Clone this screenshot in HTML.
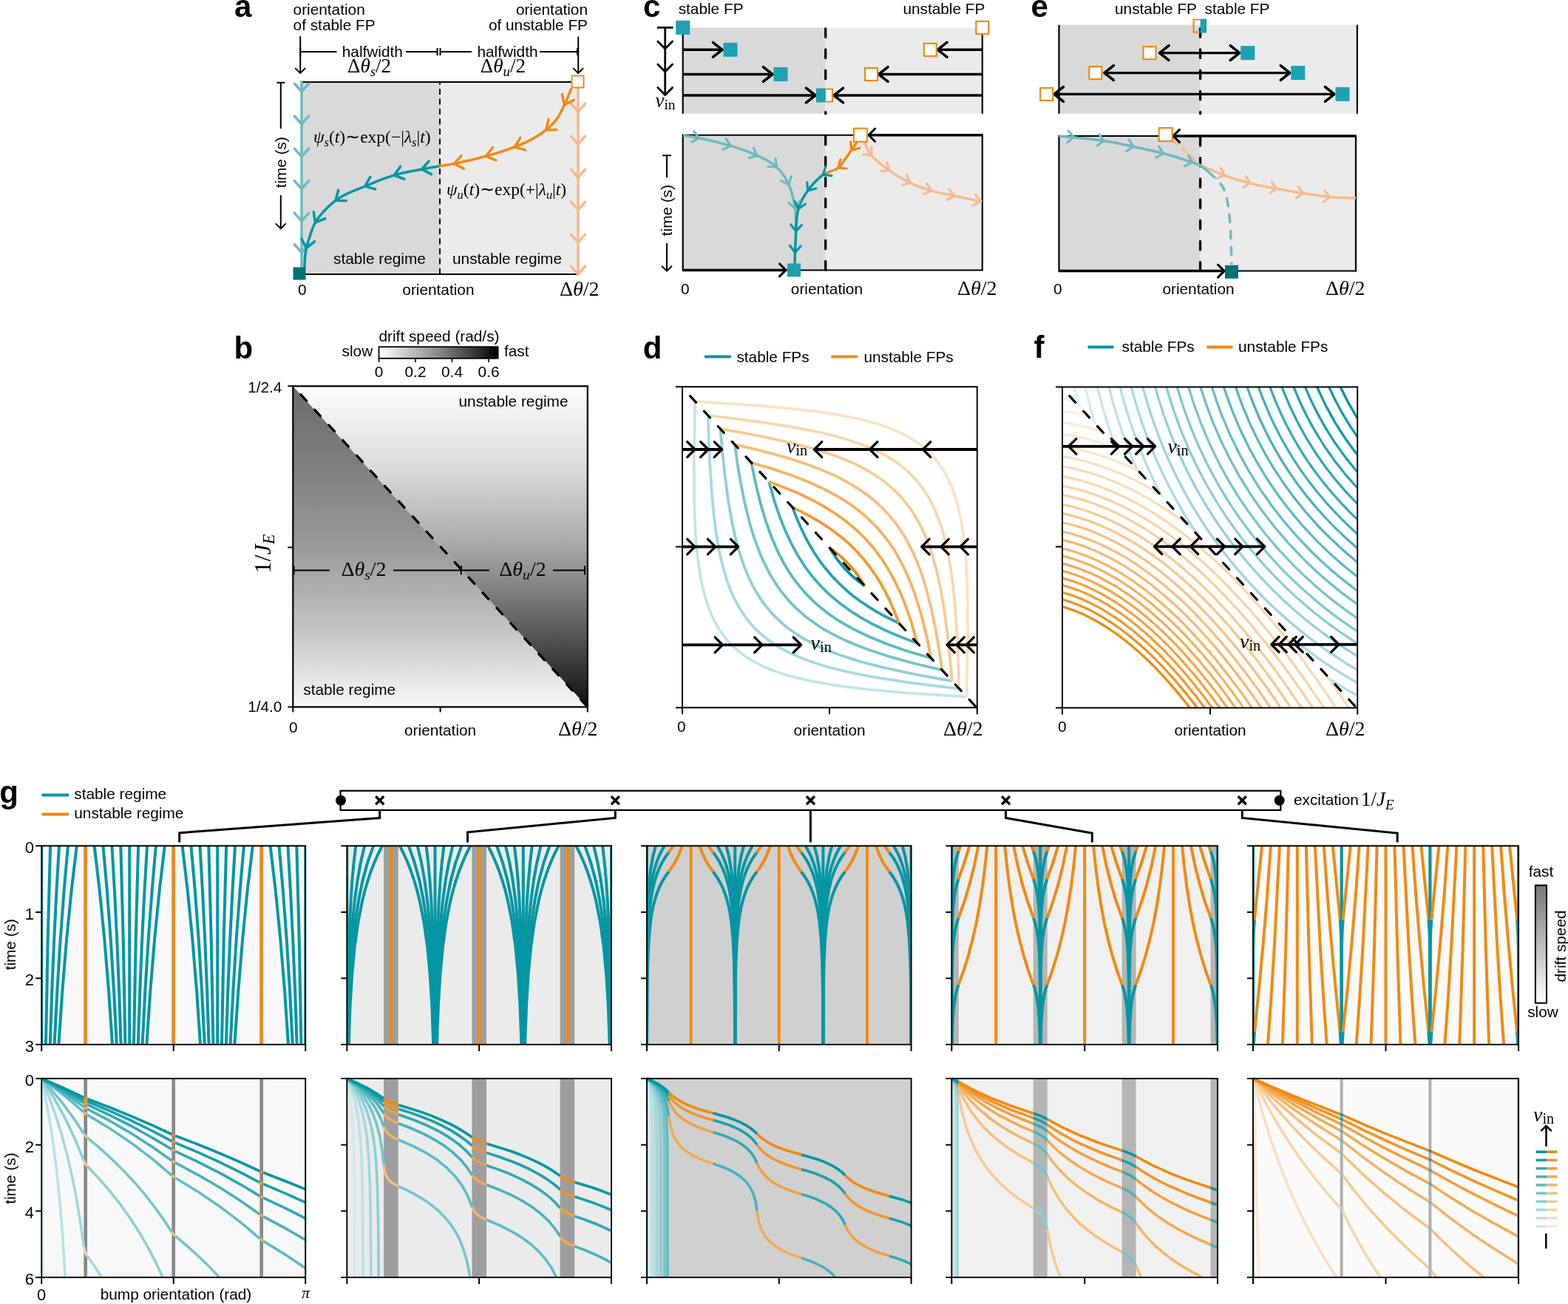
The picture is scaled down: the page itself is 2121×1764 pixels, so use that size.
<!DOCTYPE html>
<html><head><meta charset="utf-8"><style>html,body{margin:0;padding:0;background:#fff;}svg{display:block;}</style></head>
<body><svg xmlns="http://www.w3.org/2000/svg" width="2121" height="1764" viewBox="0 0 2121 1764">
<defs><linearGradient id="gLL" x1="0" y1="522.3" x2="0" y2="956.4" gradientUnits="userSpaceOnUse"><stop offset="0" stop-color="#6c6c6c"/><stop offset="0.25" stop-color="#7f7f7f"/><stop offset="0.5" stop-color="#9a9a9a"/><stop offset="0.75" stop-color="#c2c2c2"/><stop offset="1" stop-color="#f8f8f8"/></linearGradient>
<linearGradient id="gUR" x1="0" y1="522.3" x2="0" y2="956.4" gradientUnits="userSpaceOnUse"><stop offset="0" stop-color="#fdfdfd"/><stop offset="0.25" stop-color="#dcdcdc"/><stop offset="0.5" stop-color="#a8a8a8"/><stop offset="0.75" stop-color="#5e5e5e"/><stop offset="1" stop-color="#0e0e0e"/></linearGradient>
<linearGradient id="gCB" x1="0" y1="0" x2="1" y2="0" gradientUnits="objectBoundingBox"><stop offset="0" stop-color="#ffffff"/><stop offset="0.5" stop-color="#8a8a8a"/><stop offset="1" stop-color="#000000"/></linearGradient>
<clipPath id="cfT"><path d="M1435.5 523.5 L1836.2 523.5 L1836.2 957.5 L1835.1 957.5 Z"/></clipPath>
<clipPath id="cfO"><path d="M1437 523.5 L1435.5 523.5 L1835.1 957.5 L1437 957.5 Z"/></clipPath>
<clipPath id="cg0t"><rect x="56.2" y="1142.3" width="357" height="272.7"/></clipPath>
<clipPath id="cg0b"><rect x="56.2" y="1457" width="358" height="271"/></clipPath>
<clipPath id="cg1t"><rect x="469.3" y="1142.3" width="357.7" height="272.7"/></clipPath>
<clipPath id="cg1b"><rect x="469.3" y="1457" width="358.7" height="271"/></clipPath>
<clipPath id="cg2t"><rect x="875" y="1142.3" width="357.6" height="272.7"/></clipPath>
<clipPath id="cg2b"><rect x="875" y="1457" width="358.6" height="271"/></clipPath>
<clipPath id="cg3t"><rect x="1287.3" y="1142.3" width="359.7" height="272.7"/></clipPath>
<clipPath id="cg3b"><rect x="1287.3" y="1457" width="360.7" height="271"/></clipPath>
<clipPath id="cg4t"><rect x="1695" y="1142.3" width="359.1" height="272.7"/></clipPath>
<clipPath id="cg4b"><rect x="1695" y="1457" width="360.1" height="271"/></clipPath>
<linearGradient id="gSpd" x1="0" y1="0" x2="0" y2="1" gradientUnits="objectBoundingBox"><stop offset="0" stop-color="#777777"/><stop offset="1" stop-color="#ffffff"/></linearGradient></defs>
<rect width="2121" height="1764" fill="#fff"/>
<rect x="408" y="111" width="187" height="260" fill="#d9d9d9" stroke="none" stroke-width="0"/>
<rect x="595" y="111" width="187" height="260" fill="#ebebeb" stroke="none" stroke-width="0"/>
<line x1="408" y1="111" x2="774" y2="111" stroke="#000" stroke-width="2.2" stroke-linecap="butt"/>
<line x1="413" y1="371" x2="782" y2="371" stroke="#000" stroke-width="2.2" stroke-linecap="butt"/>
<line x1="595" y1="111" x2="595" y2="371" stroke="#000" stroke-width="1.9" stroke-dasharray="8.2,5.3" stroke-dashoffset="4.6"/>
<line x1="408" y1="109" x2="408" y2="371" stroke="#70b9bd" stroke-width="3.5" stroke-linecap="butt"/>
<path d="M398.3 113 408 123.8 417.7 113" fill="none" stroke="#70b9bd" stroke-width="3.5" stroke-linecap="round" stroke-linejoin="round"/>
<path d="M398.3 157 408 167.8 417.7 157" fill="none" stroke="#70b9bd" stroke-width="3.5" stroke-linecap="round" stroke-linejoin="round"/>
<path d="M398.3 201 408 211.8 417.7 201" fill="none" stroke="#70b9bd" stroke-width="3.5" stroke-linecap="round" stroke-linejoin="round"/>
<path d="M398.3 244.7 408 255.5 417.7 244.7" fill="none" stroke="#70b9bd" stroke-width="3.5" stroke-linecap="round" stroke-linejoin="round"/>
<path d="M398.3 288.2 408 299 417.7 288.2" fill="none" stroke="#70b9bd" stroke-width="3.5" stroke-linecap="round" stroke-linejoin="round"/>
<path d="M398.3 330.7 408 341.5 417.7 330.7" fill="none" stroke="#70b9bd" stroke-width="3.5" stroke-linecap="round" stroke-linejoin="round"/>
<line x1="782" y1="119" x2="782" y2="373" stroke="#f8b98e" stroke-width="3.5" stroke-linecap="butt"/>
<path d="M772.3 140.2 782 151 791.7 140.2" fill="none" stroke="#f8b98e" stroke-width="3.5" stroke-linecap="round" stroke-linejoin="round"/>
<path d="M772.3 184.2 782 195 791.7 184.2" fill="none" stroke="#f8b98e" stroke-width="3.5" stroke-linecap="round" stroke-linejoin="round"/>
<path d="M772.3 229.2 782 240 791.7 229.2" fill="none" stroke="#f8b98e" stroke-width="3.5" stroke-linecap="round" stroke-linejoin="round"/>
<path d="M772.3 273.2 782 284 791.7 273.2" fill="none" stroke="#f8b98e" stroke-width="3.5" stroke-linecap="round" stroke-linejoin="round"/>
<path d="M772.3 317.2 782 328 791.7 317.2" fill="none" stroke="#f8b98e" stroke-width="3.5" stroke-linecap="round" stroke-linejoin="round"/>
<path d="M772.3 360.2 782 371 791.7 360.2" fill="none" stroke="#f8b98e" stroke-width="3.5" stroke-linecap="round" stroke-linejoin="round"/>
<path d="M773 119.5 772.6 120.5 772.1 121.7 771.5 123.2 770.8 124.8 770.1 126.6 769.4 128.4 768.5 130.4 767.7 132.4 766.9 134.4 766 136.3 765.1 138.2 764.3 140 763.5 141.7 762.6 143.5 761.8 145.3 760.9 147.1 760 149 759.1 150.8 758.2 152.6 757.2 154.4 756.2 156.1 755.2 157.8 754.1 159.4 753 161 751.9 162.5 750.7 164 749.5 165.4 748.2 166.8 747 168.1 745.7 169.5 744.3 170.7 743 172 741.5 173.3 740.1 174.5 738.6 175.8 737 177 735.4 178.2 733.7 179.5 731.9 180.7 730.2 181.9 728.3 183 726.5 184.2 724.5 185.3 722.6 186.5 720.7 187.6 718.7 188.6 716.8 189.7 714.8 190.7 712.8 191.7 710.8 192.6 708.8 193.6 706.8 194.4 704.7 195.3 702.7 196.2 700.6 197 698.5 197.8 696.4 198.6 694.3 199.4 692.1 200.2 690 201 687.9 201.8 685.9 202.5 683.8 203.2 681.8 203.9 679.8 204.6 677.8 205.3 675.7 206 673.5 206.7 671.2 207.4 668.8 208.1 666.3 208.8 663.6 209.6 660.7 210.4 657.5 211.3 654.2 212.1 650.7 213 647.1 214 643.4 214.9 639.8 215.8 636.2 216.7 632.6 217.5 629.2 218.3 626 219 623 219.7 620.1 220.3 617.2 220.9 614.4 221.4 611.5 221.9 608.8 222.4 606.2 222.8 603.7 223.2 601.4 223.6 599.3 223.9 597.5 224.2 595.8 224.5 594.5 224.7" fill="none" stroke="#f08a12" stroke-width="3.5"/>
<path d="M594.5 224.7 593.4 224.9 592 225.1 590.5 225.4 588.8 225.7 586.9 226 584.8 226.3 582.7 226.7 580.4 227.1 578 227.6 575.5 228 573 228.5 570.5 229 567.9 229.5 565.1 230 562.2 230.6 559.2 231.1 556.1 231.7 552.9 232.3 549.6 233 546.4 233.7 543.1 234.4 539.8 235.2 536.5 236.1 533.3 237 530.1 238 526.8 239.1 523.5 240.2 520.2 241.4 516.8 242.6 513.5 243.9 510.1 245.2 506.8 246.6 503.5 247.9 500.2 249.3 496.9 250.6 493.7 252 490.5 253.3 487.3 254.6 484 255.9 480.8 257.2 477.6 258.5 474.4 259.9 471.2 261.3 468.1 262.7 465.1 264.2 462.2 265.8 459.3 267.5 456.6 269.3 453.9 271.2 451.3 273.3 448.7 275.5 446.2 277.7 443.7 280 441.3 282.4 439 284.8 436.8 287.2 434.8 289.6 432.8 292 431 294.3 429.3 296.6 427.8 298.8 426.4 301.1 425.2 303.3 424.2 305.6 423.2 307.8 422.4 310.1 421.6 312.3 420.8 314.4 420.2 316.6 419.5 318.6 418.9 320.7 418.2 322.6 417.6 324.5 417 326.3 416.4 328 415.9 329.7 415.5 331.3 415.1 332.9 414.7 334.5 414.4 336 414 337.6 413.7 339.2 413.5 340.8 413.2 342.4 413 344.1 412.8 345.9 412.6 347.8 412.5 349.7 412.4 351.6 412.3 353.4 412.2 355.2 412.2 356.9 412.1 358.5 412.1 359.9 412 361.1 412 362" fill="none" stroke="#0396a4" stroke-width="3.5"/>
<path d="M760.3 127.6 763.5 141.7 776.4 135.2" fill="none" stroke="#f08a12" stroke-width="3.5" stroke-linecap="round" stroke-linejoin="round"/>
<path d="M741.9 161.6 738.6 175.8 753.1 175.6" fill="none" stroke="#f08a12" stroke-width="3.5" stroke-linecap="round" stroke-linejoin="round"/>
<path d="M703.9 186.2 696.4 198.6 710.2 202.9" fill="none" stroke="#f08a12" stroke-width="3.5" stroke-linecap="round" stroke-linejoin="round"/>
<path d="M666.3 199.7 657.5 211.3 670.9 216.9" fill="none" stroke="#f08a12" stroke-width="3.5" stroke-linecap="round" stroke-linejoin="round"/>
<path d="M624 210.6 614.4 221.4 627.2 228.1" fill="none" stroke="#f08a12" stroke-width="3.5" stroke-linecap="round" stroke-linejoin="round"/>
<path d="M580 218.1 570.5 229 583.4 235.6" fill="none" stroke="#0396a4" stroke-width="3.5" stroke-linecap="round" stroke-linejoin="round"/>
<path d="M541.7 225.2 533.3 237 546.8 242.3" fill="none" stroke="#0396a4" stroke-width="3.5" stroke-linecap="round" stroke-linejoin="round"/>
<path d="M500.8 239.4 493.7 252 507.7 255.9" fill="none" stroke="#0396a4" stroke-width="3.5" stroke-linecap="round" stroke-linejoin="round"/>
<path d="M457.7 257.2 453.9 271.2 468.4 271.5" fill="none" stroke="#0396a4" stroke-width="3.5" stroke-linecap="round" stroke-linejoin="round"/>
<path d="M424.3 286.7 426.4 301.1 439.9 295.6" fill="none" stroke="#0396a4" stroke-width="3.5" stroke-linecap="round" stroke-linejoin="round"/>
<path d="M408 323 414.4 336 425.5 326.7" fill="none" stroke="#0396a4" stroke-width="3.5" stroke-linecap="round" stroke-linejoin="round"/>
<rect x="396.5" y="361.5" width="17" height="17" fill="#037078" stroke="none" stroke-width="0"/>
<rect x="773.5" y="102.5" width="16" height="16" fill="#fff" stroke="#f08a12" stroke-width="2"/>
<text x="317" y="23.3" font-family="'Liberation Sans', Arial, sans-serif" font-size="42" font-weight="bold" font-style="normal" text-anchor="start" fill="#000">a</text>
<text x="396.6" y="19.8" font-family="'Liberation Sans', Arial, sans-serif" font-size="20.8" font-weight="normal" font-style="normal" text-anchor="start" fill="#000">orientation</text>
<text x="396.6" y="40.9" font-family="'Liberation Sans', Arial, sans-serif" font-size="20.8" font-weight="normal" font-style="normal" text-anchor="start" fill="#000">of stable FP</text>
<text x="795" y="19.8" font-family="'Liberation Sans', Arial, sans-serif" font-size="20.8" font-weight="normal" font-style="normal" text-anchor="end" fill="#000">orientation</text>
<text x="795" y="40.9" font-family="'Liberation Sans', Arial, sans-serif" font-size="20.8" font-weight="normal" font-style="normal" text-anchor="end" fill="#000">of unstable FP</text>
<line x1="406.2" y1="49" x2="406.2" y2="98" stroke="#000" stroke-width="2" stroke-linecap="butt"/>
<path d="M399.8 92.6 406.2 99 412.6 92.6" fill="none" stroke="#000" stroke-width="2" stroke-linecap="round" stroke-linejoin="round"/>
<line x1="782.2" y1="49.5" x2="782.2" y2="98" stroke="#000" stroke-width="2" stroke-linecap="butt"/>
<path d="M775.8 92.6 782.2 99 788.6 92.6" fill="none" stroke="#000" stroke-width="2" stroke-linecap="round" stroke-linejoin="round"/>
<line x1="406.2" y1="70" x2="455.4" y2="70" stroke="#000" stroke-width="2" stroke-linecap="butt"/>
<line x1="549" y1="70" x2="591.6" y2="70" stroke="#000" stroke-width="2" stroke-linecap="butt"/>
<line x1="591.6" y1="65" x2="591.6" y2="75" stroke="#000" stroke-width="2" stroke-linecap="butt"/>
<line x1="595.5" y1="65" x2="595.5" y2="75" stroke="#000" stroke-width="2" stroke-linecap="butt"/>
<line x1="595.5" y1="70" x2="638" y2="70" stroke="#000" stroke-width="2" stroke-linecap="butt"/>
<line x1="730" y1="70" x2="781" y2="70" stroke="#000" stroke-width="2" stroke-linecap="butt"/>
<line x1="781" y1="65" x2="781" y2="75" stroke="#000" stroke-width="2" stroke-linecap="butt"/>
<line x1="406.2" y1="65" x2="406.2" y2="75" stroke="#000" stroke-width="2" stroke-linecap="butt"/>
<text x="462.8" y="76.8" font-family="'Liberation Sans', Arial, sans-serif" font-size="20.8" font-weight="normal" font-style="normal" text-anchor="start" fill="#000">halfwidth</text>
<text x="645.4" y="76.8" font-family="'Liberation Sans', Arial, sans-serif" font-size="20.8" font-weight="normal" font-style="normal" text-anchor="start" fill="#000">halfwidth</text>
<text x="470" y="97.8" font-family="'Liberation Serif', 'Times New Roman', serif" font-size="27" text-anchor="start"><tspan dy="0">Δ</tspan><tspan dy="0" font-style="italic">θ</tspan><tspan dy="5" font-size="18.9" font-style="italic">s</tspan><tspan dy="-5">/2</tspan></text>
<text x="649.8" y="97.8" font-family="'Liberation Serif', 'Times New Roman', serif" font-size="27" text-anchor="start"><tspan dy="0">Δ</tspan><tspan dy="0" font-style="italic">θ</tspan><tspan dy="5" font-size="18.9" font-style="italic">u</tspan><tspan dy="-5">/2</tspan></text>
<text x="424" y="193" font-family="'Liberation Serif', 'Times New Roman', serif" font-size="23.5" text-anchor="start"><tspan dy="0" font-style="italic">ψ</tspan><tspan dy="5" font-size="16.4" font-style="italic">s</tspan><tspan dy="-5">(</tspan><tspan dy="0" font-style="italic">t</tspan><tspan dy="0">)∼exp(−|</tspan><tspan dy="0" font-style="italic">λ</tspan><tspan dy="5" font-size="16.4" font-style="italic">s</tspan><tspan dy="-5">|</tspan><tspan dy="0" font-style="italic">t</tspan><tspan dy="0">)</tspan></text>
<text x="604" y="264" font-family="'Liberation Serif', 'Times New Roman', serif" font-size="23.5" text-anchor="start"><tspan dy="0" font-style="italic">ψ</tspan><tspan dy="5" font-size="16.4" font-style="italic">u</tspan><tspan dy="-5">(</tspan><tspan dy="0" font-style="italic">t</tspan><tspan dy="0">)∼exp(+|</tspan><tspan dy="0" font-style="italic">λ</tspan><tspan dy="5" font-size="16.4" font-style="italic">u</tspan><tspan dy="-5">|</tspan><tspan dy="0" font-style="italic">t</tspan><tspan dy="0">)</tspan></text>
<text x="451" y="356.6" font-family="'Liberation Sans', Arial, sans-serif" font-size="20.8" font-weight="normal" font-style="normal" text-anchor="start" fill="#000">stable regime</text>
<text x="612" y="356.6" font-family="'Liberation Sans', Arial, sans-serif" font-size="20.8" font-weight="normal" font-style="normal" text-anchor="start" fill="#000">unstable regime</text>
<text x="403" y="398.7" font-family="'Liberation Sans', Arial, sans-serif" font-size="20.8" font-weight="normal" font-style="normal" text-anchor="start" fill="#000">0</text>
<text x="592.9" y="399" font-family="'Liberation Sans', Arial, sans-serif" font-size="20.8" font-weight="normal" font-style="normal" text-anchor="middle" fill="#000">orientation</text>
<text x="757" y="399.5" font-family="'Liberation Serif', 'Times New Roman', serif" font-size="28" text-anchor="start"><tspan dy="0">Δ</tspan><tspan dy="0" font-style="italic">θ</tspan><tspan dy="0">/2</tspan></text>
<line x1="374.3" y1="111.8" x2="385.4" y2="111.8" stroke="#000" stroke-width="2" stroke-linecap="butt"/>
<line x1="379.8" y1="111.8" x2="379.8" y2="174" stroke="#000" stroke-width="2" stroke-linecap="butt"/>
<text x="387" y="219.7" font-family="'Liberation Sans', Arial, sans-serif" font-size="20.8" font-weight="normal" font-style="normal" text-anchor="middle" fill="#000" transform="rotate(-90 387 219.7)">time (s)</text>
<line x1="379.8" y1="264" x2="379.8" y2="308" stroke="#000" stroke-width="2" stroke-linecap="butt"/>
<path d="M373.4 302.9 379.8 309.3 386.2 302.9" fill="none" stroke="#000" stroke-width="2" stroke-linecap="round" stroke-linejoin="round"/>
<rect x="923.7" y="37.3" width="193" height="116.5" fill="#d9d9d9" stroke="none" stroke-width="0"/>
<rect x="1116.7" y="37.3" width="212.1" height="116.5" fill="#ebebeb" stroke="none" stroke-width="0"/>
<line x1="923.7" y1="37.3" x2="923.7" y2="153.8" stroke="#000" stroke-width="2.2" stroke-linecap="butt"/>
<line x1="1328.8" y1="37.3" x2="1328.8" y2="153.8" stroke="#000" stroke-width="2.2" stroke-linecap="butt"/>
<line x1="1116.7" y1="38.8" x2="1116.7" y2="153.8" stroke="#000" stroke-width="3.3" stroke-linecap="round" stroke-dasharray="11.5,16.7"/>
<line x1="923.7" y1="67.3" x2="977" y2="67.3" stroke="#000" stroke-width="3.4" stroke-linecap="butt"/>
<path d="M964.4 77.2 977 67.3 964.4 57.4" fill="none" stroke="#000" stroke-width="3.5" stroke-linecap="round" stroke-linejoin="round"/>
<line x1="1328.8" y1="67.3" x2="1268.3" y2="67.3" stroke="#000" stroke-width="3.4" stroke-linecap="butt"/>
<path d="M1280.9 57.4 1268.3 67.3 1280.9 77.2" fill="none" stroke="#000" stroke-width="3.5" stroke-linecap="round" stroke-linejoin="round"/>
<rect x="978.5" y="57.8" width="19" height="19" fill="#1ea1b0" stroke="none" stroke-width="0"/>
<rect x="1249.8" y="58.8" width="17" height="17" fill="#fff" stroke="#f08a12" stroke-width="2.2"/>
<line x1="923.7" y1="100.5" x2="1045" y2="100.5" stroke="#000" stroke-width="3.4" stroke-linecap="butt"/>
<path d="M1032.4 110.4 1045 100.5 1032.4 90.6" fill="none" stroke="#000" stroke-width="3.5" stroke-linecap="round" stroke-linejoin="round"/>
<line x1="1328.8" y1="100.5" x2="1188.5" y2="100.5" stroke="#000" stroke-width="3.4" stroke-linecap="butt"/>
<path d="M1201.1 90.6 1188.5 100.5 1201.1 110.4" fill="none" stroke="#000" stroke-width="3.5" stroke-linecap="round" stroke-linejoin="round"/>
<rect x="1046.5" y="91" width="19" height="19" fill="#1ea1b0" stroke="none" stroke-width="0"/>
<rect x="1170" y="92" width="17" height="17" fill="#fff" stroke="#f08a12" stroke-width="2.2"/>
<line x1="923.7" y1="129" x2="1103" y2="129" stroke="#000" stroke-width="3.4" stroke-linecap="butt"/>
<path d="M1090.4 138.9 1103 129 1090.4 119.1" fill="none" stroke="#000" stroke-width="3.5" stroke-linecap="round" stroke-linejoin="round"/>
<line x1="1328.8" y1="129" x2="1128" y2="129" stroke="#000" stroke-width="3.4" stroke-linecap="butt"/>
<path d="M1140.6 119.1 1128 129 1140.6 138.9" fill="none" stroke="#000" stroke-width="3.5" stroke-linecap="round" stroke-linejoin="round"/>
<rect x="1104" y="119.5" width="12.7" height="19" fill="#1ea1b0" stroke="none" stroke-width="0"/>
<rect x="1116.7" y="120.5" width="9.3" height="17" fill="#fff" stroke="none" stroke-width="0"/>
<path d="M1116.7 120.5 1126 120.5 1126 137.5 1116.7 137.5" fill="none" stroke="#f08a12" stroke-width="2.2"/>
<rect x="914.2" y="27.8" width="19" height="19" fill="#1ea1b0" stroke="none" stroke-width="0"/>
<rect x="1320.3" y="28.8" width="17" height="17" fill="#fff" stroke="#f08a12" stroke-width="2.2"/>
<line x1="888.8" y1="37.3" x2="910.5" y2="37.3" stroke="#000" stroke-width="2.8" stroke-linecap="butt"/>
<line x1="899.7" y1="37.3" x2="899.7" y2="129" stroke="#000" stroke-width="2.8" stroke-linecap="butt"/>
<path d="M889.8 56.1 899.7 66 909.6 56.1" fill="none" stroke="#000" stroke-width="2.8" stroke-linecap="round" stroke-linejoin="round"/>
<path d="M889.8 87.1 899.7 97 909.6 87.1" fill="none" stroke="#000" stroke-width="2.8" stroke-linecap="round" stroke-linejoin="round"/>
<path d="M889.8 118.6 899.7 128.5 909.6 118.6" fill="none" stroke="#000" stroke-width="2.8" stroke-linecap="round" stroke-linejoin="round"/>
<text x="886.4" y="145" font-family="'Liberation Serif', 'Times New Roman', serif" font-size="27"><tspan font-style="italic">v</tspan><tspan font-size="19.4" dy="3">in</tspan></text>
<text x="870" y="22.8" font-family="'Liberation Sans', Arial, sans-serif" font-size="42" font-weight="bold" font-style="normal" text-anchor="start" fill="#000">c</text>
<text x="917.7" y="19.2" font-family="'Liberation Sans', Arial, sans-serif" font-size="20.8" font-weight="normal" font-style="normal" text-anchor="start" fill="#000">stable FP</text>
<text x="1332.4" y="19.2" font-family="'Liberation Sans', Arial, sans-serif" font-size="20.8" font-weight="normal" font-style="normal" text-anchor="end" fill="#000">unstable FP</text>
<rect x="923.7" y="182.7" width="193" height="182.7" fill="#d9d9d9" stroke="none" stroke-width="0"/>
<rect x="1116.7" y="182.7" width="212.1" height="182.7" fill="#ebebeb" stroke="none" stroke-width="0"/>
<line x1="1116.7" y1="184.2" x2="1116.7" y2="365.4" stroke="#000" stroke-width="3.3" stroke-linecap="round" stroke-dasharray="11.5,16.7"/>
<line x1="923.7" y1="181.7" x2="923.7" y2="366.4" stroke="#000" stroke-width="2.2" stroke-linecap="butt"/>
<line x1="1328.8" y1="181.7" x2="1328.8" y2="366.4" stroke="#000" stroke-width="2.2" stroke-linecap="butt"/>
<line x1="923.7" y1="182.7" x2="1328.8" y2="182.7" stroke="#000" stroke-width="2" stroke-linecap="butt"/>
<line x1="923.7" y1="365.4" x2="1328.8" y2="365.4" stroke="#000" stroke-width="2" stroke-linecap="butt"/>
<path d="M924 183.5 925 183.6 926.1 183.8 927.4 183.9 928.8 184.1 930.4 184.2 932.2 184.4 934.1 184.7 936.1 185 938.3 185.3 940.6 185.7 943.1 186.2 945.7 186.7 948.6 187.3 951.7 188 955.1 188.8 958.7 189.6 962.4 190.5 966.3 191.4 970.2 192.4 974 193.4 977.9 194.4 981.6 195.4 985.2 196.4 988.6 197.4 991.9 198.4 995.1 199.4 998.3 200.4 1001.4 201.5 1004.5 202.6 1007.5 203.7 1010.5 204.8 1013.4 205.9 1016.2 207 1019 208.2 1021.7 209.3 1024.3 210.5 1026.8 211.7 1029.3 212.8 1031.7 214 1034.1 215.2 1036.4 216.4 1038.6 217.6 1040.8 218.8 1042.8 220.1 1044.9 221.5 1046.8 222.9 1048.7 224.4 1050.5 226 1052.2 227.7 1053.9 229.4 1055.5 231.2 1057 233 1058.5 234.9 1059.9 236.9 1061.2 238.9 1062.5 240.9 1063.7 243.1 1064.8 245.3 1065.9 247.5 1067 249.8 1068 252.2 1069 254.7 1069.9 257.4 1070.7 260.1 1071.5 262.8 1072.2 265.6 1072.9 268.5 1073.5 271.3 1074.1 274 1074.6 276.8 1075.1 279.4 1075.5 282 1075.8 284.6 1076.1 287.2 1076.3 290 1076.4 292.7 1076.5 295.4 1076.5 298 1076.5 300.5 1076.5 302.9 1076.5 305.1 1076.5 307 1076.5 308.7 1076.5 310" fill="none" stroke="#70b9bd" stroke-width="3.5"/>
<path d="M1169.5 192.6 1169.9 193.5 1170.4 194.5 1170.9 195.8 1171.4 197.2 1172.1 198.7 1172.8 200.3 1173.5 202 1174.4 203.7 1175.4 205.4 1176.5 207.2 1177.7 208.9 1179 210.5 1180.5 212.1 1182.1 213.8 1183.9 215.5 1185.7 217.2 1187.7 218.9 1189.8 220.7 1191.9 222.4 1194.1 224.1 1196.3 225.8 1198.5 227.5 1200.7 229.1 1202.9 230.7 1205.1 232.2 1207.4 233.8 1209.7 235.3 1212.1 236.8 1214.4 238.2 1216.9 239.6 1219.3 241.1 1221.7 242.4 1224.2 243.7 1226.6 245 1229 246.2 1231.4 247.4 1233.8 248.5 1236.1 249.6 1238.5 250.6 1240.8 251.5 1243.2 252.4 1245.5 253.3 1247.9 254.1 1250.3 255 1252.7 255.7 1255.1 256.5 1257.5 257.3 1260 258 1262.5 258.7 1265 259.4 1267.4 260 1269.9 260.6 1272.4 261.1 1274.9 261.7 1277.5 262.2 1280.1 262.8 1282.7 263.3 1285.4 263.8 1288.2 264.4 1291 265 1294 265.6 1297.3 266.3 1300.8 267 1304.4 267.8 1308.1 268.5 1311.7 269.2 1315.2 269.9 1318.5 270.6 1321.6 271.2 1324.3 271.8 1326.7 272.2 1328.5 272.6" fill="none" stroke="#f8b98e" stroke-width="3.5"/>
<path d="M1159 192.3 1158.7 192.8 1158.2 193.5 1157.7 194.2 1157.2 195.1 1156.5 196 1155.9 197 1155.2 198.1 1154.5 199.1 1153.8 200.2 1153.1 201.3 1152.4 202.3 1151.7 203.3 1151 204.3 1150.3 205.3 1149.6 206.3 1148.9 207.3 1148.2 208.3 1147.5 209.4 1146.7 210.4 1146 211.4 1145.2 212.5 1144.5 213.5 1143.7 214.5 1143 215.5 1142.3 216.5 1141.6 217.5 1140.9 218.5 1140.3 219.5 1139.6 220.5 1138.9 221.6 1138.2 222.5 1137.5 223.5 1136.7 224.4 1135.8 225.3 1134.8 226.2 1133.8 227 1132.6 227.8 1131.2 228.6 1129.7 229.3 1128.1 230 1126.4 230.7 1124.7 231.4 1123 232 1121.4 232.6 1120 233.2 1118.7 233.6 1117.6 234.1 1116.7 234.4" fill="none" stroke="#f08a12" stroke-width="3.5"/>
<path d="M1116.7 234.4 1116.4 234.6 1116 234.8 1115.6 235.1 1115.2 235.3 1114.7 235.6 1114.1 236 1113.5 236.3 1112.9 236.7 1112.2 237.2 1111.5 237.8 1110.8 238.3 1110 239 1109.2 239.7 1108.3 240.5 1107.3 241.4 1106.3 242.4 1105.3 243.4 1104.2 244.4 1103.1 245.5 1102 246.6 1101 247.7 1099.9 248.8 1098.9 249.9 1098 251 1097.1 252.1 1096.2 253.2 1095.3 254.4 1094.4 255.6 1093.5 256.7 1092.7 257.9 1091.8 259.1 1091 260.3 1090.2 261.5 1089.4 262.7 1088.7 263.9 1088 265 1087.3 266.1 1086.7 267.2 1086 268.3 1085.4 269.3 1084.8 270.4 1084.3 271.4 1083.8 272.5 1083.2 273.6 1082.7 274.6 1082.3 275.7 1081.8 276.8 1081.4 278 1081 279.2 1080.6 280.3 1080.3 281.5 1080 282.7 1079.7 283.9 1079.4 285.1 1079.1 286.3 1078.9 287.6 1078.6 288.9 1078.4 290.2 1078.2 291.6 1078 293 1077.8 294.5 1077.7 295.9 1077.5 297.4 1077.4 299 1077.3 300.5 1077.2 302.1 1077.1 303.8 1077 305.4 1077 307.2 1076.9 309 1076.8 310.9 1076.7 312.9 1076.6 315 1076.5 317.3 1076.4 319.6 1076.3 322.1 1076.2 324.6 1076.1 327.2 1075.9 329.7 1075.8 332.3 1075.7 334.7 1075.7 337.1 1075.6 339.3 1075.5 341.4 1075.4 343.4 1075.4 345.4 1075.3 347.3 1075.3 349.2 1075.2 351 1075.2 352.8 1075.1 354.4 1075.1 356 1075.1 357.4 1075 358.6 1075 359.7 1075 360.6" fill="none" stroke="#0396a4" stroke-width="3.5"/>
<path d="M935.6 192.1 945.7 186.7 938.6 177.7" fill="none" stroke="#70b9bd" stroke-width="3.2" stroke-linecap="round" stroke-linejoin="round"/>
<path d="M978 202 988.6 197.4 982.3 187.8" fill="none" stroke="#70b9bd" stroke-width="3.2" stroke-linecap="round" stroke-linejoin="round"/>
<path d="M1013.2 213.6 1024.3 210.5 1019.3 200.1" fill="none" stroke="#70b9bd" stroke-width="3.2" stroke-linecap="round" stroke-linejoin="round"/>
<path d="M1039 225.5 1050.5 226 1049 214.6" fill="none" stroke="#70b9bd" stroke-width="3.2" stroke-linecap="round" stroke-linejoin="round"/>
<path d="M1056.7 244.7 1067 249.8 1070.2 238.8" fill="none" stroke="#70b9bd" stroke-width="3.2" stroke-linecap="round" stroke-linejoin="round"/>
<path d="M1066.9 274.3 1075.5 282 1081.6 272.2" fill="none" stroke="#70b9bd" stroke-width="3.2" stroke-linecap="round" stroke-linejoin="round"/>
<path d="M1167.7 208.6 1179 210.5 1178.9 199" fill="none" stroke="#f8b98e" stroke-width="3.2" stroke-linecap="round" stroke-linejoin="round"/>
<path d="M1191.4 231.7 1202.9 230.7 1199.9 219.6" fill="none" stroke="#f8b98e" stroke-width="3.2" stroke-linecap="round" stroke-linejoin="round"/>
<path d="M1220.3 250.3 1231.4 247.4 1226.6 236.9" fill="none" stroke="#f8b98e" stroke-width="3.2" stroke-linecap="round" stroke-linejoin="round"/>
<path d="M1249.5 262.6 1260 258 1253.6 248.4" fill="none" stroke="#f8b98e" stroke-width="3.2" stroke-linecap="round" stroke-linejoin="round"/>
<path d="M1280.9 270.4 1291 265 1283.9 256" fill="none" stroke="#f8b98e" stroke-width="3.2" stroke-linecap="round" stroke-linejoin="round"/>
<path d="M1316.6 277.7 1326.7 272.2 1319.5 263.3" fill="none" stroke="#f8b98e" stroke-width="3.2" stroke-linecap="round" stroke-linejoin="round"/>
<path d="M1150.6 191.9 1151.7 203.3 1162.8 200.2" fill="none" stroke="#f08a12" stroke-width="3.2" stroke-linecap="round" stroke-linejoin="round"/>
<path d="M1136.8 215.9 1133.8 227 1145.3 228" fill="none" stroke="#f08a12" stroke-width="3.2" stroke-linecap="round" stroke-linejoin="round"/>
<path d="M1116.8 225.3 1113.5 236.3 1124.9 237.7" fill="none" stroke="#0396a4" stroke-width="3.2" stroke-linecap="round" stroke-linejoin="round"/>
<path d="M1091.7 246.5 1092.7 257.9 1103.8 255" fill="none" stroke="#0396a4" stroke-width="3.2" stroke-linecap="round" stroke-linejoin="round"/>
<path d="M1075.1 272.3 1080 282.7 1089.4 276" fill="none" stroke="#0396a4" stroke-width="3.2" stroke-linecap="round" stroke-linejoin="round"/>
<path d="M1069.7 303.7 1076.7 312.9 1084.5 304.5" fill="none" stroke="#0396a4" stroke-width="3.2" stroke-linecap="round" stroke-linejoin="round"/>
<path d="M1068.4 332.3 1075.5 341.4 1083.2 332.9" fill="none" stroke="#0396a4" stroke-width="3.2" stroke-linecap="round" stroke-linejoin="round"/>
<line x1="1328.8" y1="182.7" x2="1176" y2="182.7" stroke="#000" stroke-width="3.5" stroke-linecap="butt"/>
<path d="M1183.5 174.2 1175 182.7 1183.5 191.2" fill="none" stroke="#000" stroke-width="3" stroke-linecap="round" stroke-linejoin="round"/>
<line x1="923.7" y1="365.4" x2="1062" y2="365.4" stroke="#000" stroke-width="3.5" stroke-linecap="butt"/>
<path d="M1054.5 373.9 1063 365.4 1054.5 356.9" fill="none" stroke="#000" stroke-width="3" stroke-linecap="round" stroke-linejoin="round"/>
<rect x="1155" y="173.7" width="18" height="18" fill="#fff" stroke="#f08a12" stroke-width="2.2"/>
<rect x="1065" y="356.4" width="18" height="18" fill="#1ea1b0" stroke="none" stroke-width="0"/>
<line x1="896" y1="210.3" x2="908" y2="210.3" stroke="#000" stroke-width="2" stroke-linecap="butt"/>
<line x1="902" y1="210.3" x2="902" y2="240" stroke="#000" stroke-width="2" stroke-linecap="butt"/>
<text x="909" y="284.5" font-family="'Liberation Sans', Arial, sans-serif" font-size="20.8" font-weight="normal" font-style="normal" text-anchor="middle" fill="#000" transform="rotate(-90 909 284.5)">time (s)</text>
<line x1="902" y1="329" x2="902" y2="365" stroke="#000" stroke-width="2" stroke-linecap="butt"/>
<path d="M895.6 360.2 902 366.6 908.4 360.2" fill="none" stroke="#000" stroke-width="2" stroke-linecap="round" stroke-linejoin="round"/>
<text x="921" y="398" font-family="'Liberation Sans', Arial, sans-serif" font-size="20.8" font-weight="normal" font-style="normal" text-anchor="start" fill="#000">0</text>
<text x="1118.4" y="398" font-family="'Liberation Sans', Arial, sans-serif" font-size="20.8" font-weight="normal" font-style="normal" text-anchor="middle" fill="#000">orientation</text>
<text x="1295" y="398.5" font-family="'Liberation Serif', 'Times New Roman', serif" font-size="28" text-anchor="start"><tspan dy="0">Δ</tspan><tspan dy="0" font-style="italic">θ</tspan><tspan dy="0">/2</tspan></text>
<rect x="1432.5" y="33.7" width="191.1" height="120.1" fill="#d9d9d9" stroke="none" stroke-width="0"/>
<rect x="1623.6" y="33.7" width="212.3" height="120.1" fill="#ebebeb" stroke="none" stroke-width="0"/>
<line x1="1432.5" y1="33.7" x2="1432.5" y2="153.8" stroke="#000" stroke-width="2.2" stroke-linecap="butt"/>
<line x1="1835.9" y1="33.7" x2="1835.9" y2="153.8" stroke="#000" stroke-width="2.2" stroke-linecap="butt"/>
<line x1="1623.6" y1="38.7" x2="1623.6" y2="153.8" stroke="#000" stroke-width="3.3" stroke-linecap="round" stroke-dasharray="11.5,16.7"/>
<line x1="1568.5" y1="71.6" x2="1676.8" y2="71.6" stroke="#000" stroke-width="3.4" stroke-linecap="butt"/>
<path d="M1581.1 61.7 1568.5 71.6 1581.1 81.5" fill="none" stroke="#000" stroke-width="3.5" stroke-linecap="round" stroke-linejoin="round"/>
<path d="M1664.2 81.5 1676.8 71.6 1664.2 61.7" fill="none" stroke="#000" stroke-width="3.5" stroke-linecap="round" stroke-linejoin="round"/>
<rect x="1678.3" y="62.1" width="19" height="19" fill="#1ea1b0" stroke="none" stroke-width="0"/>
<rect x="1546.5" y="63.1" width="17" height="17" fill="#fff" stroke="#f08a12" stroke-width="2.2"/>
<line x1="1493.8" y1="98.6" x2="1744.8" y2="98.6" stroke="#000" stroke-width="3.4" stroke-linecap="butt"/>
<path d="M1506.4 88.7 1493.8 98.6 1506.4 108.5" fill="none" stroke="#000" stroke-width="3.5" stroke-linecap="round" stroke-linejoin="round"/>
<path d="M1732.2 108.5 1744.8 98.6 1732.2 88.7" fill="none" stroke="#000" stroke-width="3.5" stroke-linecap="round" stroke-linejoin="round"/>
<rect x="1746.3" y="89.1" width="19" height="19" fill="#1ea1b0" stroke="none" stroke-width="0"/>
<rect x="1473.3" y="90.1" width="17" height="17" fill="#fff" stroke="#f08a12" stroke-width="2.2"/>
<line x1="1425.9" y1="127.4" x2="1805" y2="127.4" stroke="#000" stroke-width="3.4" stroke-linecap="butt"/>
<path d="M1438.5 117.5 1425.9 127.4 1438.5 137.3" fill="none" stroke="#000" stroke-width="3.5" stroke-linecap="round" stroke-linejoin="round"/>
<path d="M1792.4 137.3 1805 127.4 1792.4 117.5" fill="none" stroke="#000" stroke-width="3.5" stroke-linecap="round" stroke-linejoin="round"/>
<rect x="1806.5" y="117.9" width="19" height="19" fill="#1ea1b0" stroke="none" stroke-width="0"/>
<rect x="1407.2" y="118.9" width="17" height="17" fill="#fff" stroke="#f08a12" stroke-width="2.2"/>
<rect x="1623.6" y="26.5" width="-9.1" height="17" fill="#fff" stroke="none" stroke-width="0"/>
<path d="M1623.6 26.5 1614.5 26.5 1614.5 43.5 1623.6 43.5" fill="none" stroke="#f08a12" stroke-width="2.2"/>
<rect x="1623.6" y="25.5" width="8.5" height="19" fill="#1ea1b0" stroke="none" stroke-width="0"/>
<text x="1394.4" y="22.8" font-family="'Liberation Sans', Arial, sans-serif" font-size="42" font-weight="bold" font-style="normal" text-anchor="start" fill="#000">e</text>
<text x="1508" y="19.2" font-family="'Liberation Sans', Arial, sans-serif" font-size="20.8" font-weight="normal" font-style="normal" text-anchor="start" fill="#000">unstable FP</text>
<text x="1629.6" y="19.2" font-family="'Liberation Sans', Arial, sans-serif" font-size="20.8" font-weight="normal" font-style="normal" text-anchor="start" fill="#000">stable FP</text>
<rect x="1432.5" y="183.9" width="191.1" height="182.7" fill="#d9d9d9" stroke="none" stroke-width="0"/>
<rect x="1623.6" y="183.9" width="210.4" height="182.7" fill="#ebebeb" stroke="none" stroke-width="0"/>
<line x1="1623.6" y1="185.4" x2="1623.6" y2="366.6" stroke="#000" stroke-width="3.3" stroke-linecap="round" stroke-dasharray="11.5,16.7"/>
<line x1="1432.5" y1="182.9" x2="1432.5" y2="367.6" stroke="#000" stroke-width="2.2" stroke-linecap="butt"/>
<line x1="1834" y1="182.9" x2="1834" y2="367.6" stroke="#000" stroke-width="2.2" stroke-linecap="butt"/>
<line x1="1432.5" y1="183.9" x2="1834" y2="183.9" stroke="#000" stroke-width="2" stroke-linecap="butt"/>
<line x1="1432.5" y1="366.6" x2="1834" y2="366.6" stroke="#000" stroke-width="2" stroke-linecap="butt"/>
<path d="M1586 190 1586.7 190.6 1587.7 191.3 1588.8 192.2 1590 193.2 1591.4 194.3 1592.8 195.4 1594.3 196.6 1595.7 197.7 1597.1 198.9 1598.5 200 1599.7 201 1600.8 202 1601.8 202.9 1602.7 203.7 1603.5 204.5 1604.3 205.3 1605.1 206.1 1605.8 206.8 1606.5 207.6 1607.2 208.3 1608 209.1 1608.7 209.9 1609.5 210.7 1610.4 211.5 1611.3 212.4 1612.4 213.4 1613.4 214.4 1614.5 215.5 1615.7 216.5 1616.8 217.6 1617.9 218.6 1618.9 219.6 1619.9 220.5 1620.7 221.3 1621.4 222 1622 222.5" fill="none" stroke="#f8b98e" stroke-width="3.5" stroke-dasharray="10,6"/>
<path d="M1634.4 232 1635.4 233 1636.6 234.2 1638.1 235.6 1639.8 237.2 1641.7 238.9 1643.6 240.7 1645.5 242.6 1647.4 244.6 1649.3 246.6 1651 248.6 1652.5 250.5 1653.7 252.4 1654.7 254.2 1655.7 256.1 1656.5 257.9 1657.2 259.7 1657.8 261.5 1658.3 263.4 1658.8 265.4 1659.3 267.4 1659.7 269.5 1660.1 271.7 1660.6 274 1661 276.4 1661.4 279 1661.8 281.6 1662.2 284.4 1662.5 287.2 1662.8 290.1 1663.1 293.1 1663.4 296.2 1663.6 299.3 1663.9 302.5 1664.1 305.8 1664.3 309.1 1664.5 312.5 1664.7 316.1 1664.9 320.1 1665.1 324.3 1665.2 328.7 1665.3 333.1 1665.5 337.5 1665.6 341.8 1665.7 345.9 1665.8 349.6 1665.9 352.9 1665.9 355.8 1666 358" fill="none" stroke="#70b9bd" stroke-width="3.5" stroke-dasharray="13,9"/>
<path d="M1622 222.5 1623.8 223.3 1626 224.2 1628.6 225.4 1631.5 226.7 1634.6 228.1 1638 229.6 1641.5 231.1 1645 232.6 1648.6 234.1 1652 235.5 1655.4 236.8 1658.5 238 1661.5 239.1 1664.5 240.1 1667.5 241.1 1670.5 242.1 1673.5 243 1676.5 243.9 1679.5 244.8 1682.5 245.6 1685.5 246.5 1688.5 247.3 1691.5 248 1694.5 248.8 1697.5 249.5 1700.5 250.2 1703.5 250.9 1706.5 251.5 1709.5 252.1 1712.5 252.7 1715.6 253.3 1718.6 253.8 1721.6 254.4 1724.6 254.9 1727.6 255.5 1730.6 256 1733.6 256.5 1736.6 257.1 1739.6 257.6 1742.6 258.1 1745.6 258.6 1748.6 259.2 1751.6 259.6 1754.6 260.1 1757.6 260.6 1760.6 261.1 1763.6 261.5 1766.6 262 1769.6 262.5 1772.7 262.9 1775.7 263.4 1778.8 263.8 1781.9 264.3 1784.9 264.7 1788 265.1 1791 265.5 1794 265.9 1797 266.2 1799.9 266.5 1802.7 266.8 1805.6 267 1808.6 267.2 1811.6 267.4 1814.6 267.5 1817.7 267.6 1820.6 267.7 1823.4 267.8 1826.1 267.8 1828.5 267.9 1830.7 267.9 1832.5 268 1834 268" fill="none" stroke="#f8b98e" stroke-width="3.5"/>
<path d="M1432.5 183.9 1435.3 184.2 1438.9 184.5 1443.1 184.9 1447.8 185.4 1452.9 185.8 1458.2 186.4 1463.8 186.9 1469.4 187.5 1474.9 188.1 1480.3 188.7 1485.4 189.4 1490 190 1494.4 190.7 1498.6 191.4 1502.8 192.1 1507 192.9 1511 193.7 1515 194.5 1519 195.4 1522.9 196.2 1526.7 197 1530.5 197.9 1534.3 198.7 1538 199.5 1541.7 200.3 1545.4 201.1 1549 201.9 1552.6 202.7 1556.1 203.4 1559.6 204.2 1563 205 1566.3 205.8 1569.6 206.6 1572.8 207.4 1576 208.2 1579 209 1582 209.8 1585 210.7 1587.9 211.5 1590.8 212.4 1593.6 213.3 1596.3 214.2 1598.9 215.1 1601.4 215.9 1603.8 216.7 1606 217.5 1608.1 218.2 1610 218.8 1611.7 219.4 1613.1 219.8 1614.4 220.3 1615.5 220.6 1616.5 221 1617.4 221.3 1618.2 221.6 1619 221.9 1619.8 222.3 1620.6 222.6 1621.4 223.1 1622.4 223.6 1623.5 224.2 1624.6 224.9 1625.7 225.6 1626.9 226.4 1628 227.3 1629.2 228.1 1630.3 228.9 1631.3 229.7 1632.3 230.4 1633.1 231 1633.8 231.6 1634.4 232" fill="none" stroke="#70b9bd" stroke-width="3.5"/>
<path d="M1443.9 192.8 1452.4 185.8 1445.4 177.3" fill="none" stroke="#70b9bd" stroke-width="3.2" stroke-linecap="round" stroke-linejoin="round"/>
<path d="M1484.3 197 1493.1 190.5 1486.6 181.6" fill="none" stroke="#70b9bd" stroke-width="3.2" stroke-linecap="round" stroke-linejoin="round"/>
<path d="M1524.1 204.4 1533.3 198.5 1527.4 189.2" fill="none" stroke="#70b9bd" stroke-width="3.2" stroke-linecap="round" stroke-linejoin="round"/>
<path d="M1563.9 213.1 1573.3 207.5 1567.7 198.1" fill="none" stroke="#70b9bd" stroke-width="3.2" stroke-linecap="round" stroke-linejoin="round"/>
<path d="M1602.7 224.6 1612.5 219.6 1607.5 209.8" fill="none" stroke="#70b9bd" stroke-width="3.2" stroke-linecap="round" stroke-linejoin="round"/>
<path d="M1646 241.6 1656 237.1 1651.5 227.1" fill="none" stroke="#f8b98e" stroke-width="3.2" stroke-linecap="round" stroke-linejoin="round"/>
<path d="M1681.4 253.4 1690.9 247.9 1685.3 238.4" fill="none" stroke="#f8b98e" stroke-width="3.2" stroke-linecap="round" stroke-linejoin="round"/>
<path d="M1717.5 261.5 1726.6 255.3 1720.3 246.2" fill="none" stroke="#f8b98e" stroke-width="3.2" stroke-linecap="round" stroke-linejoin="round"/>
<path d="M1753.7 267.9 1762.6 261.4 1756.1 252.5" fill="none" stroke="#f8b98e" stroke-width="3.2" stroke-linecap="round" stroke-linejoin="round"/>
<path d="M1790.2 273.3 1798.7 266.4 1791.8 257.9" fill="none" stroke="#f8b98e" stroke-width="3.2" stroke-linecap="round" stroke-linejoin="round"/>
<line x1="1834" y1="183.9" x2="1588" y2="183.9" stroke="#000" stroke-width="3.5" stroke-linecap="butt"/>
<path d="M1595.5 175.4 1587 183.9 1595.5 192.4" fill="none" stroke="#000" stroke-width="3" stroke-linecap="round" stroke-linejoin="round"/>
<line x1="1432.5" y1="366.6" x2="1655" y2="366.6" stroke="#000" stroke-width="3.5" stroke-linecap="butt"/>
<path d="M1647.5 375.1 1656 366.6 1647.5 358.1" fill="none" stroke="#000" stroke-width="3" stroke-linecap="round" stroke-linejoin="round"/>
<rect x="1567.7" y="173" width="18" height="18" fill="#fff" stroke="#f08a12" stroke-width="2.2"/>
<rect x="1657" y="358.8" width="18" height="18" fill="#037078" stroke="none" stroke-width="0"/>
<text x="1425" y="397.8" font-family="'Liberation Sans', Arial, sans-serif" font-size="20.8" font-weight="normal" font-style="normal" text-anchor="start" fill="#000">0</text>
<text x="1621" y="398" font-family="'Liberation Sans', Arial, sans-serif" font-size="20.8" font-weight="normal" font-style="normal" text-anchor="middle" fill="#000">orientation</text>
<text x="1793" y="398.5" font-family="'Liberation Serif', 'Times New Roman', serif" font-size="28" text-anchor="start"><tspan dy="0">Δ</tspan><tspan dy="0" font-style="italic">θ</tspan><tspan dy="0">/2</tspan></text>
<path d="M396.3 522.3 L396.3 956.4 L794.8 956.4 Z" fill="url(#gLL)"/>
<path d="M396.3 522.3 L794.8 522.3 L794.8 956.4 Z" fill="url(#gUR)"/>
<line x1="396.3" y1="522.3" x2="794.8" y2="956.4" stroke="#000" stroke-width="3.3" stroke-linecap="round" stroke-dasharray="11.5,16.5" stroke-dashoffset="12.5"/>
<path d="M396.3 522.3 794.8 522.3 794.8 956.4 396.3 956.4Z" fill="none" stroke="#000" stroke-width="2.2"/>
<line x1="389.3" y1="522.3" x2="396.3" y2="522.3" stroke="#000" stroke-width="2" stroke-linecap="butt"/>
<line x1="389.3" y1="740.5" x2="396.3" y2="740.5" stroke="#000" stroke-width="2" stroke-linecap="butt"/>
<line x1="389.3" y1="956.4" x2="396.3" y2="956.4" stroke="#000" stroke-width="2" stroke-linecap="butt"/>
<line x1="396.3" y1="956.4" x2="396.3" y2="963.4" stroke="#000" stroke-width="2" stroke-linecap="butt"/>
<line x1="595.6" y1="956.4" x2="595.6" y2="963.4" stroke="#000" stroke-width="2" stroke-linecap="butt"/>
<line x1="794.8" y1="956.4" x2="794.8" y2="963.4" stroke="#000" stroke-width="2" stroke-linecap="butt"/>
<text x="381.4" y="531.3" font-family="'Liberation Sans', Arial, sans-serif" font-size="20.8" font-weight="normal" font-style="normal" text-anchor="end" fill="#000">1/2.4</text>
<text x="381.4" y="963" font-family="'Liberation Sans', Arial, sans-serif" font-size="20.8" font-weight="normal" font-style="normal" text-anchor="end" fill="#000">1/4.0</text>
<text transform="rotate(-90 366 749)" text-anchor="middle" x="366" y="749" font-family="'Liberation Serif', 'Times New Roman', serif" font-size="32" ><tspan dy="0">1/</tspan><tspan dy="0" font-style="italic">J</tspan><tspan dy="5" font-size="22.4" font-style="italic">E</tspan></text>
<line x1="396.3" y1="771.4" x2="446" y2="771.4" stroke="#000" stroke-width="2" stroke-linecap="butt"/>
<line x1="532" y1="771.4" x2="623.8" y2="771.4" stroke="#000" stroke-width="2" stroke-linecap="butt"/>
<line x1="623.8" y1="771.4" x2="662" y2="771.4" stroke="#000" stroke-width="2" stroke-linecap="butt"/>
<line x1="748" y1="771.4" x2="791" y2="771.4" stroke="#000" stroke-width="2" stroke-linecap="butt"/>
<line x1="397.5" y1="765.4" x2="397.5" y2="777.4" stroke="#000" stroke-width="2" stroke-linecap="butt"/>
<line x1="623.8" y1="765.4" x2="623.8" y2="777.4" stroke="#000" stroke-width="2" stroke-linecap="butt"/>
<line x1="791" y1="765.4" x2="791" y2="777.4" stroke="#000" stroke-width="2" stroke-linecap="butt"/>
<text x="492" y="779" font-family="'Liberation Serif', 'Times New Roman', serif" font-size="28" text-anchor="middle"><tspan dy="0">Δ</tspan><tspan dy="0" font-style="italic">θ</tspan><tspan dy="5" font-size="19.6" font-style="italic">s</tspan><tspan dy="-5">/2</tspan></text>
<text x="707" y="779" font-family="'Liberation Serif', 'Times New Roman', serif" font-size="28" text-anchor="middle"><tspan dy="0">Δ</tspan><tspan dy="0" font-style="italic">θ</tspan><tspan dy="5" font-size="19.6" font-style="italic">u</tspan><tspan dy="-5">/2</tspan></text>
<text x="620.5" y="549.6" font-family="'Liberation Sans', Arial, sans-serif" font-size="20.8" font-weight="normal" font-style="normal" text-anchor="start" fill="#000">unstable regime</text>
<text x="410.3" y="939.8" font-family="'Liberation Sans', Arial, sans-serif" font-size="20.8" font-weight="normal" font-style="normal" text-anchor="start" fill="#000">stable regime</text>
<text x="391" y="991" font-family="'Liberation Sans', Arial, sans-serif" font-size="20.8" font-weight="normal" font-style="normal" text-anchor="start" fill="#000">0</text>
<text x="595.6" y="994.6" font-family="'Liberation Sans', Arial, sans-serif" font-size="20.8" font-weight="normal" font-style="normal" text-anchor="middle" fill="#000">orientation</text>
<text x="755" y="994.5" font-family="'Liberation Serif', 'Times New Roman', serif" font-size="28" text-anchor="start"><tspan dy="0">Δ</tspan><tspan dy="0" font-style="italic">θ</tspan><tspan dy="0">/2</tspan></text>
<rect x="512.5" y="469.2" width="161.1" height="15.6" fill="url(#gCB)" stroke="#000" stroke-width="1.8"/>
<line x1="512.5" y1="484.8" x2="512.5" y2="490" stroke="#000" stroke-width="1.6" stroke-linecap="butt"/>
<text x="512.5" y="509.7" font-family="'Liberation Sans', Arial, sans-serif" font-size="20.8" font-weight="normal" font-style="normal" text-anchor="middle" fill="#000">0</text>
<line x1="562" y1="484.8" x2="562" y2="490" stroke="#000" stroke-width="1.6" stroke-linecap="butt"/>
<text x="562" y="509.7" font-family="'Liberation Sans', Arial, sans-serif" font-size="20.8" font-weight="normal" font-style="normal" text-anchor="middle" fill="#000">0.2</text>
<line x1="611.5" y1="484.8" x2="611.5" y2="490" stroke="#000" stroke-width="1.6" stroke-linecap="butt"/>
<text x="611.5" y="509.7" font-family="'Liberation Sans', Arial, sans-serif" font-size="20.8" font-weight="normal" font-style="normal" text-anchor="middle" fill="#000">0.4</text>
<line x1="661" y1="484.8" x2="661" y2="490" stroke="#000" stroke-width="1.6" stroke-linecap="butt"/>
<text x="661" y="509.7" font-family="'Liberation Sans', Arial, sans-serif" font-size="20.8" font-weight="normal" font-style="normal" text-anchor="middle" fill="#000">0.6</text>
<text x="594" y="461.5" font-family="'Liberation Sans', Arial, sans-serif" font-size="20.8" font-weight="normal" font-style="normal" text-anchor="middle" fill="#000">drift speed (rad/s)</text>
<text x="504.2" y="481.5" font-family="'Liberation Sans', Arial, sans-serif" font-size="20.8" font-weight="normal" font-style="normal" text-anchor="end" fill="#000">slow</text>
<text x="682" y="481.5" font-family="'Liberation Sans', Arial, sans-serif" font-size="20.8" font-weight="normal" font-style="normal" text-anchor="start" fill="#000">fast</text>
<text x="316.4" y="484.5" font-family="'Liberation Sans', Arial, sans-serif" font-size="42" font-weight="bold" font-style="normal" text-anchor="start" fill="#000">b</text>
<path d="M940.3 543 938.8 624.2 939.1 676.8 940.1 708.3 940.9 723 943.3 750.3 944.9 763.1 948.8 786.7 951.2 797.6 954 807.9 957.1 817.7 960.5 827 964.3 835.7 968.5 844 973.2 851.7 978.2 859 983.6 865.9 989.5 872.3 995.9 878.3 1002.8 883.9 1010.1 889.2 1018 894.1 1026.4 898.6 1035.3 902.8 1044.8 906.7 1054.9 910.3 1065.6 913.7 1088.8 919.6 1101.3 922.2 1128.4 926.9 1142.9 928.9 1174.2 932.6 1226.6 937.3 1307.6 942.6" fill="none" stroke="#c0e5e8" stroke-width="3.8"/>
<path d="M940.3 543 1021.2 548.4 1073.7 553.1 1104.9 556.8 1119.5 558.8 1146.6 563.5 1159.1 566.1 1182.3 572 1193 575.4 1203 579 1212.5 582.9 1221.5 587.1 1229.9 591.6 1237.7 596.5 1245.1 601.7 1252 607.4 1258.3 613.4 1264.2 619.8 1269.7 626.7 1274.7 634 1279.3 641.7 1283.5 650 1287.3 658.7 1290.8 668 1293.9 677.8 1296.6 688.1 1299.1 699 1303 722.6 1304.6 735.4 1306.9 762.7 1307.8 777.4 1308.8 808.9 1309 861.5 1307.6 942.6" fill="none" stroke="#fbe2c4" stroke-width="3.8"/>
<path d="M957.7 562.1 958.9 597.6 960.4 630.6 963.5 675.6 966.3 702.7 967.9 715.4 971.7 739.3 973.9 750.4 979.1 771.3 982 781.1 985.2 790.4 988.6 799.2 992.4 807.7 996.4 815.7 1000.7 823.4 1005.4 830.6 1010.4 837.5 1015.7 844 1021.4 850.2 1027.5 856.1 1033.9 861.6 1040.7 866.9 1048 871.8 1055.6 876.5 1063.7 881 1072.3 885.1 1081.3 889.1 1090.8 892.8 1111.1 899.7 1122.1 902.8 1145.6 908.7 1158.1 911.4 1184.9 916.4 1229.4 923.3 1262.2 927.5 1297.5 931.7" fill="none" stroke="#a7dadf" stroke-width="3.8"/>
<path d="M957.7 562.1 993.1 566.2 1025.8 570.5 1070.4 577.3 1097.1 582.4 1109.7 585 1133.2 590.9 1144.1 594 1164.5 600.9 1174 604.6 1183 608.6 1191.5 612.8 1199.6 617.2 1207.3 621.9 1214.5 626.8 1221.3 632.1 1227.8 637.6 1233.8 643.5 1239.5 649.7 1244.9 656.2 1249.9 663.1 1254.5 670.4 1258.9 678 1262.9 686 1266.6 694.5 1270.1 703.3 1273.2 712.6 1276.2 722.4 1281.3 743.3 1283.5 754.4 1287.3 778.3 1289 791 1291.8 818.1 1294.8 863.1 1296.3 896.1 1297.5 931.7" fill="none" stroke="#fad6ac" stroke-width="3.8"/>
<path d="M974.4 580.2 977.1 610.3 980 638.3 985 676.8 989 700.3 991.2 711.3 996 732.2 998.7 742.1 1004.6 760.6 1007.8 769.3 1014.9 785.7 1018.7 793.4 1027.2 807.8 1031.8 814.6 1041.9 827.2 1047.3 833.2 1059.1 844.2 1065.4 849.4 1079.1 859 1086.4 863.5 1102.1 872 1110.6 875.9 1128.6 883.3 1138.1 886.8 1158.6 893.4 1169.4 896.5 1192.4 902.4 1230.4 910.7 1258.1 916 1287.8 921.1" fill="none" stroke="#8ed0d6" stroke-width="3.8"/>
<path d="M974.4 580.2 1004.2 585.3 1031.9 590.6 1069.8 598.9 1092.8 604.8 1103.7 607.9 1124.1 614.5 1133.7 618 1151.7 625.4 1160.1 629.3 1175.8 637.8 1183.2 642.3 1196.8 651.9 1203.2 657.1 1214.9 668.2 1220.4 674.1 1230.4 686.7 1235 693.5 1243.5 707.9 1247.4 715.6 1254.4 732 1257.7 740.7 1263.5 759.2 1266.2 769.1 1271 790 1273.2 801 1277.2 824.5 1282.3 863 1285.2 891 1287.8 921.1" fill="none" stroke="#f8ca94" stroke-width="3.8"/>
<path d="M993.9 601.3 997.3 625.7 1001.1 648.7 1007.4 680.5 1014.6 709.5 1020 727.2 1023 735.6 1029.2 751.7 1032.6 759.3 1039.8 773.7 1043.7 780.6 1052 793.6 1056.4 799.7 1065.9 811.3 1071 816.9 1076.3 822.2 1087.6 832.2 1093.5 837 1106.3 846 1113 850.3 1127.4 858.4 1134.9 862.3 1151 869.6 1159.4 873.1 1177.3 879.8 1206.5 889.2 1238.7 898 1274.2 906.3" fill="none" stroke="#74c5cd" stroke-width="3.8"/>
<path d="M993.9 601.3 1029.3 609.7 1061.6 618.4 1090.8 627.8 1108.6 634.5 1117.1 638 1133.1 645.3 1140.7 649.2 1155 657.3 1161.8 661.6 1174.5 670.6 1180.5 675.4 1191.8 685.5 1197.1 690.8 1202.1 696.3 1211.6 708 1216.1 714.1 1224.4 727.1 1228.2 733.9 1235.5 748.4 1238.8 756 1245.1 772 1248 780.4 1253.4 798.2 1260.7 827.1 1267 859 1270.7 881.9 1274.2 906.3" fill="none" stroke="#f7bf7d" stroke-width="3.8"/>
<path d="M1016.4 625.8 1022.2 654.5 1028.7 681 1036 705.3 1044 727.7 1053.1 748.3 1059.8 761 1063.3 767.1 1070.7 778.7 1074.6 784.3 1082.9 794.9 1087.3 800 1091.9 804.9 1101.4 814.4 1106.5 818.9 1117.1 827.5 1122.7 831.7 1134.4 839.6 1153.5 850.6 1174.5 860.8 1197.4 870.3 1222.5 879.2 1240.5 884.8 1259.4 890.3" fill="none" stroke="#5bbbc4" stroke-width="3.8"/>
<path d="M1016.4 625.8 1044.5 634.1 1070.3 642.8 1093.9 652 1115.6 662 1135.3 672.7 1147.4 680.4 1153.2 684.4 1164.1 692.8 1169.4 697.2 1179.3 706.4 1184 711.2 1188.5 716.1 1197.1 726.4 1201.2 731.8 1208.9 743.1 1212.5 749 1219.4 761.4 1228.9 781.3 1237.3 803.1 1244.8 826.8 1251.5 852.5 1255.6 870.9 1259.4 890.3" fill="none" stroke="#f5b365" stroke-width="3.8"/>
<path d="M1040.1 651.6 1048.2 679.9 1054.9 699.5 1062.2 717.8 1070.2 734.9 1078.9 750.9 1088.4 765.8 1098.8 779.7 1110.1 792.6 1122.3 804.6 1135.7 815.8 1150.1 826.3 1165.6 836.1 1182.4 845.3 1200.5 854 1220 862.2 1240.8 870" fill="none" stroke="#42b0bb" stroke-width="3.8"/>
<path d="M1040.1 651.6 1060.9 659.4 1080.4 667.6 1098.4 676.2 1115.2 685.4 1130.8 695.3 1145.2 705.7 1158.5 717 1170.8 729 1182.1 741.9 1192.4 755.8 1201.9 770.7 1210.7 786.7 1218.7 803.8 1226 822.1 1232.7 841.7 1240.8 870" fill="none" stroke="#f4a74d" stroke-width="3.8"/>
<path d="M1072.3 686.7 1077.4 700.3 1083 713.3 1088.9 725.7 1095.3 737.5 1102.1 748.7 1109.3 759.4 1117.1 769.6 1125.3 779.2 1134.1 788.4 1143.3 797.1 1153.2 805.4 1163.6 813.3 1174.6 820.7 1186.3 827.8 1198.6 834.5 1216 843" fill="none" stroke="#24a4b0" stroke-width="3.8"/>
<path d="M1072.3 686.7 1085.4 692.9 1097.9 699.6 1109.8 706.5 1121 713.8 1131.6 721.5 1141.7 729.7 1151.2 738.2 1160.1 747.3 1168.5 756.8 1176.4 766.7 1183.8 777.3 1190.8 788.3 1197.3 799.9 1203.3 812.1 1209 824.9 1216 843" fill="none" stroke="#f29931" stroke-width="3.8"/>
<path d="M1122 740.7 1126.8 748.5 1131.8 755.7 1137 762.5 1142.5 768.9 1148.3 774.9 1154.6 780.7 1161.3 786.3 1169.8 792.7" fill="none" stroke="#0396a4" stroke-width="3.8"/>
<path d="M1122 740.7 1129.3 746.2 1136.1 751.7 1142.4 757.5 1148.3 763.5 1153.9 769.8 1159.1 776.5 1164.1 783.7 1169.8 792.7" fill="none" stroke="#f08a12" stroke-width="3.8"/>
<line x1="932.5" y1="534.6" x2="1320.8" y2="957.0" stroke="#000" stroke-width="3.2" stroke-linecap="round" stroke-dasharray="11.8,16.1" stroke-dashoffset="-1.5"/>
<path d="M923 523.2 1321.8 523.2 1321.8 957.3 923 957.3Z" fill="none" stroke="#000" stroke-width="1.9"/>
<line x1="914" y1="523.2" x2="923" y2="523.2" stroke="#000" stroke-width="2" stroke-linecap="butt"/>
<line x1="914" y1="739.6" x2="923" y2="739.6" stroke="#000" stroke-width="2" stroke-linecap="butt"/>
<line x1="914" y1="957.3" x2="923" y2="957.3" stroke="#000" stroke-width="2" stroke-linecap="butt"/>
<line x1="923" y1="957.3" x2="923" y2="966.3" stroke="#000" stroke-width="2" stroke-linecap="butt"/>
<line x1="1122" y1="957.3" x2="1122" y2="966.3" stroke="#000" stroke-width="2" stroke-linecap="butt"/>
<line x1="1321.8" y1="957.3" x2="1321.8" y2="966.3" stroke="#000" stroke-width="2" stroke-linecap="butt"/>
<line x1="923" y1="608" x2="976.5" y2="608" stroke="#000" stroke-width="3.8" stroke-linecap="butt"/>
<path d="M929.7 618.3 940 608 929.7 597.7" fill="none" stroke="#000" stroke-width="3.3" stroke-linecap="round" stroke-linejoin="round"/>
<path d="M947.7 618.3 958 608 947.7 597.7" fill="none" stroke="#000" stroke-width="3.3" stroke-linecap="round" stroke-linejoin="round"/>
<path d="M966.2 618.3 976.5 608 966.2 597.7" fill="none" stroke="#000" stroke-width="3.3" stroke-linecap="round" stroke-linejoin="round"/>
<line x1="1321.8" y1="608" x2="1101.5" y2="608" stroke="#000" stroke-width="3.8" stroke-linecap="butt"/>
<path d="M1111.8 597.7 1101.5 608 1111.8 618.3" fill="none" stroke="#000" stroke-width="3.3" stroke-linecap="round" stroke-linejoin="round"/>
<path d="M1186.9 597.7 1176.6 608 1186.9 618.3" fill="none" stroke="#000" stroke-width="3.3" stroke-linecap="round" stroke-linejoin="round"/>
<path d="M1258.7 597.7 1248.4 608 1258.7 618.3" fill="none" stroke="#000" stroke-width="3.3" stroke-linecap="round" stroke-linejoin="round"/>
<line x1="923" y1="739.6" x2="998.7" y2="739.6" stroke="#000" stroke-width="3.8" stroke-linecap="butt"/>
<path d="M929.7 749.9 940 739.6 929.7 729.3" fill="none" stroke="#000" stroke-width="3.3" stroke-linecap="round" stroke-linejoin="round"/>
<path d="M957.4 749.9 967.7 739.6 957.4 729.3" fill="none" stroke="#000" stroke-width="3.3" stroke-linecap="round" stroke-linejoin="round"/>
<path d="M988.4 749.9 998.7 739.6 988.4 729.3" fill="none" stroke="#000" stroke-width="3.3" stroke-linecap="round" stroke-linejoin="round"/>
<line x1="1321.8" y1="739.6" x2="1246.7" y2="739.6" stroke="#000" stroke-width="3.8" stroke-linecap="butt"/>
<path d="M1257 729.3 1246.7 739.6 1257 749.9" fill="none" stroke="#000" stroke-width="3.3" stroke-linecap="round" stroke-linejoin="round"/>
<path d="M1283.2 729.3 1272.9 739.6 1283.2 749.9" fill="none" stroke="#000" stroke-width="3.3" stroke-linecap="round" stroke-linejoin="round"/>
<path d="M1309.3 729.3 1299 739.6 1309.3 749.9" fill="none" stroke="#000" stroke-width="3.3" stroke-linecap="round" stroke-linejoin="round"/>
<line x1="923" y1="872.4" x2="1083.6" y2="872.4" stroke="#000" stroke-width="3.8" stroke-linecap="butt"/>
<path d="M967.2 882.7 977.5 872.4 967.2 862.1" fill="none" stroke="#000" stroke-width="3.3" stroke-linecap="round" stroke-linejoin="round"/>
<path d="M1020.7 882.7 1031 872.4 1020.7 862.1" fill="none" stroke="#000" stroke-width="3.3" stroke-linecap="round" stroke-linejoin="round"/>
<path d="M1073.3 882.7 1083.6 872.4 1073.3 862.1" fill="none" stroke="#000" stroke-width="3.3" stroke-linecap="round" stroke-linejoin="round"/>
<line x1="1321.8" y1="872.4" x2="1281" y2="872.4" stroke="#000" stroke-width="3.8" stroke-linecap="butt"/>
<path d="M1291.3 862.1 1281 872.4 1291.3 882.7" fill="none" stroke="#000" stroke-width="3.3" stroke-linecap="round" stroke-linejoin="round"/>
<path d="M1304.3 862.1 1294 872.4 1304.3 882.7" fill="none" stroke="#000" stroke-width="3.3" stroke-linecap="round" stroke-linejoin="round"/>
<path d="M1317.3 862.1 1307 872.4 1317.3 882.7" fill="none" stroke="#000" stroke-width="3.3" stroke-linecap="round" stroke-linejoin="round"/>
<text x="1064" y="613" font-family="'Liberation Serif', 'Times New Roman', serif" font-size="28"><tspan font-style="italic">v</tspan><tspan font-size="20.2" dy="3">in</tspan></text>
<text x="1096.6" y="879" font-family="'Liberation Serif', 'Times New Roman', serif" font-size="28"><tspan font-style="italic">v</tspan><tspan font-size="20.2" dy="3">in</tspan></text>
<text x="869.7" y="484.6" font-family="'Liberation Sans', Arial, sans-serif" font-size="42" font-weight="bold" font-style="normal" text-anchor="start" fill="#000">d</text>
<line x1="954.6" y1="482.4" x2="987.3" y2="482.4" stroke="#0396a4" stroke-width="4" stroke-linecap="round"/>
<text x="996.4" y="490" font-family="'Liberation Sans', Arial, sans-serif" font-size="20.8" font-weight="normal" font-style="normal" text-anchor="start" fill="#000">stable FPs</text>
<line x1="1126" y1="482.4" x2="1158.6" y2="482.4" stroke="#f08a12" stroke-width="4" stroke-linecap="round"/>
<text x="1168.4" y="490" font-family="'Liberation Sans', Arial, sans-serif" font-size="20.8" font-weight="normal" font-style="normal" text-anchor="start" fill="#000">unstable FPs</text>
<text x="916" y="990" font-family="'Liberation Sans', Arial, sans-serif" font-size="20.8" font-weight="normal" font-style="normal" text-anchor="start" fill="#000">0</text>
<text x="1122" y="994.6" font-family="'Liberation Sans', Arial, sans-serif" font-size="20.8" font-weight="normal" font-style="normal" text-anchor="middle" fill="#000">orientation</text>
<text x="1276" y="994.5" font-family="'Liberation Serif', 'Times New Roman', serif" font-size="28" text-anchor="start"><tspan dy="0">Δ</tspan><tspan dy="0" font-style="italic">θ</tspan><tspan dy="0">/2</tspan></text>
<g clip-path="url(#cfT)" fill="none" stroke-width="3.3">
<circle cx="2152.8" cy="365" r="717.6" stroke="#def1f3"/>
<circle cx="2152.8" cy="365" r="703" stroke="#d1ecee"/>
<circle cx="2152.8" cy="365" r="686.9" stroke="#c6e7ea"/>
<circle cx="2152.8" cy="365" r="671.7" stroke="#bbe3e7"/>
<circle cx="2152.8" cy="365" r="657.1" stroke="#b1dee3"/>
<circle cx="2152.8" cy="365" r="642.2" stroke="#a7dadf"/>
<circle cx="2152.8" cy="365" r="627.2" stroke="#9dd6dc"/>
<circle cx="2152.8" cy="365" r="611" stroke="#93d2d8"/>
<circle cx="2152.8" cy="365" r="596.3" stroke="#89ced5"/>
<circle cx="2152.8" cy="365" r="582.5" stroke="#80cad1"/>
<circle cx="2152.8" cy="365" r="567.7" stroke="#77c6ce"/>
<circle cx="2152.8" cy="365" r="552.1" stroke="#6dc2ca"/>
<circle cx="2152.8" cy="365" r="537.4" stroke="#64bec7"/>
<circle cx="2152.8" cy="365" r="522" stroke="#5bbbc4"/>
<circle cx="2152.8" cy="365" r="506.7" stroke="#52b7c1"/>
<circle cx="2152.8" cy="365" r="492" stroke="#49b3bd"/>
<circle cx="2152.8" cy="365" r="477.5" stroke="#40afba"/>
<circle cx="2152.8" cy="365" r="462.9" stroke="#37acb7"/>
<circle cx="2152.8" cy="365" r="447.8" stroke="#2ea8b4"/>
<circle cx="2152.8" cy="365" r="432.9" stroke="#26a4b1"/>
<circle cx="2152.8" cy="365" r="418.5" stroke="#1da1ad"/>
<circle cx="2152.8" cy="365" r="403.6" stroke="#149daa"/>
<circle cx="2152.8" cy="365" r="388.9" stroke="#0c9aa7"/>
<circle cx="2152.8" cy="365" r="374.8" stroke="#0396a4"/>
</g>
<g clip-path="url(#cfO)" fill="none" stroke-width="3.3">
<path d="M1435 819.9 1445.1 823.1 1455.2 826.8 1465.3 831.1 1478.8 837.8 1488.9 843.5 1502.4 852.1 1512.5 859.2 1522.7 866.9 1532.8 875.2 1542.9 884.1 1556.4 896.8 1566.5 907.1 1576.6 918 1590.1 933.4 1600.2 945.7 1610.3 958.5" fill="none" stroke="#f08a12" stroke-width="3.3"/>
<path d="M1435 810.2 1445.1 813.3 1458.6 818.3 1472.1 824.3 1482.2 829.5 1492.3 835.3 1505.8 843.9 1515.9 851 1526 858.7 1539.5 869.9 1549.6 879 1563.1 891.9 1573.2 902.4 1586.7 917.2 1596.8 928.9 1606.9 941.3 1620.4 958.7" fill="none" stroke="#f19121" stroke-width="3.3"/>
<path d="M1435 800.7 1448.5 804.8 1462 809.9 1472.1 814.4 1485.6 821.2 1495.7 827.1 1509.2 835.7 1519.3 842.9 1532.8 853.3 1546.3 864.7 1556.4 873.9 1569.9 887.1 1580 897.6 1590.1 908.7 1603.6 924.4 1617.1 941.1 1630.5 958.8" fill="none" stroke="#f2972d" stroke-width="3.3"/>
<path d="M1435 791 1448.5 795 1458.6 798.6 1472.1 804.3 1485.6 811 1499.1 818.7 1512.5 827.4 1522.7 834.5 1536.1 844.9 1546.3 853.4 1559.7 865.5 1573.2 878.6 1586.7 892.6 1600.2 907.7 1613.7 923.7 1627.2 940.8 1640.7 958.8" fill="none" stroke="#f29d38" stroke-width="3.3"/>
<path d="M1435 781.4 1448.5 785.3 1462 790.1 1475.5 796 1488.9 802.7 1502.4 810.5 1515.9 819.1 1529.4 828.8 1542.9 839.4 1556.4 850.9 1569.9 863.5 1583.3 876.9 1596.8 891.4 1610.3 906.7 1623.8 923.1 1637.3 940.4 1650.8 958.6" fill="none" stroke="#f3a242" stroke-width="3.3"/>
<path d="M1435 771.7 1448.5 775.5 1462 780.2 1475.5 785.9 1488.9 792.5 1502.4 800 1515.9 808.5 1532.8 820.3 1546.3 830.9 1559.7 842.4 1576.6 858 1590.1 871.6 1603.6 886.1 1620.4 905.6 1633.9 922.2 1647.4 939.7 1660.9 958.2" fill="none" stroke="#f4a74c" stroke-width="3.3"/>
<path d="M1435 761.7 1448.5 765.4 1462 770 1475.5 775.5 1482.2 778.6 1492.3 783.7 1509.2 793.2 1522.7 801.9 1539.5 814 1553 824.8 1569.9 839.4 1583.3 852.2 1596.8 865.9 1610.3 880.4 1623.8 895.9 1640.7 916.5 1657.5 938.6 1671 957.2" fill="none" stroke="#f4ac56" stroke-width="3.3"/>
<path d="M1435 751.5 1441.7 753.2 1451.9 756.1 1465.3 760.8 1475.5 764.9 1482.2 767.9 1499.1 776.4 1512.5 784.2 1529.4 795.2 1546.3 807.5 1559.7 818.4 1573.2 830.1 1590.1 846 1603.6 859.7 1620.4 878.1 1637.3 897.9 1650.8 914.7 1667.6 937 1681.1 955.8" fill="none" stroke="#f5b060" stroke-width="3.3"/>
<path d="M1435 741.3 1441.7 743 1451.9 745.8 1462 749.2 1468.7 751.7 1482.2 757.3 1499.1 765.5 1515.9 775.1 1532.8 786 1549.6 798.3 1566.5 811.9 1583.3 826.8 1600.2 843 1613.7 857 1630.5 875.7 1644 891.6 1660.9 912.7 1677.7 935.1 1694.6 958.8" fill="none" stroke="#f6b569" stroke-width="3.3"/>
<path d="M1435 729.9 1441.7 731.4 1451.9 734.2 1468.7 739.9 1485.6 746.8 1502.4 755.1 1512.5 760.7 1522.7 766.7 1539.5 777.8 1556.4 790.2 1573.2 803.9 1590.1 818.9 1606.9 835.2 1623.8 852.8 1640.7 871.7 1657.5 891.9 1674.4 913.4 1691.2 936.2 1708.1 960.3" fill="none" stroke="#f6b972" stroke-width="3.3"/>
<path d="M1435 718.5 1451.9 722.7 1468.7 728.2 1478.8 732.1 1488.9 736.4 1505.8 744.7 1515.9 750.2 1526 756.2 1542.9 767.3 1559.7 779.5 1576.6 793.1 1593.5 807.9 1603.6 817.4 1613.7 827.3 1630.5 844.9 1647.4 863.7 1664.3 883.8 1684.5 909.5 1701.3 932.4 1718.2 956.5" fill="none" stroke="#f7be7b" stroke-width="3.3"/>
<path d="M1435 706.3 1451.9 710.4 1462 713.4 1472.1 716.9 1482.2 720.8 1492.3 725.2 1509.2 733.4 1526 742.9 1536.1 749.1 1546.3 755.8 1556.4 763 1566.5 770.5 1583.3 784.1 1593.5 792.9 1603.6 802.1 1620.4 818.3 1637.3 835.9 1657.5 858.5 1674.4 878.6 1694.6 904.5 1711.5 927.3 1731.7 956.4" fill="none" stroke="#f7c284" stroke-width="3.3"/>
<path d="M1435 694.1 1445.1 696.3 1455.2 699 1472.1 704.4 1482.2 708.2 1492.3 712.4 1502.4 717 1512.5 722.1 1529.4 731.5 1539.5 737.7 1549.6 744.3 1559.7 751.3 1569.9 758.8 1580 766.7 1590.1 775 1600.2 783.8 1610.3 792.9 1620.4 802.5 1630.5 812.5 1647.4 830.2 1667.6 852.9 1684.5 873.1 1704.7 899 1724.9 926.5 1745.2 955.8" fill="none" stroke="#f8c78d" stroke-width="3.3"/>
<path d="M1435 682 1445.1 684.2 1455.2 686.7 1465.3 689.7 1475.5 693.1 1485.6 696.9 1495.7 701.1 1505.8 705.7 1515.9 710.8 1526 716.2 1536.1 722.1 1546.3 728.3 1556.4 735 1566.5 742.1 1576.6 749.6 1590.1 760.2 1600.2 768.7 1610.3 777.5 1620.4 786.8 1640.7 806.6 1660.9 828 1681.1 851.1 1701.3 875.8 1721.6 902.1 1741.8 930.1 1762 959.7" fill="none" stroke="#f8cb95" stroke-width="3.3"/>
<path d="M1435 669.1 1445.1 671.2 1455.2 673.7 1465.3 676.6 1475.5 679.8 1485.6 683.5 1495.7 687.6 1505.8 692 1519.3 698.6 1529.4 704 1539.5 709.8 1549.6 715.9 1563.1 724.8 1573.2 731.9 1583.3 739.4 1596.8 750 1606.9 758.4 1627.2 776.5 1647.4 796.1 1667.6 817.3 1677.7 828.5 1691.2 844 1711.5 868.7 1731.7 894.9 1745.2 913.2 1755.3 927.5 1775.5 957.1" fill="none" stroke="#f9cf9e" stroke-width="3.3"/>
<path d="M1435 656.9 1445.1 658.9 1455.2 661.3 1468.7 665.1 1478.8 668.4 1492.3 673.4 1502.4 677.5 1512.5 682.1 1526 688.8 1539.5 696.1 1549.6 702.1 1559.7 708.4 1569.9 715.1 1580 722.2 1593.5 732.3 1613.7 748.7 1627.2 760.4 1637.3 769.7 1657.5 789.4 1677.7 810.6 1691.2 825.6 1701.3 837.2 1721.6 861.7 1735.1 878.9 1745.2 892.3 1768.8 924.9 1792.4 959.6" fill="none" stroke="#f9d3a6" stroke-width="3.3"/>
<path d="M1435 644.1 1445.1 646.1 1458.6 649.2 1472.1 653 1482.2 656.3 1492.3 660 1505.8 665.4 1515.9 669.9 1529.4 676.5 1539.5 681.9 1553 689.6 1563.1 695.8 1576.6 704.7 1586.7 711.8 1600.2 721.8 1620.4 738 1633.9 749.7 1644 758.8 1657.5 771.6 1667.6 781.7 1677.7 792.1 1691.2 806.5 1704.7 821.6 1714.8 833.3 1735.1 857.9 1758.7 888.4 1782.3 920.9 1805.9 955.5" fill="none" stroke="#fad7af" stroke-width="3.3"/>
<path d="M1435 630.6 1448.5 633.1 1458.6 635.5 1472.1 639.1 1482.2 642.3 1495.7 647 1505.8 651 1519.3 656.9 1532.8 663.3 1542.9 668.6 1556.4 676.2 1566.5 682.3 1580 691 1590.1 697.9 1603.6 707.7 1617.1 718.1 1630.5 729.2 1640.7 737.8 1654.1 750 1664.3 759.5 1677.7 772.7 1691.2 786.6 1704.7 801.1 1718.2 816.2 1728.3 828 1741.8 844.2 1755.3 861 1778.9 892 1802.5 925 1826.1 959.8" fill="none" stroke="#fadbb7" stroke-width="3.3"/>
<path d="M1435 617 1448.5 619.4 1458.6 621.7 1472.1 625.2 1485.6 629.3 1499.1 634 1509.2 637.9 1522.7 643.7 1536.1 650.1 1549.6 657.1 1563.1 664.6 1573.2 670.7 1586.7 679.4 1600.2 688.6 1613.7 698.4 1627.2 708.9 1637.3 717.1 1650.8 728.6 1660.9 737.6 1674.4 750.2 1687.9 763.3 1701.3 777.1 1714.8 791.5 1728.3 806.4 1738.4 818.1 1762 846.5 1775.5 863.6 1789 881.2 1812.6 913.6 1836.2 947.9" fill="none" stroke="#fbdfbf" stroke-width="3.3"/>
<path d="M1435 603.4 1448.5 605.7 1462 608.7 1475.5 612.2 1485.6 615.2 1499.1 619.7 1512.5 624.8 1526 630.5 1536.1 635.1 1546.3 640.1 1559.7 647.2 1569.9 652.9 1583.3 661 1596.8 669.7 1610.3 679 1623.8 688.9 1633.9 696.7 1647.4 707.5 1660.9 719 1671 727.9 1684.5 740.4 1698 753.4 1708.1 763.6 1721.6 777.7 1735.1 792.3 1758.7 819.3 1772.1 835.5 1785.6 852.3 1799.1 869.6 1812.6 887.6 1836.2 920.4" fill="none" stroke="#fbe4c7" stroke-width="3.3"/>
<path d="M1435 586.9 1445.1 588.5 1458.6 591.2 1472.1 594.4 1485.6 598.2 1499.1 602.5 1509.2 606.1 1522.7 611.4 1536.1 617.2 1549.6 623.6 1563.1 630.6 1573.2 636.1 1586.7 644.1 1600.2 652.5 1613.7 661.5 1627.2 671.1 1637.3 678.6 1647.4 686.5 1660.9 697.4 1674.4 708.9 1684.5 717.9 1694.6 727.2 1708.1 740.1 1721.6 753.5 1735.1 767.5 1748.5 782.1 1762 797.1 1785.6 824.9 1809.2 854.3 1822.7 871.9 1836.2 890" fill="none" stroke="#fce8cf" stroke-width="3.3"/>
<path d="M1435 571.2 1448.5 573.4 1458.6 575.3 1472.1 578.4 1485.6 582 1499.1 586.1 1512.5 590.8 1522.7 594.6 1536.1 600.2 1546.3 604.7 1559.7 611.2 1573.2 618.2 1586.7 625.7 1600.2 633.8 1613.7 642.4 1627.2 651.6 1637.3 658.7 1647.4 666.2 1660.9 676.7 1671 684.9 1684.5 696.2 1698 708.1 1711.5 720.5 1735.1 743.5 1758.7 768.2 1772.1 783 1785.6 798.3 1809.2 826.4 1822.7 843.1 1836.2 860.4" fill="none" stroke="#fcebd7" stroke-width="3.3"/>
<path d="M1435 555.5 1445.1 557 1458.6 559.4 1472.1 562.4 1485.6 565.8 1499.1 569.7 1509.2 573 1522.7 577.8 1536.1 583.1 1546.3 587.4 1559.7 593.6 1569.9 598.5 1583.3 605.6 1593.5 611.2 1606.9 619.2 1620.4 627.6 1633.9 636.5 1644 643.6 1657.5 653.4 1671 663.7 1684.5 674.5 1698 685.9 1711.5 697.7 1735.1 719.6 1748.5 732.8 1762 746.5 1785.6 771.7 1799.1 786.8 1812.6 802.4 1836.2 830.8" fill="none" stroke="#fdefdf" stroke-width="3.3"/>
<path d="M1435 539.7 1445.1 541.2 1458.6 543.5 1472.1 546.2 1485.6 549.5 1499.1 553.2 1512.5 557.4 1522.7 560.9 1536.1 565.9 1549.6 571.4 1563.1 577.4 1576.6 583.9 1586.7 589 1600.2 596.3 1610.3 602.1 1620.4 608.2 1633.9 616.7 1657.5 632.7 1671 642.5 1684.5 652.7 1708.1 671.9 1721.6 683.5 1735.1 695.5 1748.5 708.1 1762 721.1 1785.6 745 1809.2 770.4 1822.7 785.5 1836.2 801.2" fill="none" stroke="#fef3e7" stroke-width="3.3"/>
</g>
<line x1="1445.7" y1="534.6" x2="1833.4" y2="955.7" stroke="#000" stroke-width="3.2" stroke-linecap="round" stroke-dasharray="11.8,16.1" stroke-dashoffset="-1.5"/>
<path d="M1437 523.5 1836.2 523.5 1836.2 957.5 1437 957.5Z" fill="none" stroke="#000" stroke-width="1.9"/>
<line x1="1428" y1="523.5" x2="1437" y2="523.5" stroke="#000" stroke-width="2" stroke-linecap="butt"/>
<line x1="1428" y1="739.6" x2="1437" y2="739.6" stroke="#000" stroke-width="2" stroke-linecap="butt"/>
<line x1="1428" y1="957.5" x2="1437" y2="957.5" stroke="#000" stroke-width="2" stroke-linecap="butt"/>
<line x1="1437" y1="957.5" x2="1437" y2="966.5" stroke="#000" stroke-width="2" stroke-linecap="butt"/>
<line x1="1637" y1="957.5" x2="1637" y2="966.5" stroke="#000" stroke-width="2" stroke-linecap="butt"/>
<line x1="1836.2" y1="957.5" x2="1836.2" y2="966.5" stroke="#000" stroke-width="2" stroke-linecap="butt"/>
<line x1="1437" y1="603.9" x2="1562.7" y2="603.9" stroke="#000" stroke-width="3.8" stroke-linecap="butt"/>
<path d="M1455.8 593.6 1445.5 603.9 1455.8 614.2" fill="none" stroke="#000" stroke-width="3.3" stroke-linecap="round" stroke-linejoin="round"/>
<path d="M1503.4 614.2 1513.7 603.9 1503.4 593.6" fill="none" stroke="#000" stroke-width="3.3" stroke-linecap="round" stroke-linejoin="round"/>
<path d="M1521.5 614.2 1531.8 603.9 1521.5 593.6" fill="none" stroke="#000" stroke-width="3.3" stroke-linecap="round" stroke-linejoin="round"/>
<path d="M1536.7 614.2 1547 603.9 1536.7 593.6" fill="none" stroke="#000" stroke-width="3.3" stroke-linecap="round" stroke-linejoin="round"/>
<path d="M1552.4 614.2 1562.7 603.9 1552.4 593.6" fill="none" stroke="#000" stroke-width="3.3" stroke-linecap="round" stroke-linejoin="round"/>
<line x1="1561.4" y1="739.4" x2="1710.8" y2="739.4" stroke="#000" stroke-width="3.8" stroke-linecap="butt"/>
<path d="M1571.7 729.1 1561.4 739.4 1571.7 749.7" fill="none" stroke="#000" stroke-width="3.3" stroke-linecap="round" stroke-linejoin="round"/>
<path d="M1596.1 729.1 1585.8 739.4 1596.1 749.7" fill="none" stroke="#000" stroke-width="3.3" stroke-linecap="round" stroke-linejoin="round"/>
<path d="M1620.6 729.1 1610.3 739.4 1620.6 749.7" fill="none" stroke="#000" stroke-width="3.3" stroke-linecap="round" stroke-linejoin="round"/>
<path d="M1646.4 749.7 1656.7 739.4 1646.4 729.1" fill="none" stroke="#000" stroke-width="3.3" stroke-linecap="round" stroke-linejoin="round"/>
<path d="M1670.7 749.7 1681 739.4 1670.7 729.1" fill="none" stroke="#000" stroke-width="3.3" stroke-linecap="round" stroke-linejoin="round"/>
<path d="M1700.5 749.7 1710.8 739.4 1700.5 729.1" fill="none" stroke="#000" stroke-width="3.3" stroke-linecap="round" stroke-linejoin="round"/>
<line x1="1719.8" y1="871.8" x2="1836.2" y2="871.8" stroke="#000" stroke-width="3.8" stroke-linecap="butt"/>
<path d="M1730.1 861.5 1719.8 871.8 1730.1 882.1" fill="none" stroke="#000" stroke-width="3.3" stroke-linecap="round" stroke-linejoin="round"/>
<path d="M1740.3 861.5 1730 871.8 1740.3 882.1" fill="none" stroke="#000" stroke-width="3.3" stroke-linecap="round" stroke-linejoin="round"/>
<path d="M1753.3 861.5 1743 871.8 1753.3 882.1" fill="none" stroke="#000" stroke-width="3.3" stroke-linecap="round" stroke-linejoin="round"/>
<path d="M1762.3 861.5 1752 871.8 1762.3 882.1" fill="none" stroke="#000" stroke-width="3.3" stroke-linecap="round" stroke-linejoin="round"/>
<path d="M1800.7 882.1 1811 871.8 1800.7 861.5" fill="none" stroke="#000" stroke-width="3.3" stroke-linecap="round" stroke-linejoin="round"/>
<text x="1579.4" y="613" font-family="'Liberation Serif', 'Times New Roman', serif" font-size="28"><tspan font-style="italic">v</tspan><tspan font-size="20.2" dy="3">in</tspan></text>
<text x="1677" y="877" font-family="'Liberation Serif', 'Times New Roman', serif" font-size="28"><tspan font-style="italic">v</tspan><tspan font-size="20.2" dy="3">in</tspan></text>
<text x="1398.4" y="483.5" font-family="'Liberation Sans', Arial, sans-serif" font-size="42" font-weight="bold" font-style="normal" text-anchor="start" fill="#000">f</text>
<line x1="1471.5" y1="469.6" x2="1506.5" y2="469.6" stroke="#0396a4" stroke-width="4" stroke-linecap="butt"/>
<text x="1517.5" y="476" font-family="'Liberation Sans', Arial, sans-serif" font-size="20.8" font-weight="normal" font-style="normal" text-anchor="start" fill="#000">stable FPs</text>
<line x1="1632.5" y1="469.6" x2="1667.5" y2="469.6" stroke="#f08a12" stroke-width="4" stroke-linecap="butt"/>
<text x="1675" y="476" font-family="'Liberation Sans', Arial, sans-serif" font-size="20.8" font-weight="normal" font-style="normal" text-anchor="start" fill="#000">unstable FPs</text>
<text x="1431" y="990" font-family="'Liberation Sans', Arial, sans-serif" font-size="20.8" font-weight="normal" font-style="normal" text-anchor="start" fill="#000">0</text>
<text x="1637" y="994.6" font-family="'Liberation Sans', Arial, sans-serif" font-size="20.8" font-weight="normal" font-style="normal" text-anchor="middle" fill="#000">orientation</text>
<text x="1793" y="994.5" font-family="'Liberation Serif', 'Times New Roman', serif" font-size="28" text-anchor="start"><tspan dy="0">Δ</tspan><tspan dy="0" font-style="italic">θ</tspan><tspan dy="0">/2</tspan></text>
<rect x="56.2" y="1144.3" width="357" height="268.7" fill="#f8f8f8" stroke="none" stroke-width="0"/>
<rect x="113.4" y="1144.3" width="4.6" height="268.7" fill="#888888" stroke="none" stroke-width="0"/>
<rect x="232.4" y="1144.3" width="4.6" height="268.7" fill="#888888" stroke="none" stroke-width="0"/>
<rect x="351.4" y="1144.3" width="4.6" height="268.7" fill="#888888" stroke="none" stroke-width="0"/>
<g clip-path="url(#cg0t)">
<path d="M56.2 1144.3 56.2 1413" fill="none" stroke="#0396a4" stroke-width="4.0" stroke-linejoin="round"/>
<path d="M68.1 1144.3 64.7 1270.6 62 1413" fill="none" stroke="#0396a4" stroke-width="4.0" stroke-linejoin="round"/>
<path d="M80 1144.3 76.4 1206.1 73.2 1270.6 70.3 1339.6 67.8 1413" fill="none" stroke="#0396a4" stroke-width="4.0" stroke-linejoin="round"/>
<path d="M91.9 1144.3 86.5 1206.1 81.7 1270.6 77.4 1339.6 73.6 1413" fill="none" stroke="#0396a4" stroke-width="4.0" stroke-linejoin="round"/>
<path d="M103.8 1144.3 96.5 1206.1 90.1 1270.6 84.4 1339.6 79.4 1413" fill="none" stroke="#0396a4" stroke-width="4.0" stroke-linejoin="round"/>
<path d="M115.7 1144.3 115.7 1413" fill="none" stroke="#f08a12" stroke-width="4.0" stroke-linejoin="round"/>
<path d="M127.6 1144.3 134.9 1206.1 141.3 1270.6 147 1339.6 152 1413" fill="none" stroke="#0396a4" stroke-width="4.0" stroke-linejoin="round"/>
<path d="M139.5 1144.3 144.9 1206.1 149.7 1270.6 154 1339.6 157.8 1413" fill="none" stroke="#0396a4" stroke-width="4.0" stroke-linejoin="round"/>
<path d="M151.4 1144.3 155 1206.1 158.2 1270.6 161.1 1339.6 163.6 1413" fill="none" stroke="#0396a4" stroke-width="4.0" stroke-linejoin="round"/>
<path d="M163.3 1144.3 166.7 1270.6 169.4 1413" fill="none" stroke="#0396a4" stroke-width="4.0" stroke-linejoin="round"/>
<path d="M175.2 1144.3 175.2 1413" fill="none" stroke="#0396a4" stroke-width="4.0" stroke-linejoin="round"/>
<path d="M187.1 1144.3 183.7 1270.6 181 1413" fill="none" stroke="#0396a4" stroke-width="4.0" stroke-linejoin="round"/>
<path d="M199 1144.3 195.4 1206.1 192.2 1270.6 189.3 1339.6 186.8 1413" fill="none" stroke="#0396a4" stroke-width="4.0" stroke-linejoin="round"/>
<path d="M210.9 1144.3 205.5 1206.1 200.7 1270.6 196.4 1339.6 192.6 1413" fill="none" stroke="#0396a4" stroke-width="4.0" stroke-linejoin="round"/>
<path d="M222.8 1144.3 215.5 1206.1 209.1 1270.6 203.4 1339.6 198.4 1413" fill="none" stroke="#0396a4" stroke-width="4.0" stroke-linejoin="round"/>
<path d="M234.7 1144.3 234.7 1413" fill="none" stroke="#f08a12" stroke-width="4.0" stroke-linejoin="round"/>
<path d="M246.6 1144.3 253.9 1206.1 260.3 1270.6 266 1339.6 271 1413" fill="none" stroke="#0396a4" stroke-width="4.0" stroke-linejoin="round"/>
<path d="M258.5 1144.3 263.9 1206.1 268.7 1270.6 273 1339.6 276.8 1413" fill="none" stroke="#0396a4" stroke-width="4.0" stroke-linejoin="round"/>
<path d="M270.4 1144.3 274 1206.1 277.2 1270.6 280.1 1339.6 282.6 1413" fill="none" stroke="#0396a4" stroke-width="4.0" stroke-linejoin="round"/>
<path d="M282.3 1144.3 285.7 1270.6 288.4 1413" fill="none" stroke="#0396a4" stroke-width="4.0" stroke-linejoin="round"/>
<path d="M294.2 1144.3 294.2 1413" fill="none" stroke="#0396a4" stroke-width="4.0" stroke-linejoin="round"/>
<path d="M306.1 1144.3 302.7 1270.6 300 1413" fill="none" stroke="#0396a4" stroke-width="4.0" stroke-linejoin="round"/>
<path d="M318 1144.3 314.4 1206.1 311.2 1270.6 308.3 1339.6 305.8 1413" fill="none" stroke="#0396a4" stroke-width="4.0" stroke-linejoin="round"/>
<path d="M329.9 1144.3 324.5 1206.1 319.7 1270.6 315.4 1339.6 311.6 1413" fill="none" stroke="#0396a4" stroke-width="4.0" stroke-linejoin="round"/>
<path d="M341.8 1144.3 334.5 1206.1 328.1 1270.6 322.4 1339.6 317.4 1413" fill="none" stroke="#0396a4" stroke-width="4.0" stroke-linejoin="round"/>
<path d="M353.7 1144.3 353.7 1413" fill="none" stroke="#f08a12" stroke-width="4.0" stroke-linejoin="round"/>
<path d="M365.6 1144.3 372.9 1206.1 379.3 1270.6 385 1339.6 390 1413" fill="none" stroke="#0396a4" stroke-width="4.0" stroke-linejoin="round"/>
<path d="M377.5 1144.3 382.9 1206.1 387.7 1270.6 392 1339.6 395.8 1413" fill="none" stroke="#0396a4" stroke-width="4.0" stroke-linejoin="round"/>
<path d="M389.4 1144.3 393 1206.1 396.2 1270.6 399.1 1339.6 401.6 1413" fill="none" stroke="#0396a4" stroke-width="4.0" stroke-linejoin="round"/>
<path d="M401.3 1144.3 404.7 1270.6 407.4 1413" fill="none" stroke="#0396a4" stroke-width="4.0" stroke-linejoin="round"/>
<path d="M413.2 1144.3 413.2 1413" fill="none" stroke="#0396a4" stroke-width="4.0" stroke-linejoin="round"/>
</g>
<path d="M56.2 1144.3 413.2 1144.3 413.2 1413 56.2 1413Z" fill="none" stroke="#000" stroke-width="1.9"/>
<line x1="48.2" y1="1144.3" x2="56.2" y2="1144.3" stroke="#000" stroke-width="2" stroke-linecap="butt"/>
<line x1="48.2" y1="1233.9" x2="56.2" y2="1233.9" stroke="#000" stroke-width="2" stroke-linecap="butt"/>
<line x1="48.2" y1="1323.4" x2="56.2" y2="1323.4" stroke="#000" stroke-width="2" stroke-linecap="butt"/>
<line x1="48.2" y1="1413" x2="56.2" y2="1413" stroke="#000" stroke-width="2" stroke-linecap="butt"/>
<line x1="56.2" y1="1413" x2="56.2" y2="1422" stroke="#000" stroke-width="2" stroke-linecap="butt"/>
<line x1="234.7" y1="1413" x2="234.7" y2="1422" stroke="#000" stroke-width="2" stroke-linecap="butt"/>
<line x1="413.2" y1="1413" x2="413.2" y2="1422" stroke="#000" stroke-width="2" stroke-linecap="butt"/>
<rect x="56.2" y="1459" width="357" height="269" fill="#f8f8f8" stroke="none" stroke-width="0"/>
<rect x="113.4" y="1459" width="4.6" height="269" fill="#888888" stroke="none" stroke-width="0"/>
<rect x="232.4" y="1459" width="4.6" height="269" fill="#888888" stroke="none" stroke-width="0"/>
<rect x="351.4" y="1459" width="4.6" height="269" fill="#888888" stroke="none" stroke-width="0"/>
<g clip-path="url(#cg0b)">
<path d="M56.2 1459 57.1 1577.7 57.7 1728" fill="none" stroke="#cfebee" stroke-width="3.6" stroke-linejoin="round"/>
<path d="M56.2 1459 61.9 1486.4 67.1 1515.3 71.8 1545.6 75.9 1577.7 79.6 1611.6 82.9 1647.8 85.7 1686.6 88.2 1728" fill="none" stroke="#b8e2e6" stroke-width="3.6" stroke-linejoin="round"/>
<path d="M56.2 1459 65.9 1482.9 74.9 1507.8 83 1533.8 90.5 1561.2 97.2 1589.9 103.2 1620.2 108.6 1652.3 113.4 1686.2" fill="none" stroke="#a2d8dd" stroke-width="3.6" stroke-linejoin="round"/>
<path d="M113.4 1686.2 115.1 1693.7 118.1 1699.3" fill="none" stroke="#f9d4a7" stroke-width="3.6" stroke-linejoin="round"/>
<path d="M118.1 1699.3 128.2 1713.5 137.8 1728" fill="none" stroke="#a2d8dd" stroke-width="3.6" stroke-linejoin="round"/>
<path d="M56.2 1459 72.7 1484.8 87.6 1511.9 101.2 1540.4 113.5 1570.4" fill="none" stroke="#8bcfd5" stroke-width="3.6" stroke-linejoin="round"/>
<path d="M113.5 1570.4 115.5 1574.3 118.1 1577.5" fill="none" stroke="#f8c992" stroke-width="3.6" stroke-linejoin="round"/>
<path d="M118.1 1577.5 133.8 1594.2 148.7 1611.4 162.7 1629.2 175.9 1647.7 188.1 1666.7 199.6 1686.4 210.3 1706.8 220.2 1728" fill="none" stroke="#8bcfd5" stroke-width="3.6" stroke-linejoin="round"/>
<path d="M56.2 1459 71.9 1476.8 86.8 1495.2 100.6 1514.2 113.4 1533.8" fill="none" stroke="#74c5cd" stroke-width="3.6" stroke-linejoin="round"/>
<path d="M113.4 1533.8 115.5 1536.5 118.1 1539" fill="none" stroke="#f7bf7d" stroke-width="3.6" stroke-linejoin="round"/>
<path d="M118.1 1539 135.2 1553.3 151.5 1568.2 167 1583.5 181.7 1599.2 195.5 1615.4 208.6 1632.1 220.8 1649.1 232.4 1666.8" fill="none" stroke="#74c5cd" stroke-width="3.6" stroke-linejoin="round"/>
<path d="M232.4 1666.8 234.4 1669.5 237.1 1672" fill="none" stroke="#f7bf7d" stroke-width="3.6" stroke-linejoin="round"/>
<path d="M237.1 1672 253.1 1685.5 268.4 1699.3 283 1713.5 296.8 1728" fill="none" stroke="#74c5cd" stroke-width="3.6" stroke-linejoin="round"/>
<path d="M56.2 1459 71.5 1470.1 86.1 1481.4 100 1492.9 113.6 1504.7" fill="none" stroke="#5ebcc5" stroke-width="3.6" stroke-linejoin="round"/>
<path d="M113.6 1504.7 118.1 1508" fill="none" stroke="#f5b467" stroke-width="3.6" stroke-linejoin="round"/>
<path d="M118.1 1508 150.1 1527.5 179.6 1547.6 206.9 1568.4 232.4 1590.1" fill="none" stroke="#5ebcc5" stroke-width="3.6" stroke-linejoin="round"/>
<path d="M232.4 1590.1 237.2 1593.5" fill="none" stroke="#f5b467" stroke-width="3.6" stroke-linejoin="round"/>
<path d="M237.2 1593.5 269.2 1613 298.6 1633.1 326 1653.9 351.5 1675.6" fill="none" stroke="#5ebcc5" stroke-width="3.6" stroke-linejoin="round"/>
<path d="M351.5 1675.6 356 1678.9" fill="none" stroke="#f5b467" stroke-width="3.6" stroke-linejoin="round"/>
<path d="M356 1678.9 387.1 1697.9 416.2 1717.6" fill="none" stroke="#5ebcc5" stroke-width="3.6" stroke-linejoin="round"/>
<path d="M56.2 1459 85.8 1477.8 113.6 1497.4" fill="none" stroke="#47b2bd" stroke-width="3.6" stroke-linejoin="round"/>
<path d="M113.6 1497.4 118 1500.1" fill="none" stroke="#f4aa52" stroke-width="3.6" stroke-linejoin="round"/>
<path d="M118 1500.1 149.3 1516.7 178.8 1534 206.5 1551.7 232.6 1570.2" fill="none" stroke="#47b2bd" stroke-width="3.6" stroke-linejoin="round"/>
<path d="M232.6 1570.2 237.1 1572.9" fill="none" stroke="#f4aa52" stroke-width="3.6" stroke-linejoin="round"/>
<path d="M237.1 1572.9 268.4 1589.6 297.8 1606.8 325.5 1624.5 351.4 1642.8" fill="none" stroke="#47b2bd" stroke-width="3.6" stroke-linejoin="round"/>
<path d="M351.4 1642.8 356.1 1645.7" fill="none" stroke="#f4aa52" stroke-width="3.6" stroke-linejoin="round"/>
<path d="M356.1 1645.7 387.1 1662.2 416.3 1679.2" fill="none" stroke="#47b2bd" stroke-width="3.6" stroke-linejoin="round"/>
<path d="M56.2 1459 85.6 1475.1 113.5 1491.8" fill="none" stroke="#30a9b4" stroke-width="3.6" stroke-linejoin="round"/>
<path d="M113.5 1491.8 118.3 1494.3" fill="none" stroke="#f39f3d" stroke-width="3.6" stroke-linejoin="round"/>
<path d="M118.3 1494.3 149.1 1508.9 178.4 1523.7 206.3 1539.2 232.6 1554.9" fill="none" stroke="#30a9b4" stroke-width="3.6" stroke-linejoin="round"/>
<path d="M232.6 1554.9 237 1557.3" fill="none" stroke="#f39f3d" stroke-width="3.6" stroke-linejoin="round"/>
<path d="M237 1557.3 267.9 1571.8 297.5 1586.9 325.4 1602.3 351.7 1618.1" fill="none" stroke="#30a9b4" stroke-width="3.6" stroke-linejoin="round"/>
<path d="M351.7 1618.1 356.2 1620.4" fill="none" stroke="#f39f3d" stroke-width="3.6" stroke-linejoin="round"/>
<path d="M356.2 1620.4 387 1634.9 416.3 1649.8" fill="none" stroke="#30a9b4" stroke-width="3.6" stroke-linejoin="round"/>
<path d="M56.2 1459 85.4 1473.2 113.6 1487.9" fill="none" stroke="#1a9fac" stroke-width="3.6" stroke-linejoin="round"/>
<path d="M113.6 1487.9 118.2 1490" fill="none" stroke="#f19527" stroke-width="3.6" stroke-linejoin="round"/>
<path d="M118.2 1490 148.7 1502.9 178 1516.2 206 1529.8 232.7 1543.8" fill="none" stroke="#1a9fac" stroke-width="3.6" stroke-linejoin="round"/>
<path d="M232.7 1543.8 237.3 1546" fill="none" stroke="#f19527" stroke-width="3.6" stroke-linejoin="round"/>
<path d="M237.3 1546 267.9 1558.9 297.1 1572.2 325.1 1585.8 351.4 1599.6" fill="none" stroke="#1a9fac" stroke-width="3.6" stroke-linejoin="round"/>
<path d="M351.4 1599.6 356 1601.7" fill="none" stroke="#f19527" stroke-width="3.6" stroke-linejoin="round"/>
<path d="M356 1601.7 387 1614.8 416.3 1628.1" fill="none" stroke="#1a9fac" stroke-width="3.6" stroke-linejoin="round"/>
<path d="M56.2 1459 85.7 1471.7 113.6 1484.6" fill="none" stroke="#0396a4" stroke-width="3.6" stroke-linejoin="round"/>
<path d="M113.6 1484.6 118.4 1486.6" fill="none" stroke="#f08a12" stroke-width="3.6" stroke-linejoin="round"/>
<path d="M118.4 1486.6 149 1498.3 178.1 1510.1 205.8 1522.1 232.5 1534.5" fill="none" stroke="#0396a4" stroke-width="3.6" stroke-linejoin="round"/>
<path d="M232.5 1534.5 237.3 1536.5" fill="none" stroke="#f08a12" stroke-width="3.6" stroke-linejoin="round"/>
<path d="M237.3 1536.5 267.8 1548.1 296.9 1560 325 1572.2 351.8 1584.5" fill="none" stroke="#0396a4" stroke-width="3.6" stroke-linejoin="round"/>
<path d="M351.8 1584.5 356.1 1586.3" fill="none" stroke="#f08a12" stroke-width="3.6" stroke-linejoin="round"/>
<path d="M356.1 1586.3 387.1 1598.2 416.6 1610.2" fill="none" stroke="#0396a4" stroke-width="3.6" stroke-linejoin="round"/>
</g>
<path d="M56.2 1459 413.2 1459 413.2 1728 56.2 1728Z" fill="none" stroke="#000" stroke-width="1.9"/>
<line x1="48.2" y1="1459" x2="56.2" y2="1459" stroke="#000" stroke-width="2" stroke-linecap="butt"/>
<line x1="48.2" y1="1548.7" x2="56.2" y2="1548.7" stroke="#000" stroke-width="2" stroke-linecap="butt"/>
<line x1="48.2" y1="1638.3" x2="56.2" y2="1638.3" stroke="#000" stroke-width="2" stroke-linecap="butt"/>
<line x1="48.2" y1="1728" x2="56.2" y2="1728" stroke="#000" stroke-width="2" stroke-linecap="butt"/>
<line x1="56.2" y1="1728" x2="56.2" y2="1737" stroke="#000" stroke-width="2" stroke-linecap="butt"/>
<line x1="234.7" y1="1728" x2="234.7" y2="1737" stroke="#000" stroke-width="2" stroke-linecap="butt"/>
<line x1="413.2" y1="1728" x2="413.2" y2="1737" stroke="#000" stroke-width="2" stroke-linecap="butt"/>
<rect x="469.3" y="1144.3" width="357.7" height="268.7" fill="#ebebeb" stroke="none" stroke-width="0"/>
<rect x="519.1" y="1144.3" width="19.6" height="268.7" fill="#9e9e9e" stroke="none" stroke-width="0"/>
<rect x="638.4" y="1144.3" width="19.6" height="268.7" fill="#9e9e9e" stroke="none" stroke-width="0"/>
<rect x="757.6" y="1144.3" width="19.6" height="268.7" fill="#9e9e9e" stroke="none" stroke-width="0"/>
<g clip-path="url(#cg1t)">
<path d="M469.3 1144.3 469.3 1413" fill="none" stroke="#0396a4" stroke-width="4.0" stroke-linejoin="round"/>
<path d="M481.2 1144.3 478.6 1166.7 476.4 1190.9 474.6 1217.7 473.1 1247.3 471 1318.1 469.9 1413" fill="none" stroke="#0396a4" stroke-width="4.0" stroke-linejoin="round"/>
<path d="M493.1 1144.3 487.9 1166.7 483.5 1190.9 479.8 1217.7 476.9 1247.3 474.5 1280.4 472.7 1318.1 471.4 1361.1 470.5 1413" fill="none" stroke="#0396a4" stroke-width="4.0" stroke-linejoin="round"/>
<path d="M505.1 1144.3 497.2 1166.7 490.6 1190.9 485.1 1217.7 480.6 1247.3 477.1 1280.4 474.4 1318.1 472.5 1361.1 471.1 1413" fill="none" stroke="#0396a4" stroke-width="4.0" stroke-linejoin="round"/>
<path d="M517 1144.3 511.6 1155 506.4 1166.7 501.9 1178.3 497.7 1190.9 493.7 1204.3 490.3 1217.7 484.4 1247.3 479.7 1280.4 476.2 1318.1 473.5 1361.1 471.7 1413" fill="none" stroke="#0396a4" stroke-width="4.0" stroke-linejoin="round"/>
<path d="M528.9 1144.3 528.9 1413" fill="none" stroke="#f08a12" stroke-width="4.0" stroke-linejoin="round"/>
<path d="M540.8 1144.3 546.2 1155 551.4 1166.7 555.9 1178.3 560.2 1190.9 564.1 1204.3 567.5 1217.7 573.4 1247.3 578.1 1280.4 581.7 1318.1 584.3 1361.1 586.2 1413" fill="none" stroke="#0396a4" stroke-width="4.0" stroke-linejoin="round"/>
<path d="M552.8 1144.3 560.7 1166.7 567.3 1190.9 572.8 1217.7 577.2 1247.3 580.7 1280.4 583.4 1318.1 585.4 1361.1 586.8 1413" fill="none" stroke="#0396a4" stroke-width="4.0" stroke-linejoin="round"/>
<path d="M564.7 1144.3 570 1166.7 574.4 1190.9 578 1217.7 581 1247.3 583.3 1280.4 585.1 1318.1 586.4 1361.1 587.3 1413" fill="none" stroke="#0396a4" stroke-width="4.0" stroke-linejoin="round"/>
<path d="M576.6 1144.3 579.2 1166.7 581.4 1190.9 583.3 1217.7 584.8 1247.3 586.8 1318.1 587.9 1413" fill="none" stroke="#0396a4" stroke-width="4.0" stroke-linejoin="round"/>
<path d="M588.5 1144.3 588.5 1413" fill="none" stroke="#0396a4" stroke-width="4.0" stroke-linejoin="round"/>
<path d="M600.5 1144.3 597.8 1166.7 595.6 1190.9 593.8 1217.7 592.3 1247.3 590.2 1318.1 589.1 1413" fill="none" stroke="#0396a4" stroke-width="4.0" stroke-linejoin="round"/>
<path d="M612.4 1144.3 607.1 1166.7 602.7 1190.9 599 1217.7 596.1 1247.3 593.7 1280.4 592 1318.1 590.7 1361.1 589.7 1413" fill="none" stroke="#0396a4" stroke-width="4.0" stroke-linejoin="round"/>
<path d="M624.3 1144.3 616.4 1166.7 609.8 1190.9 604.3 1217.7 599.9 1247.3 596.4 1280.4 593.7 1318.1 591.7 1361.1 590.3 1413" fill="none" stroke="#0396a4" stroke-width="4.0" stroke-linejoin="round"/>
<path d="M636.2 1144.3 630.8 1155 625.7 1166.7 621.1 1178.3 616.9 1190.9 612.9 1204.3 609.5 1217.7 603.6 1247.3 599 1280.4 595.4 1318.1 592.8 1361.1 590.9 1413" fill="none" stroke="#0396a4" stroke-width="4.0" stroke-linejoin="round"/>
<path d="M648.1 1144.3 648.1 1413" fill="none" stroke="#f08a12" stroke-width="4.0" stroke-linejoin="round"/>
<path d="M660.1 1144.3 665.5 1155 670.6 1166.7 675.2 1178.3 679.4 1190.9 683.4 1204.3 686.8 1217.7 692.7 1247.3 697.3 1280.4 700.9 1318.1 703.5 1361.1 705.4 1413" fill="none" stroke="#0396a4" stroke-width="4.0" stroke-linejoin="round"/>
<path d="M672 1144.3 679.9 1166.7 686.5 1190.9 692 1217.7 696.4 1247.3 699.9 1280.4 702.6 1318.1 704.6 1361.1 706 1413" fill="none" stroke="#0396a4" stroke-width="4.0" stroke-linejoin="round"/>
<path d="M683.9 1144.3 689.2 1166.7 693.6 1190.9 697.3 1217.7 700.2 1247.3 702.6 1280.4 704.3 1318.1 705.6 1361.1 706.6 1413" fill="none" stroke="#0396a4" stroke-width="4.0" stroke-linejoin="round"/>
<path d="M695.8 1144.3 698.5 1166.7 700.7 1190.9 702.5 1217.7 704 1247.3 706.1 1318.1 707.2 1413" fill="none" stroke="#0396a4" stroke-width="4.0" stroke-linejoin="round"/>
<path d="M707.8 1144.3 707.8 1413" fill="none" stroke="#0396a4" stroke-width="4.0" stroke-linejoin="round"/>
<path d="M719.7 1144.3 717.1 1166.7 714.9 1190.9 713 1217.7 711.5 1247.3 709.5 1318.1 708.4 1413" fill="none" stroke="#0396a4" stroke-width="4.0" stroke-linejoin="round"/>
<path d="M731.6 1144.3 726.3 1166.7 721.9 1190.9 718.3 1217.7 715.3 1247.3 713 1280.4 711.2 1318.1 709.9 1361.1 709 1413" fill="none" stroke="#0396a4" stroke-width="4.0" stroke-linejoin="round"/>
<path d="M743.5 1144.3 735.6 1166.7 729 1190.9 723.5 1217.7 719.1 1247.3 715.6 1280.4 712.9 1318.1 710.9 1361.1 709.5 1413" fill="none" stroke="#0396a4" stroke-width="4.0" stroke-linejoin="round"/>
<path d="M755.5 1144.3 750.1 1155 744.9 1166.7 740.4 1178.3 736.1 1190.9 732.2 1204.3 728.8 1217.7 722.9 1247.3 718.2 1280.4 714.6 1318.1 712 1361.1 710.1 1413" fill="none" stroke="#0396a4" stroke-width="4.0" stroke-linejoin="round"/>
<path d="M767.4 1144.3 767.4 1413" fill="none" stroke="#f08a12" stroke-width="4.0" stroke-linejoin="round"/>
<path d="M779.3 1144.3 784.7 1155 789.9 1166.7 794.4 1178.3 798.6 1190.9 802.6 1204.3 806 1217.7 811.9 1247.3 816.6 1280.4 820.1 1318.1 822.8 1361.1 824.6 1413" fill="none" stroke="#0396a4" stroke-width="4.0" stroke-linejoin="round"/>
<path d="M791.2 1144.3 799.1 1166.7 805.7 1190.9 811.2 1217.7 815.7 1247.3 819.2 1280.4 821.9 1318.1 823.8 1361.1 825.2 1413" fill="none" stroke="#0396a4" stroke-width="4.0" stroke-linejoin="round"/>
<path d="M803.2 1144.3 808.4 1166.7 812.8 1190.9 816.5 1217.7 819.4 1247.3 821.8 1280.4 823.6 1318.1 824.9 1361.1 825.8 1413" fill="none" stroke="#0396a4" stroke-width="4.0" stroke-linejoin="round"/>
<path d="M815.1 1144.3 817.7 1166.7 819.9 1190.9 821.7 1217.7 823.2 1247.3 825.3 1318.1 826.4 1413" fill="none" stroke="#0396a4" stroke-width="4.0" stroke-linejoin="round"/>
<path d="M827 1144.3 827 1413" fill="none" stroke="#0396a4" stroke-width="4.0" stroke-linejoin="round"/>
</g>
<path d="M469.3 1144.3 827 1144.3 827 1413 469.3 1413Z" fill="none" stroke="#000" stroke-width="1.9"/>
<line x1="461.3" y1="1144.3" x2="469.3" y2="1144.3" stroke="#000" stroke-width="2" stroke-linecap="butt"/>
<line x1="461.3" y1="1233.9" x2="469.3" y2="1233.9" stroke="#000" stroke-width="2" stroke-linecap="butt"/>
<line x1="461.3" y1="1323.4" x2="469.3" y2="1323.4" stroke="#000" stroke-width="2" stroke-linecap="butt"/>
<line x1="461.3" y1="1413" x2="469.3" y2="1413" stroke="#000" stroke-width="2" stroke-linecap="butt"/>
<line x1="469.3" y1="1413" x2="469.3" y2="1422" stroke="#000" stroke-width="2" stroke-linecap="butt"/>
<line x1="648.1" y1="1413" x2="648.1" y2="1422" stroke="#000" stroke-width="2" stroke-linecap="butt"/>
<line x1="827" y1="1413" x2="827" y2="1422" stroke="#000" stroke-width="2" stroke-linecap="butt"/>
<rect x="469.3" y="1459" width="357.7" height="269" fill="#ebebeb" stroke="none" stroke-width="0"/>
<rect x="519.1" y="1459" width="19.6" height="269" fill="#9e9e9e" stroke="none" stroke-width="0"/>
<rect x="638.4" y="1459" width="19.6" height="269" fill="#9e9e9e" stroke="none" stroke-width="0"/>
<rect x="757.6" y="1459" width="19.6" height="269" fill="#9e9e9e" stroke="none" stroke-width="0"/>
<g clip-path="url(#cg1b)">
<path d="M469.3 1459 472.5 1475.1 474.9 1493.4 476.7 1514.6 478 1539.5 479.3 1604.6 479.7 1728" fill="none" stroke="#cfebee" stroke-width="3.6" stroke-linejoin="round"/>
<path d="M469.3 1459 472.8 1466.9 475.9 1475.1 478.6 1483.9 481 1493.4 484.8 1514.6 487.5 1539.5 489.2 1568.2 490.3 1604.6 491.1 1728" fill="none" stroke="#b8e2e6" stroke-width="3.6" stroke-linejoin="round"/>
<path d="M469.3 1459 474.5 1466.9 479.1 1475.1 483.2 1483.9 486.7 1493.4 489.8 1503.7 492.4 1514.6 494.6 1526.4 496.4 1539.5 498.9 1568.2 500.5 1604.6 501.4 1653 501.7 1728" fill="none" stroke="#a2d8dd" stroke-width="3.6" stroke-linejoin="round"/>
<path d="M469.3 1459 476.2 1466.9 482.3 1475.1 487.6 1483.9 492.3 1493.4 496.4 1503.7 499.8 1514.6 502.7 1526.4 505.1 1539.5 507 1553.2 508.5 1568.2 510.5 1604.6 511.6 1653 512.1 1728" fill="none" stroke="#8bcfd5" stroke-width="3.6" stroke-linejoin="round"/>
<path d="M469.3 1459 480.3 1469.2 489.5 1480.2 497.4 1492.2 504 1505.4 509.3 1520 513.5 1536.1 516.7 1554.6 519.1 1575.9" fill="none" stroke="#74c5cd" stroke-width="3.6" stroke-linejoin="round"/>
<path d="M519.1 1575.9 519.8 1581.7 520.9 1586.5 522.4 1590.5 524.4 1594 527 1597.1 530.3 1600 534.2 1602.5 539 1604.8" fill="none" stroke="#f7bf7d" stroke-width="3.6" stroke-linejoin="round"/>
<path d="M539 1604.8 550.3 1610 560.7 1615.4 570.3 1620.9 579.2 1626.9 587.2 1633 594.4 1639.2 601.2 1646 607.1 1653 612.4 1660.4 617.3 1668.3 621.5 1676.5 625.2 1685.5 628.5 1695 631.3 1705 633.7 1716 635.7 1728" fill="none" stroke="#74c5cd" stroke-width="3.6" stroke-linejoin="round"/>
<path d="M469.3 1459 478.3 1465.6 486.4 1472.6 493.6 1480 500.1 1487.7 505.8 1495.9 510.9 1504.7 515.3 1514.1 519.2 1524.1" fill="none" stroke="#5ebcc5" stroke-width="3.6" stroke-linejoin="round"/>
<path d="M519.2 1524.1 522 1529.8 526 1534.5 531.6 1538.4 539 1541.9" fill="none" stroke="#f5b467" stroke-width="3.6" stroke-linejoin="round"/>
<path d="M539 1541.9 558.6 1550.3 576.2 1559.4 591.2 1569.1 604.3 1579.7 615.3 1591 620.2 1597.1 624.6 1603.4 628.6 1610 632.2 1617 638.4 1632.2" fill="none" stroke="#5ebcc5" stroke-width="3.6" stroke-linejoin="round"/>
<path d="M638.4 1632.2 641.1 1638 645.2 1642.6 650.7 1646.6 658 1650" fill="none" stroke="#f5b467" stroke-width="3.6" stroke-linejoin="round"/>
<path d="M658 1650 676.1 1657.7 692.1 1665.8 706.2 1674.4 718.5 1683.5 729.2 1693.4 738.4 1704 746.2 1715.4 752.7 1728" fill="none" stroke="#5ebcc5" stroke-width="3.6" stroke-linejoin="round"/>
<path d="M469.3 1459 477.4 1464 485.2 1469.4 492.1 1474.8 498.5 1480.5 504.4 1486.4 509.8 1492.7 514.8 1499.4 519.2 1506.2" fill="none" stroke="#47b2bd" stroke-width="3.6" stroke-linejoin="round"/>
<path d="M519.2 1506.2 522.4 1510.3 526.8 1513.9 532.1 1516.9 539.1 1519.8" fill="none" stroke="#f4aa52" stroke-width="3.6" stroke-linejoin="round"/>
<path d="M539.1 1519.8 557.3 1526.8 573.7 1534.1 588.1 1541.9 601.1 1550.1 612.5 1558.9 622.4 1568.2 631 1578.3 638.4 1589.2" fill="none" stroke="#47b2bd" stroke-width="3.6" stroke-linejoin="round"/>
<path d="M638.4 1589.2 641.6 1593.3 645.9 1596.9 651.2 1600 658.2 1602.8" fill="none" stroke="#f4aa52" stroke-width="3.6" stroke-linejoin="round"/>
<path d="M658.2 1602.8 676.4 1609.8 692.8 1617.2 707.3 1624.9 720.2 1633.1 731.7 1641.9 741.6 1651.2 750.2 1661.3 757.6 1672.2" fill="none" stroke="#47b2bd" stroke-width="3.6" stroke-linejoin="round"/>
<path d="M757.6 1672.2 760.8 1676.4 765 1679.9 770.3 1683 777.2 1685.9" fill="none" stroke="#f4aa52" stroke-width="3.6" stroke-linejoin="round"/>
<path d="M777.2 1685.9 792 1691.4 805.8 1697.3 818.6 1703.6 830 1710.1" fill="none" stroke="#47b2bd" stroke-width="3.6" stroke-linejoin="round"/>
<path d="M469.3 1459 484.4 1467.4 497.6 1476.4 509.3 1486.1 519.2 1496.5" fill="none" stroke="#30a9b4" stroke-width="3.6" stroke-linejoin="round"/>
<path d="M519.2 1496.5 522.8 1499.9 527.2 1502.8 532.7 1505.4 539.1 1507.8" fill="none" stroke="#f39f3d" stroke-width="3.6" stroke-linejoin="round"/>
<path d="M539.1 1507.8 556.1 1513.7 571.9 1520 586.3 1526.6 599 1533.4 610.5 1540.6 621 1548.3 630.3 1556.6 638.4 1565.2" fill="none" stroke="#30a9b4" stroke-width="3.6" stroke-linejoin="round"/>
<path d="M638.4 1565.2 642 1568.6 646.3 1571.4 651.8 1574.1 658.1 1576.5" fill="none" stroke="#f39f3d" stroke-width="3.6" stroke-linejoin="round"/>
<path d="M658.1 1576.5 675.2 1582.4 690.9 1588.7 705.4 1595.3 718.1 1602.1 729.6 1609.3 740.1 1617 749.5 1625.2 757.6 1633.9" fill="none" stroke="#30a9b4" stroke-width="3.6" stroke-linejoin="round"/>
<path d="M757.6 1633.9 761.1 1637.3 765.4 1640.1 770.9 1642.8 777.2 1645.1" fill="none" stroke="#f39f3d" stroke-width="3.6" stroke-linejoin="round"/>
<path d="M777.2 1645.1 791.8 1650.2 805.8 1655.5 818.5 1661.1 830.1 1666.8" fill="none" stroke="#30a9b4" stroke-width="3.6" stroke-linejoin="round"/>
<path d="M469.3 1459 484 1466.2 497 1473.7 508.8 1481.8 519.2 1490.4" fill="none" stroke="#1a9fac" stroke-width="3.6" stroke-linejoin="round"/>
<path d="M519.2 1490.4 522.9 1493.3 527.4 1495.8 532.8 1498.1 539.3 1500.2" fill="none" stroke="#f19527" stroke-width="3.6" stroke-linejoin="round"/>
<path d="M539.3 1500.2 555.5 1505.4 570.9 1511 585 1516.7 597.7 1522.7 609.4 1528.9 620.2 1535.6 629.7 1542.4 638.5 1549.7" fill="none" stroke="#1a9fac" stroke-width="3.6" stroke-linejoin="round"/>
<path d="M638.5 1549.7 642 1552.4 646.3 1554.9 651.7 1557.3 658 1559.4" fill="none" stroke="#f19527" stroke-width="3.6" stroke-linejoin="round"/>
<path d="M658 1559.4 674.3 1564.6 689.8 1570.2 703.9 1575.9 717 1582 728.7 1588.3 739.5 1594.9 749 1601.7 757.7 1609.1" fill="none" stroke="#1a9fac" stroke-width="3.6" stroke-linejoin="round"/>
<path d="M757.7 1609.1 761.2 1611.8 765.6 1614.3 771 1616.6 777.4 1618.8" fill="none" stroke="#f19527" stroke-width="3.6" stroke-linejoin="round"/>
<path d="M777.4 1618.8 805.8 1628.3 818.5 1633.3 830.3 1638.5" fill="none" stroke="#1a9fac" stroke-width="3.6" stroke-linejoin="round"/>
<path d="M469.3 1459 483.7 1465.3 496.9 1471.9 508.5 1478.7 519.2 1486.1" fill="none" stroke="#0396a4" stroke-width="3.6" stroke-linejoin="round"/>
<path d="M519.2 1486.1 523.2 1488.6 527.6 1490.7 539.1 1494.7" fill="none" stroke="#f08a12" stroke-width="3.6" stroke-linejoin="round"/>
<path d="M539.1 1494.7 570.1 1504.4 583.7 1509.4 596.7 1514.8 608.6 1520.3 619.4 1526.1 629.5 1532.2 638.6 1538.4" fill="none" stroke="#0396a4" stroke-width="3.6" stroke-linejoin="round"/>
<path d="M638.6 1538.4 642.5 1541 647 1543.1 658.5 1547.1" fill="none" stroke="#f08a12" stroke-width="3.6" stroke-linejoin="round"/>
<path d="M658.5 1547.1 689.5 1556.7 703.1 1561.8 716.1 1567.1 728 1572.7 738.8 1578.4 748.6 1584.4 757.6 1590.6" fill="none" stroke="#0396a4" stroke-width="3.6" stroke-linejoin="round"/>
<path d="M757.6 1590.6 761.6 1593.1 765.9 1595.3 777.4 1599.2" fill="none" stroke="#f08a12" stroke-width="3.6" stroke-linejoin="round"/>
<path d="M777.4 1599.2 805.3 1607.8 830 1617.2" fill="none" stroke="#0396a4" stroke-width="3.6" stroke-linejoin="round"/>
</g>
<path d="M469.3 1459 827 1459 827 1728 469.3 1728Z" fill="none" stroke="#000" stroke-width="1.9"/>
<line x1="461.3" y1="1459" x2="469.3" y2="1459" stroke="#000" stroke-width="2" stroke-linecap="butt"/>
<line x1="461.3" y1="1548.7" x2="469.3" y2="1548.7" stroke="#000" stroke-width="2" stroke-linecap="butt"/>
<line x1="461.3" y1="1638.3" x2="469.3" y2="1638.3" stroke="#000" stroke-width="2" stroke-linecap="butt"/>
<line x1="461.3" y1="1728" x2="469.3" y2="1728" stroke="#000" stroke-width="2" stroke-linecap="butt"/>
<line x1="469.3" y1="1728" x2="469.3" y2="1737" stroke="#000" stroke-width="2" stroke-linecap="butt"/>
<line x1="648.1" y1="1728" x2="648.1" y2="1737" stroke="#000" stroke-width="2" stroke-linecap="butt"/>
<line x1="827" y1="1728" x2="827" y2="1737" stroke="#000" stroke-width="2" stroke-linecap="butt"/>
<rect x="875" y="1144.3" width="357.6" height="268.7" fill="#d0d0d0" stroke="none" stroke-width="0"/>
<rect x="904.8" y="1144.3" width="59.6" height="268.7" fill="#d0d0d0" stroke="none" stroke-width="0"/>
<rect x="1024" y="1144.3" width="59.6" height="268.7" fill="#d0d0d0" stroke="none" stroke-width="0"/>
<rect x="1143.2" y="1144.3" width="59.6" height="268.7" fill="#d0d0d0" stroke="none" stroke-width="0"/>
<g clip-path="url(#cg2t)">
<path d="M875 1144.3 875 1413" fill="none" stroke="#0396a4" stroke-width="4.0" stroke-linejoin="round"/>
<path d="M886.9 1144.3 883.2 1158.6 880.2 1175.6 878.1 1195.4 876.7 1218.6 875.8 1245.5 875.3 1280.4 875 1413" fill="none" stroke="#0396a4" stroke-width="4.0" stroke-linejoin="round"/>
<path d="M898.8 1144.3 894.7 1151.5 891.3 1158.6 888.2 1166.7 885.4 1175.6 883 1185.5 881.2 1195.4 878.3 1218.6 876.6 1245.5 875.6 1280.4 875 1413" fill="none" stroke="#0396a4" stroke-width="4.0" stroke-linejoin="round"/>
<path d="M910.8 1144.3 904.4 1153.3" fill="none" stroke="#f08a12" stroke-width="4.0" stroke-linejoin="round"/>
<path d="M904.4 1153.3 899.3 1160.4 895.1 1167.6 891.3 1175.6 888.1 1183.7 885.4 1192.7 883 1202.5 881 1213.3 879.3 1225.8 877.1 1252.7 875.9 1286.7 875.3 1333.3 875 1413" fill="none" stroke="#0396a4" stroke-width="4.0" stroke-linejoin="round"/>
<path d="M922.7 1144.3 919.1 1154.2 915 1163.1 910.3 1171.2 904.6 1179.2" fill="none" stroke="#f08a12" stroke-width="4.0" stroke-linejoin="round"/>
<path d="M904.6 1179.2 900 1185.5 895.7 1192.7 891.7 1200.7 888.5 1208.8 885.7 1217.7 883.4 1226.7 881.5 1236.6 879.8 1248.2 877.5 1273.3 876.1 1304.6 875.4 1346.7 875.1 1413" fill="none" stroke="#0396a4" stroke-width="4.0" stroke-linejoin="round"/>
<path d="M934.6 1144.3 934.6 1413" fill="none" stroke="#f08a12" stroke-width="4.0" stroke-linejoin="round"/>
<path d="M946.5 1144.3 950.1 1154.2 954.2 1163.1 958.9 1171.2 964.6 1179.2" fill="none" stroke="#f08a12" stroke-width="4.0" stroke-linejoin="round"/>
<path d="M964.6 1179.2 969.2 1185.5 973.5 1192.7 977.5 1200.7 980.7 1208.8 983.5 1217.7 985.8 1226.7 987.7 1236.6 989.4 1248.2 991.7 1273.3 993.1 1304.6 993.8 1346.7 994.1 1413" fill="none" stroke="#0396a4" stroke-width="4.0" stroke-linejoin="round"/>
<path d="M958.4 1144.3 964.8 1153.3" fill="none" stroke="#f08a12" stroke-width="4.0" stroke-linejoin="round"/>
<path d="M964.8 1153.3 969.9 1160.4 974.1 1167.6 977.9 1175.6 981.1 1183.7 983.8 1192.7 986.2 1202.5 988.2 1213.3 989.9 1225.8 992.1 1252.7 993.3 1286.7 993.9 1333.3 994.2 1413" fill="none" stroke="#0396a4" stroke-width="4.0" stroke-linejoin="round"/>
<path d="M970.4 1144.3 974.5 1151.5 977.9 1158.6 981 1166.7 983.8 1175.6 986.2 1185.5 988 1195.4 990.9 1218.6 992.6 1245.5 993.6 1280.4 994.2 1413" fill="none" stroke="#0396a4" stroke-width="4.0" stroke-linejoin="round"/>
<path d="M982.3 1144.3 986 1158.6 989 1175.6 991.1 1195.4 992.5 1218.6 993.4 1245.5 993.9 1280.4 994.2 1413" fill="none" stroke="#0396a4" stroke-width="4.0" stroke-linejoin="round"/>
<path d="M994.2 1144.3 994.2 1413" fill="none" stroke="#0396a4" stroke-width="4.0" stroke-linejoin="round"/>
<path d="M1006.1 1144.3 1002.4 1158.6 999.4 1175.6 997.3 1195.4 995.9 1218.6 995 1245.5 994.5 1280.4 994.2 1413" fill="none" stroke="#0396a4" stroke-width="4.0" stroke-linejoin="round"/>
<path d="M1018 1144.3 1013.9 1151.5 1010.5 1158.6 1007.4 1166.7 1004.6 1175.6 1002.2 1185.5 1000.4 1195.4 997.5 1218.6 995.8 1245.5 994.8 1280.4 994.2 1413" fill="none" stroke="#0396a4" stroke-width="4.0" stroke-linejoin="round"/>
<path d="M1030 1144.3 1023.6 1153.3" fill="none" stroke="#f08a12" stroke-width="4.0" stroke-linejoin="round"/>
<path d="M1023.6 1153.3 1018.5 1160.4 1014.3 1167.6 1010.5 1175.6 1007.3 1183.7 1004.6 1192.7 1002.2 1202.5 1000.2 1213.3 998.5 1225.8 996.3 1252.7 995.1 1286.7 994.5 1333.3 994.2 1413" fill="none" stroke="#0396a4" stroke-width="4.0" stroke-linejoin="round"/>
<path d="M1041.9 1144.3 1038.3 1154.2 1034.2 1163.1 1029.5 1171.2 1023.8 1179.2" fill="none" stroke="#f08a12" stroke-width="4.0" stroke-linejoin="round"/>
<path d="M1023.8 1179.2 1019.2 1185.5 1014.9 1192.7 1010.9 1200.7 1007.7 1208.8 1004.9 1217.7 1002.6 1226.7 1000.7 1236.6 999 1248.2 996.7 1273.3 995.3 1304.6 994.6 1346.7 994.3 1413" fill="none" stroke="#0396a4" stroke-width="4.0" stroke-linejoin="round"/>
<path d="M1053.8 1144.3 1053.8 1413" fill="none" stroke="#f08a12" stroke-width="4.0" stroke-linejoin="round"/>
<path d="M1065.7 1144.3 1069.3 1154.2 1073.4 1163.1 1078.1 1171.2 1083.8 1179.2" fill="none" stroke="#f08a12" stroke-width="4.0" stroke-linejoin="round"/>
<path d="M1083.8 1179.2 1088.4 1185.5 1092.7 1192.7 1096.7 1200.7 1099.9 1208.8 1102.7 1217.7 1105 1226.7 1106.9 1236.6 1108.6 1248.2 1110.9 1273.3 1112.3 1304.6 1113 1346.7 1113.3 1413" fill="none" stroke="#0396a4" stroke-width="4.0" stroke-linejoin="round"/>
<path d="M1077.6 1144.3 1084 1153.3" fill="none" stroke="#f08a12" stroke-width="4.0" stroke-linejoin="round"/>
<path d="M1084 1153.3 1089.1 1160.4 1093.3 1167.6 1097.1 1175.6 1100.3 1183.7 1103 1192.7 1105.4 1202.5 1107.4 1213.3 1109.1 1225.8 1111.3 1252.7 1112.5 1286.7 1113.1 1333.3 1113.4 1413" fill="none" stroke="#0396a4" stroke-width="4.0" stroke-linejoin="round"/>
<path d="M1089.6 1144.3 1093.7 1151.5 1097.1 1158.6 1100.2 1166.7 1103 1175.6 1105.4 1185.5 1107.2 1195.4 1110.1 1218.6 1111.8 1245.5 1112.8 1280.4 1113.4 1413" fill="none" stroke="#0396a4" stroke-width="4.0" stroke-linejoin="round"/>
<path d="M1101.5 1144.3 1105.2 1158.6 1108.2 1175.6 1110.3 1195.4 1111.7 1218.6 1112.6 1245.5 1113.1 1280.4 1113.4 1413" fill="none" stroke="#0396a4" stroke-width="4.0" stroke-linejoin="round"/>
<path d="M1113.4 1144.3 1113.4 1413" fill="none" stroke="#0396a4" stroke-width="4.0" stroke-linejoin="round"/>
<path d="M1125.3 1144.3 1121.6 1158.6 1118.6 1175.6 1116.5 1195.4 1115.1 1218.6 1114.2 1245.5 1113.7 1280.4 1113.4 1413" fill="none" stroke="#0396a4" stroke-width="4.0" stroke-linejoin="round"/>
<path d="M1137.2 1144.3 1133.1 1151.5 1129.7 1158.6 1126.6 1166.7 1123.8 1175.6 1121.4 1185.5 1119.6 1195.4 1116.7 1218.6 1115 1245.5 1114 1280.4 1113.4 1413" fill="none" stroke="#0396a4" stroke-width="4.0" stroke-linejoin="round"/>
<path d="M1149.2 1144.3 1142.8 1153.3" fill="none" stroke="#f08a12" stroke-width="4.0" stroke-linejoin="round"/>
<path d="M1142.8 1153.3 1137.7 1160.4 1133.5 1167.6 1129.7 1175.6 1126.5 1183.7 1123.8 1192.7 1121.4 1202.5 1119.4 1213.3 1117.7 1225.8 1115.5 1252.7 1114.3 1286.7 1113.7 1333.3 1113.4 1413" fill="none" stroke="#0396a4" stroke-width="4.0" stroke-linejoin="round"/>
<path d="M1161.1 1144.3 1157.5 1154.2 1153.4 1163.1 1148.7 1171.2 1143 1179.2" fill="none" stroke="#f08a12" stroke-width="4.0" stroke-linejoin="round"/>
<path d="M1143 1179.2 1138.4 1185.5 1134.1 1192.7 1130.1 1200.7 1126.9 1208.8 1124.1 1217.7 1121.8 1226.7 1119.9 1236.6 1118.2 1248.2 1115.9 1273.3 1114.5 1304.6 1113.8 1346.7 1113.5 1413" fill="none" stroke="#0396a4" stroke-width="4.0" stroke-linejoin="round"/>
<path d="M1173 1144.3 1173 1413" fill="none" stroke="#f08a12" stroke-width="4.0" stroke-linejoin="round"/>
<path d="M1184.9 1144.3 1188.5 1154.2 1192.6 1163.1 1197.3 1171.2 1203 1179.2" fill="none" stroke="#f08a12" stroke-width="4.0" stroke-linejoin="round"/>
<path d="M1203 1179.2 1207.6 1185.5 1211.9 1192.7 1215.9 1200.7 1219.1 1208.8 1221.9 1217.7 1224.2 1226.7 1226.1 1236.6 1227.8 1248.2 1230.1 1273.3 1231.5 1304.6 1232.2 1346.7 1232.5 1413" fill="none" stroke="#0396a4" stroke-width="4.0" stroke-linejoin="round"/>
<path d="M1196.8 1144.3 1203.2 1153.3" fill="none" stroke="#f08a12" stroke-width="4.0" stroke-linejoin="round"/>
<path d="M1203.2 1153.3 1208.3 1160.4 1212.5 1167.6 1216.3 1175.6 1219.5 1183.7 1222.2 1192.7 1224.6 1202.5 1226.6 1213.3 1228.3 1225.8 1230.5 1252.7 1231.7 1286.7 1232.3 1333.3 1232.6 1413" fill="none" stroke="#0396a4" stroke-width="4.0" stroke-linejoin="round"/>
<path d="M1208.8 1144.3 1212.9 1151.5 1216.3 1158.6 1219.4 1166.7 1222.2 1175.6 1224.6 1185.5 1226.4 1195.4 1229.3 1218.6 1231 1245.5 1232 1280.4 1232.6 1413" fill="none" stroke="#0396a4" stroke-width="4.0" stroke-linejoin="round"/>
<path d="M1220.7 1144.3 1224.4 1158.6 1227.4 1175.6 1229.5 1195.4 1230.9 1218.6 1231.8 1245.5 1232.3 1280.4 1232.6 1413" fill="none" stroke="#0396a4" stroke-width="4.0" stroke-linejoin="round"/>
<path d="M1232.6 1144.3 1232.6 1413" fill="none" stroke="#0396a4" stroke-width="4.0" stroke-linejoin="round"/>
</g>
<path d="M875 1144.3 1232.6 1144.3 1232.6 1413 875 1413Z" fill="none" stroke="#000" stroke-width="1.9"/>
<line x1="867" y1="1144.3" x2="875" y2="1144.3" stroke="#000" stroke-width="2" stroke-linecap="butt"/>
<line x1="867" y1="1233.9" x2="875" y2="1233.9" stroke="#000" stroke-width="2" stroke-linecap="butt"/>
<line x1="867" y1="1323.4" x2="875" y2="1323.4" stroke="#000" stroke-width="2" stroke-linecap="butt"/>
<line x1="867" y1="1413" x2="875" y2="1413" stroke="#000" stroke-width="2" stroke-linecap="butt"/>
<line x1="875" y1="1413" x2="875" y2="1422" stroke="#000" stroke-width="2" stroke-linecap="butt"/>
<line x1="1053.8" y1="1413" x2="1053.8" y2="1422" stroke="#000" stroke-width="2" stroke-linecap="butt"/>
<line x1="1232.6" y1="1413" x2="1232.6" y2="1422" stroke="#000" stroke-width="2" stroke-linecap="butt"/>
<rect x="875" y="1459" width="357.6" height="269" fill="#d0d0d0" stroke="none" stroke-width="0"/>
<rect x="904.8" y="1459" width="59.6" height="269" fill="#d0d0d0" stroke="none" stroke-width="0"/>
<rect x="1024" y="1459" width="59.6" height="269" fill="#d0d0d0" stroke="none" stroke-width="0"/>
<rect x="1143.2" y="1459" width="59.6" height="269" fill="#d0d0d0" stroke="none" stroke-width="0"/>
<g clip-path="url(#cg2b)">
<path d="M875 1459 876.5 1468.1 877.6 1478.9 878.7 1509.2 879 1728" fill="none" stroke="#cfebee" stroke-width="3.6" stroke-linejoin="round"/>
<path d="M875 1459 878.5 1468.1 880.9 1478.9 882.4 1492 883.4 1509.2 883.9 1555.5 884 1728" fill="none" stroke="#b8e2e6" stroke-width="3.6" stroke-linejoin="round"/>
<path d="M875 1459 877.8 1463.3 880.4 1468.1 882.4 1473.3 884.1 1478.9 886.6 1492 888 1509.2 888.6 1527.9 888.9 1555.5 889 1728" fill="none" stroke="#a2d8dd" stroke-width="3.6" stroke-linejoin="round"/>
<path d="M875 1459 878.9 1463.3 882.3 1468.1 885.1 1473.3 887.4 1478.9 889.2 1485 890.7 1492 892.7 1509.2 893.5 1527.9 893.9 1555.5 894 1728" fill="none" stroke="#8bcfd5" stroke-width="3.6" stroke-linejoin="round"/>
<path d="M875 1459 879.9 1463.3 884.2 1468.1 887.8 1473.3 890.6 1478.9 892.9 1485 894.8 1492 896.2 1499.9 897.3 1509.2 898.4 1527.9 898.9 1555.5 899 1728" fill="none" stroke="#74c5cd" stroke-width="3.6" stroke-linejoin="round"/>
<path d="M875 1459 880.7 1463.3 885.7 1468.1 889.9 1473.3 893.2 1478.9 895.9 1485 898.1 1492 899.8 1499.9 901 1509.2 902.3 1527.9 902.8 1555.5 903 1728" fill="none" stroke="#5ebcc5" stroke-width="3.6" stroke-linejoin="round"/>
<path d="M875 1459 881.7 1463.5 887.4 1468.3 892.1 1473.5 896 1479.3 899.1 1485.5 901.5 1492.7 903.4 1501 904.8 1510.5" fill="none" stroke="#47b2bd" stroke-width="3.6" stroke-linejoin="round"/>
<path d="M904.8 1510.5 906.9 1523.4 910 1533.8 914.5 1542.7 920.4 1550.5 928.3 1557.5 938.1 1563.6 950.1 1569.1 964.6 1574.1" fill="none" stroke="#f4aa52" stroke-width="3.6" stroke-linejoin="round"/>
<path d="M964.6 1574.1 978.9 1579.2 990.9 1584.7 1000.6 1590.8 1008.5 1597.8 1014.4 1605.5 1018.8 1614.5 1022 1625.1 1024 1638" fill="none" stroke="#47b2bd" stroke-width="3.6" stroke-linejoin="round"/>
<path d="M1024 1638 1026.1 1650.9 1029.3 1661.5 1033.7 1670.4 1039.7 1678.1 1047.7 1685.1 1057.5 1691.2 1069.7 1696.8 1084.2 1701.8" fill="none" stroke="#f4aa52" stroke-width="3.6" stroke-linejoin="round"/>
<path d="M1084.2 1701.8 1099.7 1707.4 1112.3 1713.5 1117.5 1716.7 1122.3 1720.3 1126.4 1724.1 1130 1728" fill="none" stroke="#47b2bd" stroke-width="3.6" stroke-linejoin="round"/>
<path d="M875 1459 885.5 1465.3 889.9 1468.7 893.9 1472.5 897.3 1476.4 900.2 1480.5 902.7 1485 904.9 1489.8" fill="none" stroke="#30a9b4" stroke-width="3.6" stroke-linejoin="round"/>
<path d="M904.9 1489.8 908.3 1497 912.7 1503.5 918 1509.2 924.5 1514.4 932.4 1519.3 941.8 1523.7 952.6 1527.9 964.7 1531.6" fill="none" stroke="#f39f3d" stroke-width="3.6" stroke-linejoin="round"/>
<path d="M964.7 1531.6 976.7 1535.4 987.4 1539.5 996.7 1544 1004.5 1548.8 1011 1554 1016.3 1559.8 1020.6 1566.2 1024 1573.4" fill="none" stroke="#30a9b4" stroke-width="3.6" stroke-linejoin="round"/>
<path d="M1024 1573.4 1027.4 1580.6 1031.8 1587 1037.3 1593 1043.8 1598.2 1051.7 1603 1061.1 1607.5 1071.9 1611.6 1084.1 1615.4" fill="none" stroke="#f39f3d" stroke-width="3.6" stroke-linejoin="round"/>
<path d="M1084.1 1615.4 1096.1 1619.1 1106.8 1623.3 1116 1627.8 1123.8 1632.6 1130.2 1637.8 1135.5 1643.5 1139.9 1650 1143.2 1657.2" fill="none" stroke="#30a9b4" stroke-width="3.6" stroke-linejoin="round"/>
<path d="M1143.2 1657.2 1146.6 1664.3 1151 1670.8 1156.4 1676.5 1162.9 1681.7 1170.7 1686.6 1180 1691.1 1190.8 1695.2 1202.9 1698.9" fill="none" stroke="#f39f3d" stroke-width="3.6" stroke-linejoin="round"/>
<path d="M1202.9 1698.9 1221.3 1705 1228.9 1708.3 1235.6 1711.7" fill="none" stroke="#30a9b4" stroke-width="3.6" stroke-linejoin="round"/>
<path d="M875 1459 884.9 1464 892.9 1469.4 899.6 1475.5 904.8 1482.1" fill="none" stroke="#1a9fac" stroke-width="3.6" stroke-linejoin="round"/>
<path d="M904.8 1482.1 908.9 1487.5 913.8 1492.4 919.5 1496.8 926.5 1501.1 934.4 1505.1 943.2 1508.7 953.3 1512.1 964.6 1515.3" fill="none" stroke="#f19527" stroke-width="3.6" stroke-linejoin="round"/>
<path d="M964.6 1515.3 975.9 1518.5 985.9 1521.9 994.6 1525.5 1002.5 1529.5 1009.4 1533.8 1015.1 1538.3 1019.9 1543.1 1024 1548.5" fill="none" stroke="#1a9fac" stroke-width="3.6" stroke-linejoin="round"/>
<path d="M1024 1548.5 1028.1 1553.9 1033 1558.7 1038.7 1563.2 1045.7 1567.5 1053.6 1571.4 1062.4 1575 1072.5 1578.4 1083.8 1581.7" fill="none" stroke="#f19527" stroke-width="3.6" stroke-linejoin="round"/>
<path d="M1083.8 1581.7 1095.1 1584.9 1105.1 1588.3 1113.8 1591.9 1121.7 1595.8 1128.6 1600.1 1134.3 1604.6 1139.1 1609.5 1143.2 1614.8" fill="none" stroke="#1a9fac" stroke-width="3.6" stroke-linejoin="round"/>
<path d="M1143.2 1614.8 1147.3 1620.2 1152.2 1625.1 1157.9 1629.5 1164.9 1633.9 1172.8 1637.8 1181.6 1641.4 1191.7 1644.8 1203 1648" fill="none" stroke="#f19527" stroke-width="3.6" stroke-linejoin="round"/>
<path d="M1203 1648 1220.8 1653.4 1235.7 1659.5" fill="none" stroke="#1a9fac" stroke-width="3.6" stroke-linejoin="round"/>
<path d="M875 1459 884.3 1463.1 892.3 1467.6 899.1 1472.5 904.8 1477.8" fill="none" stroke="#0396a4" stroke-width="3.6" stroke-linejoin="round"/>
<path d="M904.8 1477.8 909.3 1482.1 914.5 1486.1 920.4 1489.8 927.4 1493.4 935.3 1496.8 943.7 1499.9 964.4 1505.8" fill="none" stroke="#f08a12" stroke-width="3.6" stroke-linejoin="round"/>
<path d="M964.4 1505.8 985.1 1511.7 993.5 1514.8 1001.4 1518.2 1008.4 1521.8 1014.4 1525.5 1019.7 1529.7 1024.1 1534" fill="none" stroke="#0396a4" stroke-width="3.6" stroke-linejoin="round"/>
<path d="M1024.1 1534 1028.6 1538.3 1033.8 1542.2 1039.8 1546 1046.8 1549.6 1054.7 1553 1063.2 1556 1084 1561.9" fill="none" stroke="#f08a12" stroke-width="3.6" stroke-linejoin="round"/>
<path d="M1084 1561.9 1104.6 1567.9 1112.9 1570.9 1120.8 1574.3 1127.7 1577.9 1133.7 1581.7 1138.8 1585.6 1143.2 1589.9" fill="none" stroke="#0396a4" stroke-width="3.6" stroke-linejoin="round"/>
<path d="M1143.2 1589.9 1147.7 1594.2 1152.9 1598.2 1158.8 1601.9 1165.8 1605.5 1173.7 1608.9 1182.1 1612 1202.8 1617.9" fill="none" stroke="#f08a12" stroke-width="3.6" stroke-linejoin="round"/>
<path d="M1202.8 1617.9 1220.8 1622.9 1235.8 1628.5" fill="none" stroke="#0396a4" stroke-width="3.6" stroke-linejoin="round"/>
</g>
<path d="M875 1459 1232.6 1459 1232.6 1728 875 1728Z" fill="none" stroke="#000" stroke-width="1.9"/>
<line x1="867" y1="1459" x2="875" y2="1459" stroke="#000" stroke-width="2" stroke-linecap="butt"/>
<line x1="867" y1="1548.7" x2="875" y2="1548.7" stroke="#000" stroke-width="2" stroke-linecap="butt"/>
<line x1="867" y1="1638.3" x2="875" y2="1638.3" stroke="#000" stroke-width="2" stroke-linecap="butt"/>
<line x1="867" y1="1728" x2="875" y2="1728" stroke="#000" stroke-width="2" stroke-linecap="butt"/>
<line x1="875" y1="1728" x2="875" y2="1737" stroke="#000" stroke-width="2" stroke-linecap="butt"/>
<line x1="1053.8" y1="1728" x2="1053.8" y2="1737" stroke="#000" stroke-width="2" stroke-linecap="butt"/>
<line x1="1232.6" y1="1728" x2="1232.6" y2="1737" stroke="#000" stroke-width="2" stroke-linecap="butt"/>
<rect x="1287.3" y="1144.3" width="359.7" height="268.7" fill="#f0f0f0" stroke="none" stroke-width="0"/>
<rect x="1287.3" y="1144.3" width="9.5" height="268.7" fill="#b5b5b5" stroke="none" stroke-width="0"/>
<rect x="1397.7" y="1144.3" width="19" height="268.7" fill="#b5b5b5" stroke="none" stroke-width="0"/>
<rect x="1517.6" y="1144.3" width="19" height="268.7" fill="#b5b5b5" stroke="none" stroke-width="0"/>
<rect x="1637.5" y="1144.3" width="9.5" height="268.7" fill="#b5b5b5" stroke="none" stroke-width="0"/>
<g clip-path="url(#cg3t)">
<path d="M1287.3 1144.3 1287.3 1413" fill="none" stroke="#0396a4" stroke-width="4.0" stroke-linejoin="round"/>
<path d="M1299.3 1144.3 1296.6 1151.5" fill="none" stroke="#f08a12" stroke-width="4.0" stroke-linejoin="round"/>
<path d="M1296.6 1151.5 1293.3 1162.2 1290.9 1174.8 1289.2 1190 1288.2 1209.7 1287.4 1261.6 1287.3 1413" fill="none" stroke="#0396a4" stroke-width="4.0" stroke-linejoin="round"/>
<path d="M1311.3 1144.3 1304.2 1167.6 1296.5 1189.1" fill="none" stroke="#f08a12" stroke-width="4.0" stroke-linejoin="round"/>
<path d="M1296.5 1189.1 1293.3 1199.8 1291 1211.5 1289.4 1225.8 1288.3 1243.7 1287.4 1291.2 1287.3 1413" fill="none" stroke="#0396a4" stroke-width="4.0" stroke-linejoin="round"/>
<path d="M1323.3 1144.3 1317.8 1171.2 1311.5 1196.2 1304.5 1219.5 1296.5 1241.9" fill="none" stroke="#f08a12" stroke-width="4.0" stroke-linejoin="round"/>
<path d="M1296.5 1241.9 1293.7 1250.9 1291.4 1261.6 1289.8 1274.2 1288.6 1289.4 1287.6 1328.8 1287.3 1413" fill="none" stroke="#0396a4" stroke-width="4.0" stroke-linejoin="round"/>
<path d="M1335.3 1144.3 1332.3 1173 1328.9 1199.8 1325 1224.9 1320.5 1249.1 1315.4 1271.5 1309.7 1293 1303.6 1312.7 1296.5 1332.4" fill="none" stroke="#f08a12" stroke-width="4.0" stroke-linejoin="round"/>
<path d="M1296.5 1332.4 1294.4 1338.7 1292.6 1345.8 1290 1362.8 1288.5 1383.4 1287.6 1413" fill="none" stroke="#0396a4" stroke-width="4.0" stroke-linejoin="round"/>
<path d="M1347.2 1144.3 1347.2 1413" fill="none" stroke="#f08a12" stroke-width="4.0" stroke-linejoin="round"/>
<path d="M1359.2 1144.3 1362.2 1173 1365.6 1199.8 1369.5 1224.9 1374 1249.1 1379.1 1271.5 1384.8 1293 1390.9 1312.7 1398 1332.4" fill="none" stroke="#f08a12" stroke-width="4.0" stroke-linejoin="round"/>
<path d="M1398 1332.4 1400.1 1338.7 1401.9 1345.8 1404.5 1362.8 1406 1383.4 1406.9 1413" fill="none" stroke="#0396a4" stroke-width="4.0" stroke-linejoin="round"/>
<path d="M1371.2 1144.3 1376.7 1171.2 1383 1196.2 1390 1219.5 1398 1241.9" fill="none" stroke="#f08a12" stroke-width="4.0" stroke-linejoin="round"/>
<path d="M1398 1241.9 1400.8 1250.9 1403.1 1261.6 1404.7 1274.2 1405.9 1289.4 1406.9 1328.8 1407.2 1413" fill="none" stroke="#0396a4" stroke-width="4.0" stroke-linejoin="round"/>
<path d="M1383.2 1144.3 1390.3 1167.6 1398 1189.1" fill="none" stroke="#f08a12" stroke-width="4.0" stroke-linejoin="round"/>
<path d="M1398 1189.1 1401.2 1199.8 1403.5 1211.5 1405.1 1225.8 1406.2 1243.7 1407.1 1291.2 1407.2 1413" fill="none" stroke="#0396a4" stroke-width="4.0" stroke-linejoin="round"/>
<path d="M1395.2 1144.3 1397.9 1151.5" fill="none" stroke="#f08a12" stroke-width="4.0" stroke-linejoin="round"/>
<path d="M1397.9 1151.5 1401.2 1162.2 1403.6 1174.8 1405.3 1190 1406.3 1209.7 1407.1 1261.6 1407.2 1413" fill="none" stroke="#0396a4" stroke-width="4.0" stroke-linejoin="round"/>
<path d="M1407.2 1144.3 1407.2 1413" fill="none" stroke="#0396a4" stroke-width="4.0" stroke-linejoin="round"/>
<path d="M1419.2 1144.3 1416.5 1151.5" fill="none" stroke="#f08a12" stroke-width="4.0" stroke-linejoin="round"/>
<path d="M1416.5 1151.5 1413.2 1162.2 1410.8 1174.8 1409.1 1190 1408.1 1209.7 1407.3 1261.6 1407.2 1413" fill="none" stroke="#0396a4" stroke-width="4.0" stroke-linejoin="round"/>
<path d="M1431.2 1144.3 1424.1 1167.6 1416.4 1189.1" fill="none" stroke="#f08a12" stroke-width="4.0" stroke-linejoin="round"/>
<path d="M1416.4 1189.1 1413.2 1199.8 1410.9 1211.5 1409.3 1225.8 1408.2 1243.7 1407.3 1291.2 1407.2 1413" fill="none" stroke="#0396a4" stroke-width="4.0" stroke-linejoin="round"/>
<path d="M1443.2 1144.3 1437.7 1171.2 1431.4 1196.2 1424.4 1219.5 1416.4 1241.9" fill="none" stroke="#f08a12" stroke-width="4.0" stroke-linejoin="round"/>
<path d="M1416.4 1241.9 1413.6 1250.9 1411.3 1261.6 1409.7 1274.2 1408.5 1289.4 1407.5 1328.8 1407.2 1413" fill="none" stroke="#0396a4" stroke-width="4.0" stroke-linejoin="round"/>
<path d="M1455.2 1144.3 1452.2 1173 1448.8 1199.8 1444.9 1224.9 1440.4 1249.1 1435.3 1271.5 1429.6 1293 1423.5 1312.7 1416.4 1332.4" fill="none" stroke="#f08a12" stroke-width="4.0" stroke-linejoin="round"/>
<path d="M1416.4 1332.4 1414.3 1338.7 1412.5 1345.8 1409.9 1362.8 1408.4 1383.4 1407.5 1413" fill="none" stroke="#0396a4" stroke-width="4.0" stroke-linejoin="round"/>
<path d="M1467.2 1144.3 1467.2 1413" fill="none" stroke="#f08a12" stroke-width="4.0" stroke-linejoin="round"/>
<path d="M1479.1 1144.3 1482.1 1173 1485.5 1199.8 1489.4 1224.9 1493.9 1249.1 1499 1271.5 1504.7 1293 1510.8 1312.7 1517.9 1332.4" fill="none" stroke="#f08a12" stroke-width="4.0" stroke-linejoin="round"/>
<path d="M1517.9 1332.4 1520 1338.7 1521.8 1345.8 1524.4 1362.8 1525.9 1383.4 1526.8 1413" fill="none" stroke="#0396a4" stroke-width="4.0" stroke-linejoin="round"/>
<path d="M1491.1 1144.3 1496.6 1171.2 1502.9 1196.2 1509.9 1219.5 1517.9 1241.9" fill="none" stroke="#f08a12" stroke-width="4.0" stroke-linejoin="round"/>
<path d="M1517.9 1241.9 1520.7 1250.9 1523 1261.6 1524.6 1274.2 1525.8 1289.4 1526.8 1328.8 1527.1 1413" fill="none" stroke="#0396a4" stroke-width="4.0" stroke-linejoin="round"/>
<path d="M1503.1 1144.3 1510.2 1167.6 1517.9 1189.1" fill="none" stroke="#f08a12" stroke-width="4.0" stroke-linejoin="round"/>
<path d="M1517.9 1189.1 1521.1 1199.8 1523.4 1211.5 1525 1225.8 1526.1 1243.7 1527 1291.2 1527.1 1413" fill="none" stroke="#0396a4" stroke-width="4.0" stroke-linejoin="round"/>
<path d="M1515.1 1144.3 1517.8 1151.5" fill="none" stroke="#f08a12" stroke-width="4.0" stroke-linejoin="round"/>
<path d="M1517.8 1151.5 1521.1 1162.2 1523.5 1174.8 1525.2 1190 1526.2 1209.7 1527 1261.6 1527.1 1413" fill="none" stroke="#0396a4" stroke-width="4.0" stroke-linejoin="round"/>
<path d="M1527.1 1144.3 1527.1 1413" fill="none" stroke="#0396a4" stroke-width="4.0" stroke-linejoin="round"/>
<path d="M1539.1 1144.3 1536.4 1151.5" fill="none" stroke="#f08a12" stroke-width="4.0" stroke-linejoin="round"/>
<path d="M1536.4 1151.5 1533.1 1162.2 1530.7 1174.8 1529 1190 1528 1209.7 1527.2 1261.6 1527.1 1413" fill="none" stroke="#0396a4" stroke-width="4.0" stroke-linejoin="round"/>
<path d="M1551.1 1144.3 1544 1167.6 1536.3 1189.1" fill="none" stroke="#f08a12" stroke-width="4.0" stroke-linejoin="round"/>
<path d="M1536.3 1189.1 1533.1 1199.8 1530.8 1211.5 1529.2 1225.8 1528.1 1243.7 1527.2 1291.2 1527.1 1413" fill="none" stroke="#0396a4" stroke-width="4.0" stroke-linejoin="round"/>
<path d="M1563.1 1144.3 1557.6 1171.2 1551.3 1196.2 1544.3 1219.5 1536.3 1241.9" fill="none" stroke="#f08a12" stroke-width="4.0" stroke-linejoin="round"/>
<path d="M1536.3 1241.9 1533.5 1250.9 1531.2 1261.6 1529.6 1274.2 1528.4 1289.4 1527.4 1328.8 1527.1 1413" fill="none" stroke="#0396a4" stroke-width="4.0" stroke-linejoin="round"/>
<path d="M1575.1 1144.3 1572.1 1173 1568.7 1199.8 1564.8 1224.9 1560.3 1249.1 1555.2 1271.5 1549.5 1293 1543.4 1312.7 1536.3 1332.4" fill="none" stroke="#f08a12" stroke-width="4.0" stroke-linejoin="round"/>
<path d="M1536.3 1332.4 1534.2 1338.7 1532.4 1345.8 1529.8 1362.8 1528.3 1383.4 1527.4 1413" fill="none" stroke="#0396a4" stroke-width="4.0" stroke-linejoin="round"/>
<path d="M1587 1144.3 1587 1413" fill="none" stroke="#f08a12" stroke-width="4.0" stroke-linejoin="round"/>
<path d="M1599 1144.3 1602 1173 1605.4 1199.8 1609.3 1224.9 1613.8 1249.1 1618.9 1271.5 1624.6 1293 1630.7 1312.7 1637.8 1332.4" fill="none" stroke="#f08a12" stroke-width="4.0" stroke-linejoin="round"/>
<path d="M1637.8 1332.4 1639.9 1338.7 1641.7 1345.8 1644.3 1362.8 1645.8 1383.4 1646.7 1413" fill="none" stroke="#0396a4" stroke-width="4.0" stroke-linejoin="round"/>
<path d="M1611 1144.3 1616.5 1171.2 1622.8 1196.2 1629.8 1219.5 1637.8 1241.9" fill="none" stroke="#f08a12" stroke-width="4.0" stroke-linejoin="round"/>
<path d="M1637.8 1241.9 1640.6 1250.9 1642.9 1261.6 1644.5 1274.2 1645.7 1289.4 1646.7 1328.8 1647 1413" fill="none" stroke="#0396a4" stroke-width="4.0" stroke-linejoin="round"/>
<path d="M1623 1144.3 1630.1 1167.6 1637.8 1189.1" fill="none" stroke="#f08a12" stroke-width="4.0" stroke-linejoin="round"/>
<path d="M1637.8 1189.1 1641 1199.8 1643.3 1211.5 1644.9 1225.8 1646 1243.7 1646.9 1291.2 1647 1413" fill="none" stroke="#0396a4" stroke-width="4.0" stroke-linejoin="round"/>
<path d="M1635 1144.3 1637.7 1151.5" fill="none" stroke="#f08a12" stroke-width="4.0" stroke-linejoin="round"/>
<path d="M1637.7 1151.5 1641 1162.2 1643.4 1174.8 1645.1 1190 1646.1 1209.7 1646.9 1261.6 1647 1413" fill="none" stroke="#0396a4" stroke-width="4.0" stroke-linejoin="round"/>
<path d="M1647 1144.3 1647 1413" fill="none" stroke="#0396a4" stroke-width="4.0" stroke-linejoin="round"/>
</g>
<path d="M1287.3 1144.3 1647 1144.3 1647 1413 1287.3 1413Z" fill="none" stroke="#000" stroke-width="1.9"/>
<line x1="1279.3" y1="1144.3" x2="1287.3" y2="1144.3" stroke="#000" stroke-width="2" stroke-linecap="butt"/>
<line x1="1279.3" y1="1233.9" x2="1287.3" y2="1233.9" stroke="#000" stroke-width="2" stroke-linecap="butt"/>
<line x1="1279.3" y1="1323.4" x2="1287.3" y2="1323.4" stroke="#000" stroke-width="2" stroke-linecap="butt"/>
<line x1="1279.3" y1="1413" x2="1287.3" y2="1413" stroke="#000" stroke-width="2" stroke-linecap="butt"/>
<line x1="1287.3" y1="1413" x2="1287.3" y2="1422" stroke="#000" stroke-width="2" stroke-linecap="butt"/>
<line x1="1467.2" y1="1413" x2="1467.2" y2="1422" stroke="#000" stroke-width="2" stroke-linecap="butt"/>
<line x1="1647" y1="1413" x2="1647" y2="1422" stroke="#000" stroke-width="2" stroke-linecap="butt"/>
<rect x="1287.3" y="1459" width="359.7" height="269" fill="#f0f0f0" stroke="none" stroke-width="0"/>
<rect x="1287.3" y="1459" width="9.5" height="269" fill="#b5b5b5" stroke="none" stroke-width="0"/>
<rect x="1397.7" y="1459" width="19" height="269" fill="#b5b5b5" stroke="none" stroke-width="0"/>
<rect x="1517.6" y="1459" width="19" height="269" fill="#b5b5b5" stroke="none" stroke-width="0"/>
<rect x="1637.5" y="1459" width="9.5" height="269" fill="#b5b5b5" stroke="none" stroke-width="0"/>
<g clip-path="url(#cg3b)">
<path d="M1287.3 1459 1288.5 1465.5 1289.4 1473.3 1290.2 1496.8 1290.3 1728" fill="none" stroke="#cfebee" stroke-width="3.6" stroke-linejoin="round"/>
<path d="M1287.3 1459 1289.5 1465.5 1291.1 1473.3 1292 1483.2 1292.5 1496.8 1292.8 1728" fill="none" stroke="#b8e2e6" stroke-width="3.6" stroke-linejoin="round"/>
<path d="M1287.3 1459 1290.6 1465.5 1292.8 1473.3 1294.2 1483.2 1294.9 1496.8 1295.3 1532.9 1295.3 1728" fill="none" stroke="#a2d8dd" stroke-width="3.6" stroke-linejoin="round"/>
<path d="M1287.3 1459 1290.7 1463.3 1293.4 1468.3 1295.4 1474.1 1296.8 1480.7" fill="none" stroke="#8bcfd5" stroke-width="3.6" stroke-linejoin="round"/>
<path d="M1296.8 1480.7 1299.4 1494.7 1302.3 1507.8 1305.6 1520.2 1309.4 1531.6 1313.6 1542.6 1318.2 1552.8 1323.5 1562.7 1329.2 1572 1335.5 1580.9 1342.5 1589.6 1350 1597.8 1358.2 1605.7 1367 1613.2 1376.7 1620.6 1386.9 1627.6 1398 1634.4" fill="none" stroke="#f8c992" stroke-width="3.6" stroke-linejoin="round"/>
<path d="M1398 1634.4 1405.3 1639.8 1408.3 1642.8 1410.7 1646 1412.7 1649.6 1414.4 1653.6 1416.7 1663.3" fill="none" stroke="#8bcfd5" stroke-width="3.6" stroke-linejoin="round"/>
<path d="M1416.7 1663.3 1420.1 1681.6 1424.2 1698.2 1429.1 1713.7 1434.7 1728" fill="none" stroke="#f8c992" stroke-width="3.6" stroke-linejoin="round"/>
<path d="M1287.3 1459 1292.9 1464.9 1296.8 1471.9" fill="none" stroke="#74c5cd" stroke-width="3.6" stroke-linejoin="round"/>
<path d="M1296.8 1471.9 1304.3 1487.9 1313.1 1502.6 1323.2 1516.2 1334.7 1528.9 1347.9 1541 1362.7 1552.3 1379.3 1563 1397.9 1573.2" fill="none" stroke="#f7bf7d" stroke-width="3.6" stroke-linejoin="round"/>
<path d="M1397.9 1573.2 1404.5 1577.2 1409.6 1581.5 1413.7 1586.5 1416.7 1592.2" fill="none" stroke="#74c5cd" stroke-width="3.6" stroke-linejoin="round"/>
<path d="M1416.7 1592.2 1424.3 1608.2 1433 1622.9 1443.1 1636.5 1454.7 1649.3 1467.8 1661.3 1482.6 1672.6 1499.3 1683.3 1517.9 1693.6" fill="none" stroke="#f7bf7d" stroke-width="3.6" stroke-linejoin="round"/>
<path d="M1517.9 1693.6 1524.5 1697.5 1529.6 1701.8 1533.6 1706.8 1536.6 1712.6" fill="none" stroke="#74c5cd" stroke-width="3.6" stroke-linejoin="round"/>
<path d="M1536.6 1712.6 1543.9 1728" fill="none" stroke="#f7bf7d" stroke-width="3.6" stroke-linejoin="round"/>
<path d="M1287.3 1459 1292.7 1463.5 1296.8 1468.5" fill="none" stroke="#5ebcc5" stroke-width="3.6" stroke-linejoin="round"/>
<path d="M1296.8 1468.5 1305.3 1480.2 1315 1491.3 1325.6 1501.7 1337.4 1511.5 1350.6 1521 1365 1530 1380.7 1538.6 1397.9 1546.9" fill="none" stroke="#f5b467" stroke-width="3.6" stroke-linejoin="round"/>
<path d="M1397.9 1546.9 1404.1 1550.1 1409.1 1553.5 1413.3 1557.3 1416.7 1561.6" fill="none" stroke="#5ebcc5" stroke-width="3.6" stroke-linejoin="round"/>
<path d="M1416.7 1561.6 1425.2 1573.2 1434.9 1584.4 1445.5 1594.8 1457.3 1604.6 1470.5 1614.1 1484.8 1623.1 1500.6 1631.7 1517.7 1639.9" fill="none" stroke="#f5b467" stroke-width="3.6" stroke-linejoin="round"/>
<path d="M1517.7 1639.9 1524 1643.2 1529 1646.6 1533.2 1650.3 1536.6 1654.7" fill="none" stroke="#5ebcc5" stroke-width="3.6" stroke-linejoin="round"/>
<path d="M1536.6 1654.7 1544.4 1665.4 1553.1 1675.6 1562.7 1685.3 1573.4 1694.6 1585.2 1703.6 1597.9 1712 1611.7 1720.1 1626.9 1728" fill="none" stroke="#f5b467" stroke-width="3.6" stroke-linejoin="round"/>
<path d="M1287.3 1459 1292.6 1462.6 1296.8 1466.5" fill="none" stroke="#47b2bd" stroke-width="3.6" stroke-linejoin="round"/>
<path d="M1296.8 1466.5 1306.1 1475.9 1316.1 1484.6 1327.1 1493.1 1339.2 1501.3 1352.4 1509.2 1366.6 1516.7 1381.7 1523.9 1398.1 1530.9" fill="none" stroke="#f4aa52" stroke-width="3.6" stroke-linejoin="round"/>
<path d="M1398.1 1530.9 1404 1533.6 1409 1536.5 1413.2 1539.5 1416.8 1542.9" fill="none" stroke="#47b2bd" stroke-width="3.6" stroke-linejoin="round"/>
<path d="M1416.8 1542.9 1426 1552.3 1436 1561 1447 1569.5 1459.2 1577.7 1472.1 1585.4 1486.2 1593 1501.3 1600.1 1517.6 1607.1" fill="none" stroke="#f4aa52" stroke-width="3.6" stroke-linejoin="round"/>
<path d="M1517.6 1607.1 1523.6 1609.8 1528.7 1612.7 1533.1 1615.9 1536.7 1619.3" fill="none" stroke="#47b2bd" stroke-width="3.6" stroke-linejoin="round"/>
<path d="M1536.7 1619.3 1546 1628.6 1556 1637.4 1566.9 1645.9 1579.1 1654.1 1592 1661.8 1606.2 1669.4 1621.2 1676.5 1637.6 1683.5" fill="none" stroke="#f4aa52" stroke-width="3.6" stroke-linejoin="round"/>
<path d="M1637.6 1683.5 1644.6 1686.8 1650.2 1690.2" fill="none" stroke="#47b2bd" stroke-width="3.6" stroke-linejoin="round"/>
<path d="M1287.3 1459 1292.6 1462 1296.9 1465.3" fill="none" stroke="#30a9b4" stroke-width="3.6" stroke-linejoin="round"/>
<path d="M1296.9 1465.3 1306.5 1473 1317.1 1480.5 1328.4 1487.7 1340.4 1494.5 1353.3 1501.1 1367.1 1507.6 1382 1513.9 1397.9 1520" fill="none" stroke="#f39f3d" stroke-width="3.6" stroke-linejoin="round"/>
<path d="M1397.9 1520 1408.7 1524.8 1413.1 1527.5 1416.9 1530.4" fill="none" stroke="#30a9b4" stroke-width="3.6" stroke-linejoin="round"/>
<path d="M1416.9 1530.4 1426.6 1538.1 1437.2 1545.6 1448.5 1552.8 1460.4 1559.6 1473.4 1566.2 1487.2 1572.7 1502.1 1579 1518 1585.1" fill="none" stroke="#f39f3d" stroke-width="3.6" stroke-linejoin="round"/>
<path d="M1518 1585.1 1528.8 1589.9 1536.7 1595.3" fill="none" stroke="#30a9b4" stroke-width="3.6" stroke-linejoin="round"/>
<path d="M1536.7 1595.3 1546.3 1603 1556.9 1610.5 1568.2 1617.7 1580.2 1624.5 1593.1 1631.2 1606.9 1637.6 1621.8 1643.9 1637.7 1650" fill="none" stroke="#f39f3d" stroke-width="3.6" stroke-linejoin="round"/>
<path d="M1637.7 1650 1644.2 1652.7 1650.1 1655.7" fill="none" stroke="#30a9b4" stroke-width="3.6" stroke-linejoin="round"/>
<path d="M1287.3 1459 1292.3 1461.5 1296.9 1464.4" fill="none" stroke="#1a9fac" stroke-width="3.6" stroke-linejoin="round"/>
<path d="M1296.9 1464.4 1306.8 1471 1317.5 1477.5 1328.9 1483.7 1341.2 1489.8 1368 1501.5 1397.9 1512.4" fill="none" stroke="#f19527" stroke-width="3.6" stroke-linejoin="round"/>
<path d="M1397.9 1512.4 1408.6 1516.7 1416.9 1521.6" fill="none" stroke="#1a9fac" stroke-width="3.6" stroke-linejoin="round"/>
<path d="M1416.9 1521.6 1426.9 1528.2 1437.6 1534.7 1449.1 1541 1461.3 1547.1 1487.7 1558.5 1517.6 1569.5" fill="none" stroke="#f19527" stroke-width="3.6" stroke-linejoin="round"/>
<path d="M1517.6 1569.5 1528.4 1573.8 1536.7 1578.6" fill="none" stroke="#1a9fac" stroke-width="3.6" stroke-linejoin="round"/>
<path d="M1536.7 1578.6 1546.7 1585.3 1557.4 1591.7 1568.8 1598 1581.1 1604.1 1607.9 1615.7 1637.9 1626.7" fill="none" stroke="#f19527" stroke-width="3.6" stroke-linejoin="round"/>
<path d="M1637.9 1626.7 1644.5 1629.2 1650.3 1631.9" fill="none" stroke="#1a9fac" stroke-width="3.6" stroke-linejoin="round"/>
<path d="M1287.3 1459 1296.9 1463.7" fill="none" stroke="#0396a4" stroke-width="3.6" stroke-linejoin="round"/>
<path d="M1296.9 1463.7 1318.1 1475.1 1342.1 1486.1 1368.5 1496.3 1398.2 1506.2" fill="none" stroke="#f08a12" stroke-width="3.6" stroke-linejoin="round"/>
<path d="M1398.2 1506.2 1408.6 1509.9 1416.8 1514.1" fill="none" stroke="#0396a4" stroke-width="3.6" stroke-linejoin="round"/>
<path d="M1416.8 1514.1 1438 1525.5 1461.7 1536.3 1488 1546.5 1517.6 1556.4" fill="none" stroke="#f08a12" stroke-width="3.6" stroke-linejoin="round"/>
<path d="M1517.6 1556.4 1528.1 1560.1 1536.8 1564.4" fill="none" stroke="#0396a4" stroke-width="3.6" stroke-linejoin="round"/>
<path d="M1536.8 1564.4 1558 1575.9 1581.6 1586.7 1608 1596.9 1637.6 1606.8" fill="none" stroke="#f08a12" stroke-width="3.6" stroke-linejoin="round"/>
<path d="M1637.6 1606.8 1650.1 1611.4" fill="none" stroke="#0396a4" stroke-width="3.6" stroke-linejoin="round"/>
</g>
<path d="M1287.3 1459 1647 1459 1647 1728 1287.3 1728Z" fill="none" stroke="#000" stroke-width="1.9"/>
<line x1="1279.3" y1="1459" x2="1287.3" y2="1459" stroke="#000" stroke-width="2" stroke-linecap="butt"/>
<line x1="1279.3" y1="1548.7" x2="1287.3" y2="1548.7" stroke="#000" stroke-width="2" stroke-linecap="butt"/>
<line x1="1279.3" y1="1638.3" x2="1287.3" y2="1638.3" stroke="#000" stroke-width="2" stroke-linecap="butt"/>
<line x1="1279.3" y1="1728" x2="1287.3" y2="1728" stroke="#000" stroke-width="2" stroke-linecap="butt"/>
<line x1="1287.3" y1="1728" x2="1287.3" y2="1737" stroke="#000" stroke-width="2" stroke-linecap="butt"/>
<line x1="1467.2" y1="1728" x2="1467.2" y2="1737" stroke="#000" stroke-width="2" stroke-linecap="butt"/>
<line x1="1647" y1="1728" x2="1647" y2="1737" stroke="#000" stroke-width="2" stroke-linecap="butt"/>
<rect x="1695" y="1144.3" width="359.1" height="268.7" fill="#fafafa" stroke="none" stroke-width="0"/>
<rect x="1695" y="1144.3" width="2" height="268.7" fill="#b0b0b0" stroke="none" stroke-width="0"/>
<rect x="1812.7" y="1144.3" width="4" height="268.7" fill="#b0b0b0" stroke="none" stroke-width="0"/>
<rect x="1932.4" y="1144.3" width="4" height="268.7" fill="#b0b0b0" stroke="none" stroke-width="0"/>
<rect x="2052.1" y="1144.3" width="2" height="268.7" fill="#b0b0b0" stroke="none" stroke-width="0"/>
<g clip-path="url(#cg4t)">
<path d="M1695 1144.3 1695 1413" fill="none" stroke="#0396a4" stroke-width="4.0" stroke-linejoin="round"/>
<path d="M1707 1144.3 1696.9 1244.6" fill="none" stroke="#f08a12" stroke-width="4.0" stroke-linejoin="round"/>
<path d="M1696.9 1244.6 1695.8 1261.6 1695.2 1284.9 1695 1413" fill="none" stroke="#0396a4" stroke-width="4.0" stroke-linejoin="round"/>
<path d="M1718.9 1144.3 1714.1 1211.5 1708.8 1275.1 1703.1 1336.9 1697 1396" fill="none" stroke="#f08a12" stroke-width="4.0" stroke-linejoin="round"/>
<path d="M1697 1396 1695.8 1413" fill="none" stroke="#0396a4" stroke-width="4.0" stroke-linejoin="round"/>
<path d="M1730.9 1144.3 1723.6 1284 1719.5 1349.4 1715 1413" fill="none" stroke="#f08a12" stroke-width="4.0" stroke-linejoin="round"/>
<path d="M1742.9 1144.3 1739.2 1284 1734.9 1413" fill="none" stroke="#f08a12" stroke-width="4.0" stroke-linejoin="round"/>
<path d="M1754.8 1144.3 1754.8 1413" fill="none" stroke="#f08a12" stroke-width="4.0" stroke-linejoin="round"/>
<path d="M1766.8 1144.3 1770.5 1284 1774.8 1413" fill="none" stroke="#f08a12" stroke-width="4.0" stroke-linejoin="round"/>
<path d="M1778.8 1144.3 1786.1 1284 1790.2 1349.4 1794.7 1413" fill="none" stroke="#f08a12" stroke-width="4.0" stroke-linejoin="round"/>
<path d="M1790.8 1144.3 1795.6 1211.5 1800.9 1275.1 1806.6 1336.9 1812.7 1396" fill="none" stroke="#f08a12" stroke-width="4.0" stroke-linejoin="round"/>
<path d="M1812.7 1396 1813.9 1413" fill="none" stroke="#0396a4" stroke-width="4.0" stroke-linejoin="round"/>
<path d="M1802.7 1144.3 1812.8 1244.6" fill="none" stroke="#f08a12" stroke-width="4.0" stroke-linejoin="round"/>
<path d="M1812.8 1244.6 1813.9 1261.6 1814.5 1284.9 1814.7 1413" fill="none" stroke="#0396a4" stroke-width="4.0" stroke-linejoin="round"/>
<path d="M1814.7 1144.3 1814.7 1413" fill="none" stroke="#0396a4" stroke-width="4.0" stroke-linejoin="round"/>
<path d="M1826.7 1144.3 1816.6 1244.6" fill="none" stroke="#f08a12" stroke-width="4.0" stroke-linejoin="round"/>
<path d="M1816.6 1244.6 1815.5 1261.6 1814.9 1284.9 1814.7 1413" fill="none" stroke="#0396a4" stroke-width="4.0" stroke-linejoin="round"/>
<path d="M1838.6 1144.3 1833.8 1211.5 1828.5 1275.1 1822.8 1336.9 1816.7 1396" fill="none" stroke="#f08a12" stroke-width="4.0" stroke-linejoin="round"/>
<path d="M1816.7 1396 1815.5 1413" fill="none" stroke="#0396a4" stroke-width="4.0" stroke-linejoin="round"/>
<path d="M1850.6 1144.3 1843.3 1284 1839.2 1349.4 1834.7 1413" fill="none" stroke="#f08a12" stroke-width="4.0" stroke-linejoin="round"/>
<path d="M1862.6 1144.3 1858.9 1284 1854.6 1413" fill="none" stroke="#f08a12" stroke-width="4.0" stroke-linejoin="round"/>
<path d="M1874.5 1144.3 1874.5 1413" fill="none" stroke="#f08a12" stroke-width="4.0" stroke-linejoin="round"/>
<path d="M1886.5 1144.3 1890.2 1284 1894.5 1413" fill="none" stroke="#f08a12" stroke-width="4.0" stroke-linejoin="round"/>
<path d="M1898.5 1144.3 1905.8 1284 1909.9 1349.4 1914.4 1413" fill="none" stroke="#f08a12" stroke-width="4.0" stroke-linejoin="round"/>
<path d="M1910.5 1144.3 1915.3 1211.5 1920.6 1275.1 1926.3 1336.9 1932.4 1396" fill="none" stroke="#f08a12" stroke-width="4.0" stroke-linejoin="round"/>
<path d="M1932.4 1396 1933.6 1413" fill="none" stroke="#0396a4" stroke-width="4.0" stroke-linejoin="round"/>
<path d="M1922.4 1144.3 1932.5 1244.6" fill="none" stroke="#f08a12" stroke-width="4.0" stroke-linejoin="round"/>
<path d="M1932.5 1244.6 1933.6 1261.6 1934.2 1284.9 1934.4 1413" fill="none" stroke="#0396a4" stroke-width="4.0" stroke-linejoin="round"/>
<path d="M1934.4 1144.3 1934.4 1413" fill="none" stroke="#0396a4" stroke-width="4.0" stroke-linejoin="round"/>
<path d="M1946.4 1144.3 1936.3 1244.6" fill="none" stroke="#f08a12" stroke-width="4.0" stroke-linejoin="round"/>
<path d="M1936.3 1244.6 1935.2 1261.6 1934.6 1284.9 1934.4 1413" fill="none" stroke="#0396a4" stroke-width="4.0" stroke-linejoin="round"/>
<path d="M1958.3 1144.3 1953.5 1211.5 1948.2 1275.1 1942.5 1336.9 1936.4 1396" fill="none" stroke="#f08a12" stroke-width="4.0" stroke-linejoin="round"/>
<path d="M1936.4 1396 1935.2 1413" fill="none" stroke="#0396a4" stroke-width="4.0" stroke-linejoin="round"/>
<path d="M1970.3 1144.3 1963 1284 1958.9 1349.4 1954.4 1413" fill="none" stroke="#f08a12" stroke-width="4.0" stroke-linejoin="round"/>
<path d="M1982.3 1144.3 1978.6 1284 1974.3 1413" fill="none" stroke="#f08a12" stroke-width="4.0" stroke-linejoin="round"/>
<path d="M1994.2 1144.3 1994.2 1413" fill="none" stroke="#f08a12" stroke-width="4.0" stroke-linejoin="round"/>
<path d="M2006.2 1144.3 2009.9 1284 2014.2 1413" fill="none" stroke="#f08a12" stroke-width="4.0" stroke-linejoin="round"/>
<path d="M2018.2 1144.3 2025.5 1284 2029.6 1349.4 2034.1 1413" fill="none" stroke="#f08a12" stroke-width="4.0" stroke-linejoin="round"/>
<path d="M2030.2 1144.3 2035 1211.5 2040.3 1275.1 2046 1336.9 2052.1 1396" fill="none" stroke="#f08a12" stroke-width="4.0" stroke-linejoin="round"/>
<path d="M2052.1 1396 2053.3 1413" fill="none" stroke="#0396a4" stroke-width="4.0" stroke-linejoin="round"/>
<path d="M2042.1 1144.3 2052.2 1244.6" fill="none" stroke="#f08a12" stroke-width="4.0" stroke-linejoin="round"/>
<path d="M2052.2 1244.6 2053.3 1261.6 2053.9 1284.9 2054.1 1413" fill="none" stroke="#0396a4" stroke-width="4.0" stroke-linejoin="round"/>
<path d="M2054.1 1144.3 2054.1 1413" fill="none" stroke="#0396a4" stroke-width="4.0" stroke-linejoin="round"/>
</g>
<path d="M1695 1144.3 2054.1 1144.3 2054.1 1413 1695 1413Z" fill="none" stroke="#000" stroke-width="1.9"/>
<line x1="1687" y1="1144.3" x2="1695" y2="1144.3" stroke="#000" stroke-width="2" stroke-linecap="butt"/>
<line x1="1687" y1="1233.9" x2="1695" y2="1233.9" stroke="#000" stroke-width="2" stroke-linecap="butt"/>
<line x1="1687" y1="1323.4" x2="1695" y2="1323.4" stroke="#000" stroke-width="2" stroke-linecap="butt"/>
<line x1="1687" y1="1413" x2="1695" y2="1413" stroke="#000" stroke-width="2" stroke-linecap="butt"/>
<line x1="1695" y1="1413" x2="1695" y2="1422" stroke="#000" stroke-width="2" stroke-linecap="butt"/>
<line x1="1874.5" y1="1413" x2="1874.5" y2="1422" stroke="#000" stroke-width="2" stroke-linecap="butt"/>
<line x1="2054.1" y1="1413" x2="2054.1" y2="1422" stroke="#000" stroke-width="2" stroke-linecap="butt"/>
<rect x="1695" y="1459" width="359.1" height="269" fill="#fafafa" stroke="none" stroke-width="0"/>
<rect x="1695" y="1459" width="2" height="269" fill="#b0b0b0" stroke="none" stroke-width="0"/>
<rect x="1812.7" y="1459" width="4" height="269" fill="#b0b0b0" stroke="none" stroke-width="0"/>
<rect x="1932.4" y="1459" width="4" height="269" fill="#b0b0b0" stroke="none" stroke-width="0"/>
<rect x="2052.1" y="1459" width="2" height="269" fill="#b0b0b0" stroke="none" stroke-width="0"/>
<g clip-path="url(#cg4b)">
<path d="M1695 1459 1696.4 1468.9 1697 1484.1" fill="none" stroke="#cfebee" stroke-width="3.6" stroke-linejoin="round"/>
<path d="M1697 1484.1 1699.5 1615.4 1703 1728" fill="none" stroke="#fce9d2" stroke-width="3.6" stroke-linejoin="round"/>
<path d="M1695 1459 1697 1464.9" fill="none" stroke="#b8e2e6" stroke-width="3.6" stroke-linejoin="round"/>
<path d="M1697 1464.9 1707.1 1502.9 1718.2 1539.3 1730.3 1574.1 1743.4 1607.3 1757.8 1639.2 1773.2 1669.9 1790 1699.5 1808 1728" fill="none" stroke="#fbdebd" stroke-width="3.6" stroke-linejoin="round"/>
<path d="M1695 1459 1697.1 1462.6" fill="none" stroke="#a2d8dd" stroke-width="3.6" stroke-linejoin="round"/>
<path d="M1697.1 1462.6 1708.9 1486.1 1721.4 1509 1734.7 1531.3 1748.7 1552.8 1763.6 1574 1779.1 1594.4 1795.5 1614.3 1812.8 1633.9" fill="none" stroke="#f9d4a7" stroke-width="3.6" stroke-linejoin="round"/>
<path d="M1812.8 1633.9 1815 1636.7 1816.7 1639.8" fill="none" stroke="#a2d8dd" stroke-width="3.6" stroke-linejoin="round"/>
<path d="M1816.7 1639.8 1828.2 1662.7 1840.5 1685.1 1853.4 1706.8 1867 1728" fill="none" stroke="#f9d4a7" stroke-width="3.6" stroke-linejoin="round"/>
<path d="M1695 1459 1697.1 1461.5" fill="none" stroke="#8bcfd5" stroke-width="3.6" stroke-linejoin="round"/>
<path d="M1697.1 1461.5 1709.6 1478.2 1722.6 1494.5 1736.2 1510.5 1750.4 1526.2 1765.2 1541.7 1780.5 1556.7 1796.3 1571.4 1812.7 1586" fill="none" stroke="#f8c992" stroke-width="3.6" stroke-linejoin="round"/>
<path d="M1812.7 1586 1816.7 1590.3" fill="none" stroke="#8bcfd5" stroke-width="3.6" stroke-linejoin="round"/>
<path d="M1816.7 1590.3 1829.2 1607 1842.3 1623.3 1855.8 1639.2 1870.1 1655 1884.8 1670.4 1900.1 1685.5 1916.1 1700.4 1932.6 1714.9" fill="none" stroke="#f8c992" stroke-width="3.6" stroke-linejoin="round"/>
<path d="M1932.6 1714.9 1936.5 1719.2" fill="none" stroke="#8bcfd5" stroke-width="3.6" stroke-linejoin="round"/>
<path d="M1936.5 1719.2 1943 1728" fill="none" stroke="#f8c992" stroke-width="3.6" stroke-linejoin="round"/>
<path d="M1695 1459 1697.1 1461" fill="none" stroke="#74c5cd" stroke-width="3.6" stroke-linejoin="round"/>
<path d="M1697.1 1461 1723.3 1486.6 1751.4 1511.5 1781.1 1535.6 1812.8 1559.1" fill="none" stroke="#f7bf7d" stroke-width="3.6" stroke-linejoin="round"/>
<path d="M1812.8 1559.1 1816.8 1562.5" fill="none" stroke="#74c5cd" stroke-width="3.6" stroke-linejoin="round"/>
<path d="M1816.8 1562.5 1843 1588.1 1871.1 1613 1900.7 1637.1 1932.5 1660.6" fill="none" stroke="#f7bf7d" stroke-width="3.6" stroke-linejoin="round"/>
<path d="M1932.5 1660.6 1936.5 1664" fill="none" stroke="#74c5cd" stroke-width="3.6" stroke-linejoin="round"/>
<path d="M1936.5 1664 1953 1680.5 1970.3 1696.6 1988.2 1712.4 2007 1728" fill="none" stroke="#f7bf7d" stroke-width="3.6" stroke-linejoin="round"/>
<path d="M1695 1459 1697.1 1460.6" fill="none" stroke="#5ebcc5" stroke-width="3.6" stroke-linejoin="round"/>
<path d="M1697.1 1460.6 1723.8 1481.6 1752 1502 1781.6 1521.9 1812.9 1541.5" fill="none" stroke="#f5b467" stroke-width="3.6" stroke-linejoin="round"/>
<path d="M1812.9 1541.5 1816.9 1544.4" fill="none" stroke="#5ebcc5" stroke-width="3.6" stroke-linejoin="round"/>
<path d="M1816.9 1544.4 1843.6 1565.3 1871.8 1585.8 1901.3 1605.7 1932.7 1625.2" fill="none" stroke="#f5b467" stroke-width="3.6" stroke-linejoin="round"/>
<path d="M1932.7 1625.2 1936.5 1627.9" fill="none" stroke="#5ebcc5" stroke-width="3.6" stroke-linejoin="round"/>
<path d="M1936.5 1627.9 1963.2 1648.9 1991.3 1669.4 2020.9 1689.3 2052.2 1708.8" fill="none" stroke="#f5b467" stroke-width="3.6" stroke-linejoin="round"/>
<path d="M2052.2 1708.8 2056.2 1711.7" fill="none" stroke="#5ebcc5" stroke-width="3.6" stroke-linejoin="round"/>
<path d="M2056.2 1711.7 2057.1 1712.4" fill="none" stroke="#f5b467" stroke-width="3.6" stroke-linejoin="round"/>
<path d="M1695 1459 1697.2 1460.4" fill="none" stroke="#47b2bd" stroke-width="3.6" stroke-linejoin="round"/>
<path d="M1697.2 1460.4 1724.2 1478.2 1752.5 1495.6 1782.1 1512.6 1812.9 1529.3" fill="none" stroke="#f4aa52" stroke-width="3.6" stroke-linejoin="round"/>
<path d="M1812.9 1529.3 1816.8 1531.6" fill="none" stroke="#47b2bd" stroke-width="3.6" stroke-linejoin="round"/>
<path d="M1816.8 1531.6 1843.8 1549.4 1872.1 1566.8 1901.6 1583.8 1932.5 1600.5" fill="none" stroke="#f4aa52" stroke-width="3.6" stroke-linejoin="round"/>
<path d="M1932.5 1600.5 1936.6 1603" fill="none" stroke="#47b2bd" stroke-width="3.6" stroke-linejoin="round"/>
<path d="M1936.6 1603 1963.6 1620.8 1991.9 1638.2 2021.5 1655.2 2052.3 1671.9" fill="none" stroke="#f4aa52" stroke-width="3.6" stroke-linejoin="round"/>
<path d="M2052.3 1671.9 2056.2 1674.2" fill="none" stroke="#47b2bd" stroke-width="3.6" stroke-linejoin="round"/>
<path d="M2056.2 1674.2 2057.3 1674.9" fill="none" stroke="#f4aa52" stroke-width="3.6" stroke-linejoin="round"/>
<path d="M1695 1459 1697.3 1460.3" fill="none" stroke="#30a9b4" stroke-width="3.6" stroke-linejoin="round"/>
<path d="M1697.3 1460.3 1724.6 1475.7 1752.9 1490.7 1782.4 1505.6 1812.9 1520.2" fill="none" stroke="#f39f3d" stroke-width="3.6" stroke-linejoin="round"/>
<path d="M1812.9 1520.2 1816.7 1522.1" fill="none" stroke="#30a9b4" stroke-width="3.6" stroke-linejoin="round"/>
<path d="M1816.7 1522.1 1844 1537.5 1872.6 1552.8 1902.2 1567.7 1932.7 1582.2" fill="none" stroke="#f39f3d" stroke-width="3.6" stroke-linejoin="round"/>
<path d="M1932.7 1582.2 1936.5 1584.2" fill="none" stroke="#30a9b4" stroke-width="3.6" stroke-linejoin="round"/>
<path d="M1936.5 1584.2 1963.8 1599.6 1992.4 1614.8 2022 1629.7 2052.5 1644.3" fill="none" stroke="#f39f3d" stroke-width="3.6" stroke-linejoin="round"/>
<path d="M2052.5 1644.3 2056.2 1646.2" fill="none" stroke="#30a9b4" stroke-width="3.6" stroke-linejoin="round"/>
<path d="M2056.2 1646.2 2057.1 1646.8" fill="none" stroke="#f39f3d" stroke-width="3.6" stroke-linejoin="round"/>
<path d="M1695 1459 1697.2 1460.1" fill="none" stroke="#1a9fac" stroke-width="3.6" stroke-linejoin="round"/>
<path d="M1697.2 1460.1 1724.7 1473.7 1752.9 1487 1782.5 1500.2 1812.8 1513.2" fill="none" stroke="#f19527" stroke-width="3.6" stroke-linejoin="round"/>
<path d="M1812.8 1513.2 1817 1515.1" fill="none" stroke="#1a9fac" stroke-width="3.6" stroke-linejoin="round"/>
<path d="M1817 1515.1 1844.5 1528.8 1872.7 1542 1902.3 1555.3 1932.6 1568.2" fill="none" stroke="#f19527" stroke-width="3.6" stroke-linejoin="round"/>
<path d="M1932.6 1568.2 1936.5 1570" fill="none" stroke="#1a9fac" stroke-width="3.6" stroke-linejoin="round"/>
<path d="M1936.5 1570 1964 1583.6 1992.5 1597.1 2022.2 1610.4 2052.5 1623.3" fill="none" stroke="#f19527" stroke-width="3.6" stroke-linejoin="round"/>
<path d="M2052.5 1623.3 2056.3 1625.1" fill="none" stroke="#1a9fac" stroke-width="3.6" stroke-linejoin="round"/>
<path d="M2056.3 1625.1 2057.4 1625.6" fill="none" stroke="#f19527" stroke-width="3.6" stroke-linejoin="round"/>
<path d="M1695 1459 1697.1 1459.9" fill="none" stroke="#0396a4" stroke-width="3.6" stroke-linejoin="round"/>
<path d="M1697.1 1459.9 1724.9 1472.1 1753.2 1483.9 1812.7 1507.2" fill="none" stroke="#f08a12" stroke-width="3.6" stroke-linejoin="round"/>
<path d="M1812.7 1507.2 1817.1 1509" fill="none" stroke="#0396a4" stroke-width="3.6" stroke-linejoin="round"/>
<path d="M1817.1 1509 1844.9 1521.2 1873.2 1533.1 1932.7 1556.4" fill="none" stroke="#f08a12" stroke-width="3.6" stroke-linejoin="round"/>
<path d="M1932.7 1556.4 1936.6 1558" fill="none" stroke="#0396a4" stroke-width="3.6" stroke-linejoin="round"/>
<path d="M1936.6 1558 1964.5 1570.2 1992.7 1582 2052.3 1605.3" fill="none" stroke="#f08a12" stroke-width="3.6" stroke-linejoin="round"/>
<path d="M2052.3 1605.3 2056.2 1607" fill="none" stroke="#0396a4" stroke-width="3.6" stroke-linejoin="round"/>
<path d="M2056.2 1607 2057.4 1607.5" fill="none" stroke="#f08a12" stroke-width="3.6" stroke-linejoin="round"/>
</g>
<path d="M1695 1459 2054.1 1459 2054.1 1728 1695 1728Z" fill="none" stroke="#000" stroke-width="1.9"/>
<line x1="1687" y1="1459" x2="1695" y2="1459" stroke="#000" stroke-width="2" stroke-linecap="butt"/>
<line x1="1687" y1="1548.7" x2="1695" y2="1548.7" stroke="#000" stroke-width="2" stroke-linecap="butt"/>
<line x1="1687" y1="1638.3" x2="1695" y2="1638.3" stroke="#000" stroke-width="2" stroke-linecap="butt"/>
<line x1="1687" y1="1728" x2="1695" y2="1728" stroke="#000" stroke-width="2" stroke-linecap="butt"/>
<line x1="1695" y1="1728" x2="1695" y2="1737" stroke="#000" stroke-width="2" stroke-linecap="butt"/>
<line x1="1874.5" y1="1728" x2="1874.5" y2="1737" stroke="#000" stroke-width="2" stroke-linecap="butt"/>
<line x1="2054.1" y1="1728" x2="2054.1" y2="1737" stroke="#000" stroke-width="2" stroke-linecap="butt"/>
<text x="46" y="1154.3" font-family="'Liberation Sans', Arial, sans-serif" font-size="22" font-weight="normal" font-style="normal" text-anchor="end" fill="#000">0</text>
<text x="46" y="1243.9" font-family="'Liberation Sans', Arial, sans-serif" font-size="22" font-weight="normal" font-style="normal" text-anchor="end" fill="#000">1</text>
<text x="46" y="1333.4" font-family="'Liberation Sans', Arial, sans-serif" font-size="22" font-weight="normal" font-style="normal" text-anchor="end" fill="#000">2</text>
<text x="46" y="1423" font-family="'Liberation Sans', Arial, sans-serif" font-size="22" font-weight="normal" font-style="normal" text-anchor="end" fill="#000">3</text>
<text x="46" y="1469" font-family="'Liberation Sans', Arial, sans-serif" font-size="22" font-weight="normal" font-style="normal" text-anchor="end" fill="#000">0</text>
<text x="46" y="1558.7" font-family="'Liberation Sans', Arial, sans-serif" font-size="22" font-weight="normal" font-style="normal" text-anchor="end" fill="#000">2</text>
<text x="46" y="1648.3" font-family="'Liberation Sans', Arial, sans-serif" font-size="22" font-weight="normal" font-style="normal" text-anchor="end" fill="#000">4</text>
<text x="46" y="1738" font-family="'Liberation Sans', Arial, sans-serif" font-size="22" font-weight="normal" font-style="normal" text-anchor="end" fill="#000">6</text>
<text x="21" y="1277.7" font-family="'Liberation Sans', Arial, sans-serif" font-size="20.8" font-weight="normal" font-style="normal" text-anchor="middle" fill="#000" transform="rotate(-90 21 1277.7)">time (s)</text>
<text x="21" y="1594" font-family="'Liberation Sans', Arial, sans-serif" font-size="20.8" font-weight="normal" font-style="normal" text-anchor="middle" fill="#000" transform="rotate(-90 21 1594)">time (s)</text>
<text x="56" y="1759" font-family="'Liberation Sans', Arial, sans-serif" font-size="22" font-weight="normal" font-style="normal" text-anchor="middle" fill="#000">0</text>
<text x="413.5" y="1756" font-family="'Liberation Serif', 'Times New Roman', serif" font-size="22" font-style="italic" text-anchor="middle">π</text>
<text x="238" y="1757.5" font-family="'Liberation Sans', Arial, sans-serif" font-size="20.8" font-weight="normal" font-style="normal" text-anchor="middle" fill="#000">bump orientation (rad)</text>
<text x="-0.8" y="1085.5" font-family="'Liberation Sans', Arial, sans-serif" font-size="42" font-weight="bold" font-style="normal" text-anchor="start" fill="#000">g</text>
<line x1="58.2" y1="1075.4" x2="91.6" y2="1075.4" stroke="#0396a4" stroke-width="4" stroke-linecap="round"/>
<text x="100.3" y="1081" font-family="'Liberation Sans', Arial, sans-serif" font-size="20.8" font-weight="normal" font-style="normal" text-anchor="start" fill="#000">stable regime</text>
<line x1="58.2" y1="1101.4" x2="91.6" y2="1101.4" stroke="#f08a12" stroke-width="4" stroke-linecap="round"/>
<text x="100.3" y="1107" font-family="'Liberation Sans', Arial, sans-serif" font-size="20.8" font-weight="normal" font-style="normal" text-anchor="start" fill="#000">unstable regime</text>
<rect x="460.5" y="1069.7" width="1271.8" height="26.2" fill="#fff" stroke="#000" stroke-width="2.2"/>
<circle cx="461" cy="1082.8" r="7" fill="#000"/>
<circle cx="1730.7" cy="1082.8" r="7" fill="#000"/>
<path d="M508.2 1077.3 519.2 1088.3" fill="none" stroke="#000" stroke-width="3.4"/>
<path d="M508.2 1088.3 519.2 1077.3" fill="none" stroke="#000" stroke-width="3.4"/>
<path d="M826.8 1077.3 837.8 1088.3" fill="none" stroke="#000" stroke-width="3.4"/>
<path d="M826.8 1088.3 837.8 1077.3" fill="none" stroke="#000" stroke-width="3.4"/>
<path d="M1090.9 1077.3 1101.9 1088.3" fill="none" stroke="#000" stroke-width="3.4"/>
<path d="M1090.9 1088.3 1101.9 1077.3" fill="none" stroke="#000" stroke-width="3.4"/>
<path d="M1355 1077.3 1366 1088.3" fill="none" stroke="#000" stroke-width="3.4"/>
<path d="M1355 1088.3 1366 1077.3" fill="none" stroke="#000" stroke-width="3.4"/>
<path d="M1674.8 1077.3 1685.8 1088.3" fill="none" stroke="#000" stroke-width="3.4"/>
<path d="M1674.8 1088.3 1685.8 1077.3" fill="none" stroke="#000" stroke-width="3.4"/>
<path d="M513.7 1095.9 513.7 1106.5 242.7 1126.7 242.7 1139.5" fill="none" stroke="#000" stroke-width="3"/>
<path d="M832.3 1095.9 832.3 1106.5 632.5 1125.8 632.5 1139.5" fill="none" stroke="#000" stroke-width="3"/>
<path d="M1096.4 1095.9 1096.4 1139.5" fill="none" stroke="#000" stroke-width="3"/>
<path d="M1360.5 1095.9 1360.5 1106.5 1477.3 1127 1477.3 1139.5" fill="none" stroke="#000" stroke-width="3"/>
<path d="M1680.3 1095.9 1680.3 1106.5 1890.2 1127 1890.2 1139.5" fill="none" stroke="#000" stroke-width="3"/>
<text x="1750" y="1089" font-family="'Liberation Sans', Arial, sans-serif" font-size="20.8" font-weight="normal" font-style="normal" text-anchor="start" fill="#000">excitation </text>
<text x="1841" y="1090" font-family="'Liberation Serif', 'Times New Roman', serif" font-size="27" text-anchor="start"><tspan dy="0">1/</tspan><tspan dy="0" font-style="italic">J</tspan><tspan dy="5" font-size="18.9" font-style="italic">E</tspan></text>
<rect x="2076.9" y="1197.6" width="15.1" height="159.2" fill="url(#gSpd)" stroke="#000" stroke-width="2"/>
<text x="2084.5" y="1186" font-family="'Liberation Sans', Arial, sans-serif" font-size="20.8" font-weight="normal" font-style="normal" text-anchor="middle" fill="#000">fast</text>
<text x="2087" y="1375.7" font-family="'Liberation Sans', Arial, sans-serif" font-size="20.8" font-weight="normal" font-style="normal" text-anchor="middle" fill="#000">slow</text>
<text x="2118" y="1280" font-family="'Liberation Sans', Arial, sans-serif" font-size="20.8" font-weight="normal" font-style="normal" text-anchor="middle" fill="#000" transform="rotate(-90 2118 1280)">drift speed</text>
<text x="2074" y="1516.8" font-family="'Liberation Serif', 'Times New Roman', serif" font-size="28"><tspan font-style="italic">v</tspan><tspan font-size="20.2" dy="3">in</tspan></text>
<line x1="2091.5" y1="1524" x2="2091.5" y2="1550.8" stroke="#000" stroke-width="2.5" stroke-linecap="butt"/>
<path d="M2097.9 1529.4 2091.5 1523 2085.1 1529.4" fill="none" stroke="#000" stroke-width="2.5" stroke-linecap="round" stroke-linejoin="round"/>
<line x1="2077.6" y1="1558.2" x2="2092.6" y2="1558.2" stroke="#0396a4" stroke-width="3.6" stroke-linecap="butt"/>
<line x1="2092.6" y1="1558.2" x2="2106.5" y2="1558.2" stroke="#f08a12" stroke-width="3.6" stroke-linecap="butt"/>
<line x1="2077.6" y1="1569.4" x2="2092.6" y2="1569.4" stroke="#1a9fac" stroke-width="3.6" stroke-linecap="butt"/>
<line x1="2092.6" y1="1569.4" x2="2106.5" y2="1569.4" stroke="#f19527" stroke-width="3.6" stroke-linecap="butt"/>
<line x1="2077.6" y1="1580.6" x2="2092.6" y2="1580.6" stroke="#30a9b4" stroke-width="3.6" stroke-linecap="butt"/>
<line x1="2092.6" y1="1580.6" x2="2106.5" y2="1580.6" stroke="#f39f3d" stroke-width="3.6" stroke-linecap="butt"/>
<line x1="2077.6" y1="1591.8" x2="2092.6" y2="1591.8" stroke="#47b2bd" stroke-width="3.6" stroke-linecap="butt"/>
<line x1="2092.6" y1="1591.8" x2="2106.5" y2="1591.8" stroke="#f4aa52" stroke-width="3.6" stroke-linecap="butt"/>
<line x1="2077.6" y1="1603" x2="2092.6" y2="1603" stroke="#5ebcc5" stroke-width="3.6" stroke-linecap="butt"/>
<line x1="2092.6" y1="1603" x2="2106.5" y2="1603" stroke="#f5b467" stroke-width="3.6" stroke-linecap="butt"/>
<line x1="2077.6" y1="1614.2" x2="2092.6" y2="1614.2" stroke="#74c5cd" stroke-width="3.6" stroke-linecap="butt"/>
<line x1="2092.6" y1="1614.2" x2="2106.5" y2="1614.2" stroke="#f7bf7d" stroke-width="3.6" stroke-linecap="butt"/>
<line x1="2077.6" y1="1625.4" x2="2092.6" y2="1625.4" stroke="#8bcfd5" stroke-width="3.6" stroke-linecap="butt"/>
<line x1="2092.6" y1="1625.4" x2="2106.5" y2="1625.4" stroke="#f8c992" stroke-width="3.6" stroke-linecap="butt"/>
<line x1="2077.6" y1="1636.6" x2="2092.6" y2="1636.6" stroke="#a2d8dd" stroke-width="3.6" stroke-linecap="butt"/>
<line x1="2092.6" y1="1636.6" x2="2106.5" y2="1636.6" stroke="#f9d4a7" stroke-width="3.6" stroke-linecap="butt"/>
<line x1="2077.6" y1="1647.8" x2="2092.6" y2="1647.8" stroke="#b8e2e6" stroke-width="3.6" stroke-linecap="butt"/>
<line x1="2092.6" y1="1647.8" x2="2106.5" y2="1647.8" stroke="#fbdebd" stroke-width="3.6" stroke-linecap="butt"/>
<line x1="2077.6" y1="1659" x2="2092.6" y2="1659" stroke="#cfebee" stroke-width="3.6" stroke-linecap="butt"/>
<line x1="2092.6" y1="1659" x2="2106.5" y2="1659" stroke="#fce9d2" stroke-width="3.6" stroke-linecap="butt"/>
<line x1="2091.3" y1="1668.5" x2="2091.3" y2="1689" stroke="#000" stroke-width="2.5" stroke-linecap="butt"/>
</svg></body></html>
